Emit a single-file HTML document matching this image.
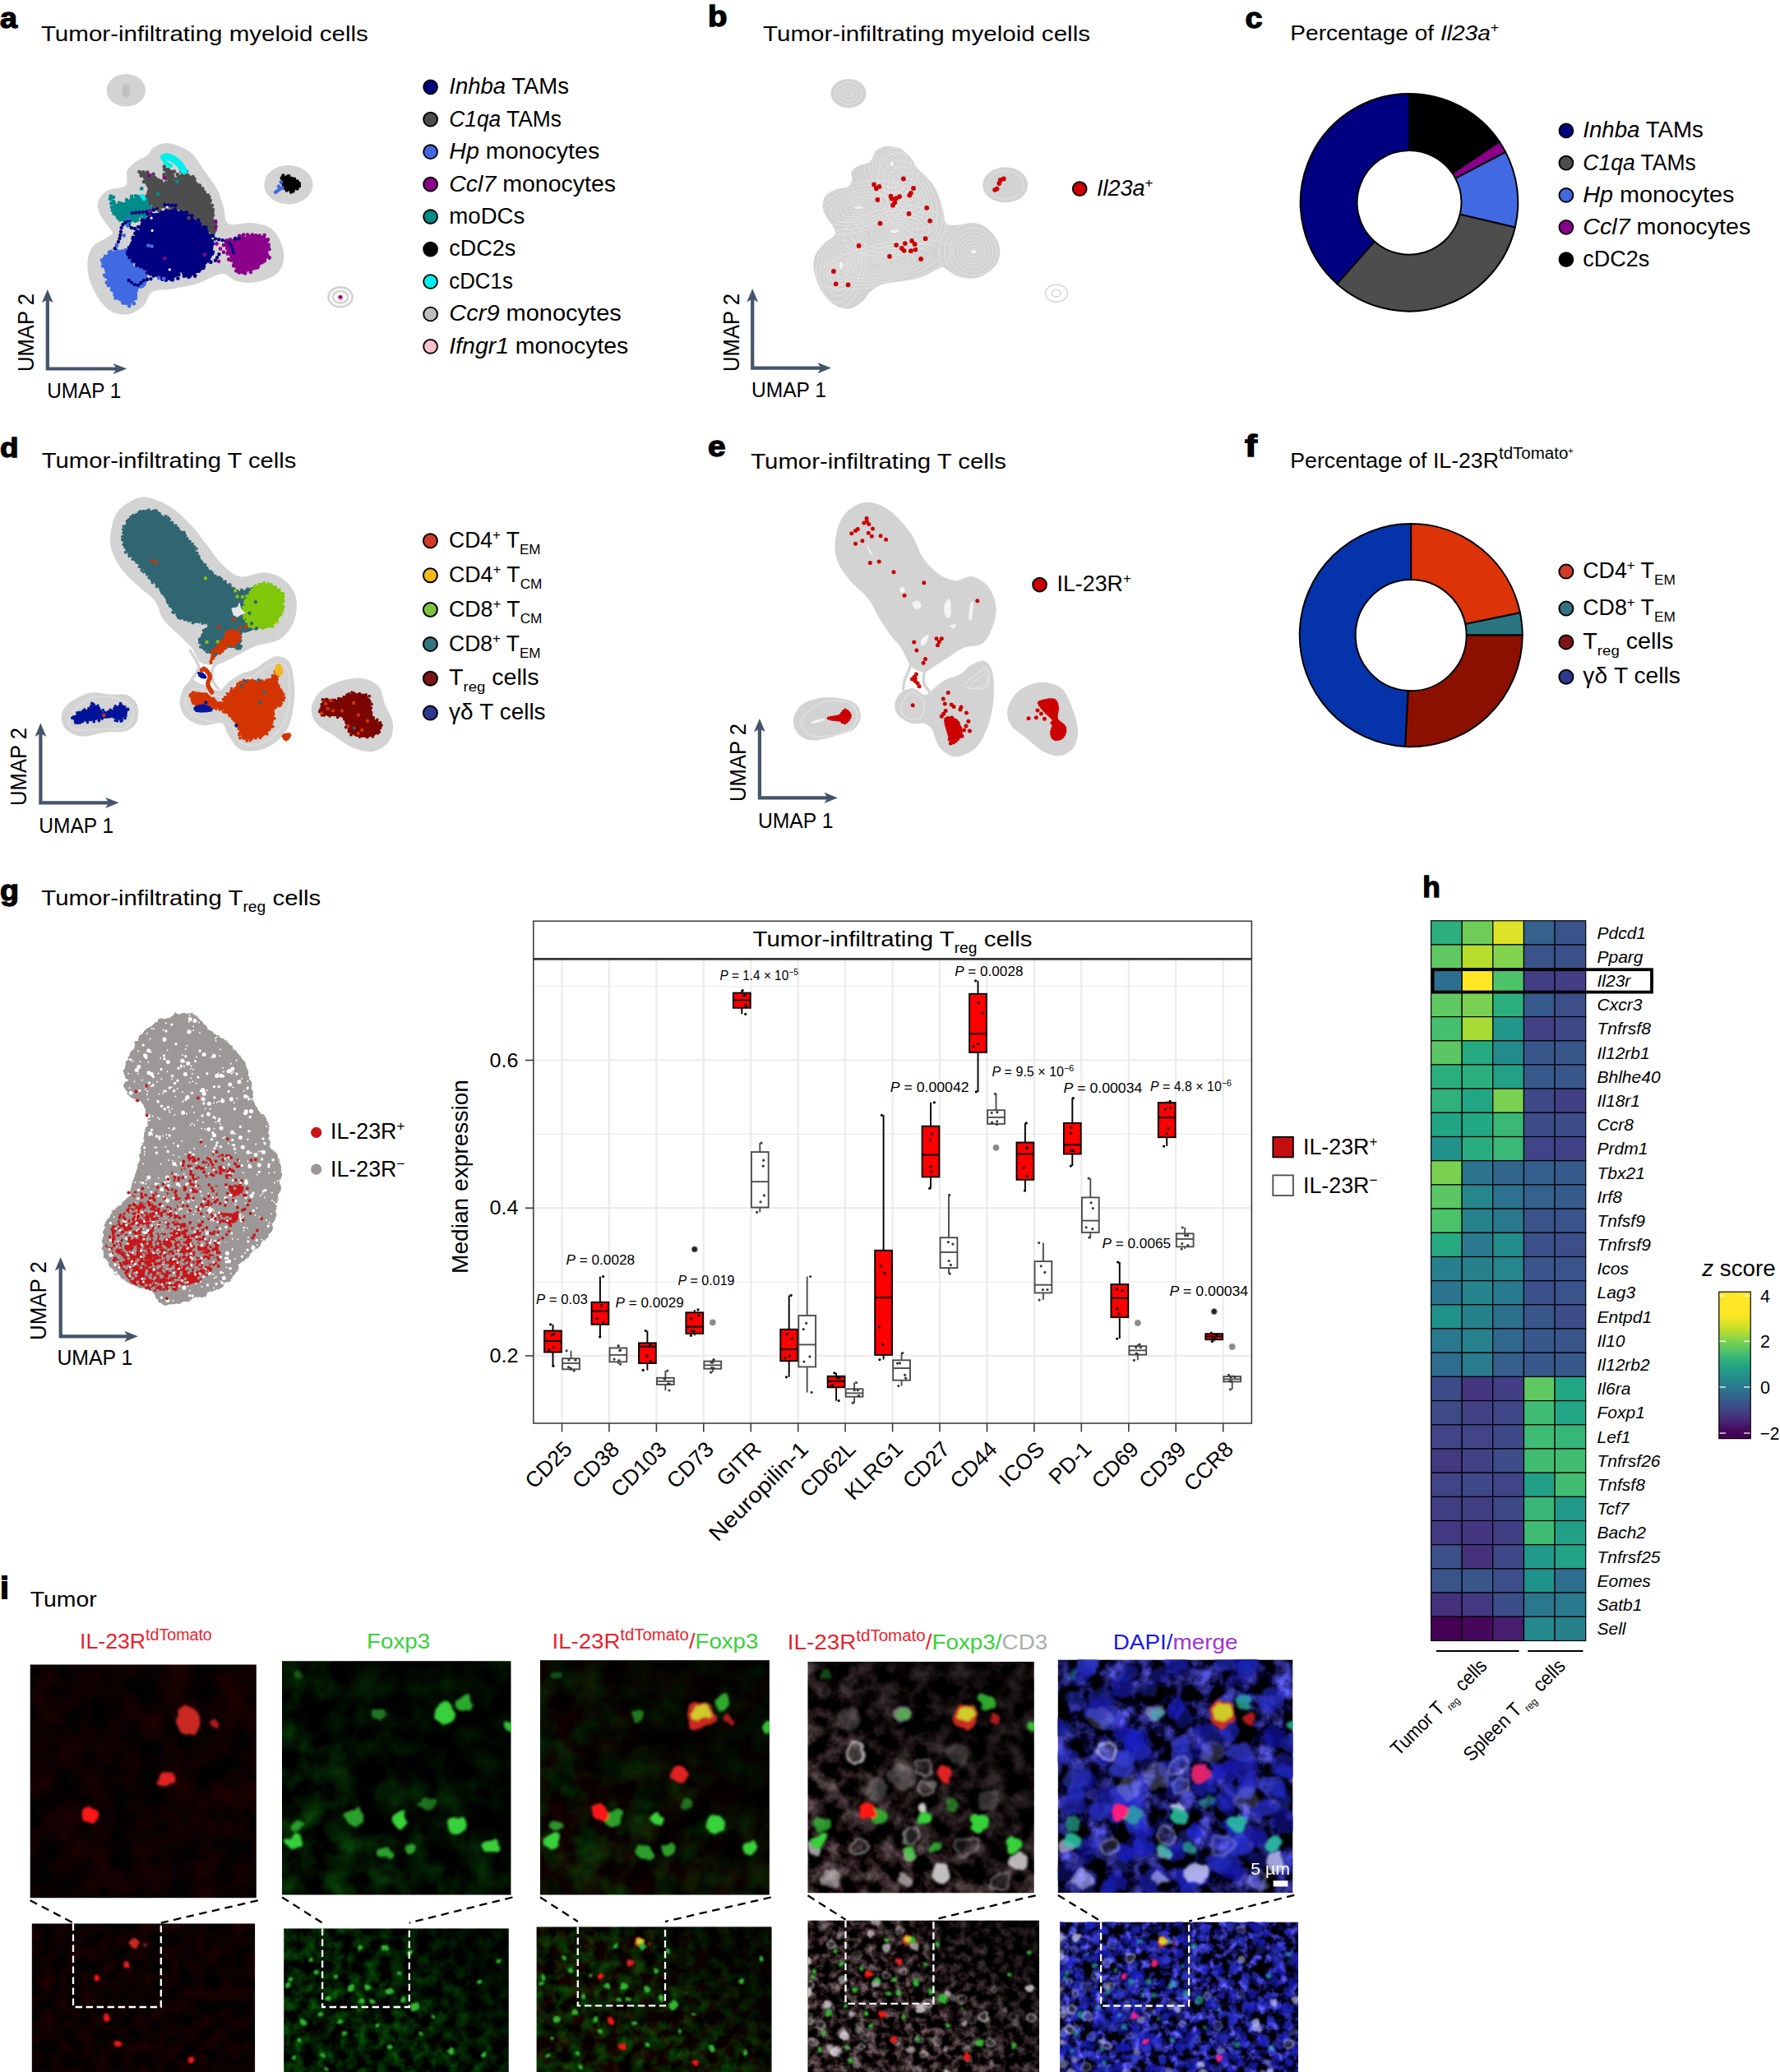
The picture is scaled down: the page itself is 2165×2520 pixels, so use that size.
<!DOCTYPE html>
<html><head><meta charset="utf-8"><title>Figure</title>
<style>
html,body{margin:0;padding:0;background:#fff}
svg{display:block;font-family:'Liberation Sans', sans-serif}
</style></head><body>
<svg width="2165" height="2520" viewBox="0 0 2165 2520">
<defs><filter id="b1" x="-30%" y="-30%" width="160%" height="160%"><feGaussianBlur stdDeviation="0.9"/></filter><filter id="b2" x="-30%" y="-30%" width="160%" height="160%"><feGaussianBlur stdDeviation="1.8"/></filter><filter id="b3" x="-30%" y="-30%" width="160%" height="160%"><feGaussianBlur stdDeviation="3.2"/></filter><filter id="b5" x="-30%" y="-30%" width="160%" height="160%"><feGaussianBlur stdDeviation="5.5"/></filter><filter id="cf" x="-20%" y="-20%" width="140%" height="140%"><feTurbulence type="fractalNoise" baseFrequency="0.06" numOctaves="2" seed="8" result="n"/><feDisplacementMap in="SourceGraphic" in2="n" scale="14" xChannelSelector="R" yChannelSelector="G"/><feGaussianBlur stdDeviation="1.5"/></filter><filter id="cfs" x="-20%" y="-20%" width="140%" height="140%"><feTurbulence type="fractalNoise" baseFrequency="0.12" numOctaves="2" seed="8" result="n"/><feDisplacementMap in="SourceGraphic" in2="n" scale="6" xChannelSelector="R" yChannelSelector="G"/><feGaussianBlur stdDeviation="0.8"/></filter><filter id="tR" x="0" y="0" width="100%" height="100%" color-interpolation-filters="sRGB"><feTurbulence type="fractalNoise" baseFrequency="0.03" numOctaves="3" seed="4"/><feColorMatrix type="matrix" values="0.2 0 0 0 -0.052  0 0.02 0 0 -0.008  0 0 0.015 0 -0.006  0 0 0 0 1"/></filter><filter id="tRs" x="0" y="0" width="100%" height="100%" color-interpolation-filters="sRGB"><feTurbulence type="fractalNoise" baseFrequency="0.06" numOctaves="3" seed="5"/><feColorMatrix type="matrix" values="0.2 0 0 0 -0.052  0 0.02 0 0 -0.008  0 0 0.015 0 -0.006  0 0 0 0 1"/></filter><filter id="tG" x="0" y="0" width="100%" height="100%" color-interpolation-filters="sRGB"><feTurbulence type="fractalNoise" baseFrequency="0.03" numOctaves="3" seed="9"/><feColorMatrix type="matrix" values="0 0.06 0 0 -0.022  0 0.55 0 0 -0.2  0 0.06 0 0 -0.022  0 0 0 0 1"/></filter><filter id="tGs" x="0" y="0" width="100%" height="100%" color-interpolation-filters="sRGB"><feTurbulence type="fractalNoise" baseFrequency="0.065" numOctaves="3" seed="11"/><feColorMatrix type="matrix" values="0 0.06 0 0 -0.022  0 0.66 0 0 -0.23  0 0.06 0 0 -0.022  0 0 0 0 1"/></filter><filter id="tRG" x="0" y="0" width="100%" height="100%" color-interpolation-filters="sRGB"><feTurbulence type="fractalNoise" baseFrequency="0.03" numOctaves="3" seed="9"/><feColorMatrix type="matrix" values="0.2 0 0 0 -0.052  0 0.5 0 0 -0.19  0 0.05 0 0 -0.02  0 0 0 0 1"/></filter><filter id="tRGs" x="0" y="0" width="100%" height="100%" color-interpolation-filters="sRGB"><feTurbulence type="fractalNoise" baseFrequency="0.065" numOctaves="3" seed="11"/><feColorMatrix type="matrix" values="0.2 0 0 0 -0.052  0 0.6 0 0 -0.215  0 0.05 0 0 -0.02  0 0 0 0 1"/></filter><filter id="tW" x="0" y="0" width="100%" height="100%" color-interpolation-filters="sRGB"><feTurbulence type="fractalNoise" baseFrequency="0.045" numOctaves="4" seed="21"/><feColorMatrix type="matrix" values="1.05 0 0 0 -0.4  0.93 0.05 0 0 -0.41  0.97 0 0 0 -0.4  0 0 0 0 1"/></filter><filter id="tWs" x="0" y="0" width="100%" height="100%" color-interpolation-filters="sRGB"><feTurbulence type="fractalNoise" baseFrequency="0.09" numOctaves="4" seed="23"/><feColorMatrix type="matrix" values="1.05 0 0 0 -0.4  0.93 0.05 0 0 -0.41  0.97 0 0 0 -0.4  0 0 0 0 1"/></filter><filter id="tB" x="0" y="0" width="100%" height="100%" color-interpolation-filters="sRGB"><feTurbulence type="fractalNoise" baseFrequency="0.04" numOctaves="4" seed="21"/><feColorMatrix type="matrix" values="0 0 1.0 0 -0.44  0 0 1.0 0 -0.44  0 0 2.3 0 -0.88  0 0 0 0 1"/></filter><filter id="tBs" x="0" y="0" width="100%" height="100%" color-interpolation-filters="sRGB"><feTurbulence type="fractalNoise" baseFrequency="0.085" numOctaves="4" seed="23"/><feColorMatrix type="matrix" values="0 0 1.0 0 -0.44  0 0 1.0 0 -0.44  0 0 2.5 0 -0.95  0 0 0 0 1"/></filter><linearGradient id="dk2" x1="0" y1="1" x2="0.9" y2="0"><stop offset="0.15" stop-color="#000" stop-opacity="0"/><stop offset="0.75" stop-color="#000" stop-opacity="0.62"/></linearGradient><linearGradient id="dk" x1="0" y1="0.6" x2="1" y2="0"><stop offset="0.35" stop-color="#000" stop-opacity="0"/><stop offset="0.8" stop-color="#000" stop-opacity="0.6"/></linearGradient><filter id="rag" x="-5%" y="-5%" width="110%" height="110%"><feTurbulence type="fractalNoise" baseFrequency="0.12" numOctaves="2" seed="2" result="n"/><feDisplacementMap in="SourceGraphic" in2="n" scale="7" xChannelSelector="R" yChannelSelector="G"/></filter></defs>
<rect width="2165" height="2520" fill="#fff"/>
<text x="0" y="33.6" font-size="35" textLength="21" lengthAdjust="spacingAndGlyphs" font-weight="bold" stroke="#000" stroke-width="1.3">a</text>
<text x="49.9" y="50.4" font-size="26.7" textLength="398" lengthAdjust="spacingAndGlyphs">Tumor-infiltrating myeloid cells</text>
<path d="M205.3,174.2C212.7,175.2 224.2,179.4 231.6,185.3C239,191.2 244.4,202.1 249.8,209.6C255.2,217 260.2,222.7 263.9,229.8C267.7,236.9 269.7,245 272,252C274.4,259.1 272,269.1 278.1,272.3C284.2,275.5 299.3,269.9 308.4,271.3C317.5,272.6 326.7,274.5 332.7,280.4C338.8,286.3 343.8,298.2 344.9,306.7C345.9,315.1 344.2,324.9 338.8,330.9C333.4,337 320.9,341.2 312.5,343.1C304.1,344.9 295.3,343.7 288.2,342C281.1,340.4 278.1,332.4 270,332.9C261.9,333.5 249.5,342 239.7,345.1C229.9,348.1 220.5,349.5 211.4,351.1C202.3,352.8 191.1,351.8 185.1,355.2C179,358.6 180,366.8 175,371.4C169.9,375.9 162.1,381.8 154.7,382.5C147.3,383.2 137.5,381 130.5,375.4C123.4,369.9 116.3,357.9 112.2,349.1C108.2,340.4 106.2,330.9 106.2,322.8C106.2,314.7 108.2,306.3 112.2,300.6C116.3,294.9 126.4,291.5 130.5,288.4C134.5,285.4 137.9,286.8 136.5,282.4C135.2,278 125.2,268.2 122.4,262.2C119.5,256.1 118,251 119.3,246C120.7,240.9 124.9,235.2 130.5,231.8C136,228.4 148.7,229.8 152.7,225.7C156.7,221.7 152.4,212.6 154.7,207.5C157.1,202.5 162.8,198.4 166.9,195.4C170.9,192.4 175.6,192 179,189.3C182.4,186.6 182.7,181.8 187.1,179.2C191.5,176.7 197.9,173.2 205.3,174.2Z" fill="#d3d3d3" />
<ellipse cx="153.3" cy="109.8" rx="23.7" ry="19.8" fill="#d3d3d3"/>
<ellipse cx="153.3" cy="110.3" rx="4.9" ry="8.5" fill="#c1c1c1"/>
<ellipse cx="350.9" cy="224.7" rx="29.7" ry="23.7" fill="#d3d3d3"/>
<ellipse cx="414" cy="361.3" rx="14.6" ry="11.9" fill="none" stroke="#d3d3d3" stroke-width="2.6"/>
<ellipse cx="414" cy="361.3" rx="9.1" ry="7.3" fill="none" stroke="#d3d3d3" stroke-width="2.6"/>
<circle cx="414" cy="362.3" r="3.6" fill="#ffc0cb"/><circle cx="414" cy="361.3" r="2.4" fill="#8b008b"/>
<path d="M134.9,238.3L136,240.2L138,244.7L140.6,248L143.5,248.5L146.8,247.7L150.7,246.4L153.2,245.3L156,243.9L158.8,242.4L161.8,241.1L164.8,240.3L168.2,240L171.8,239.9L175.4,240.2L178.6,240.9L181,241.9L183.6,244.9L184.7,249L184.1,253.1L182.5,255.4L180,257.9L177,260.3L173.9,262.6L170.9,264.6L168.1,266.3L165.2,267.9L162.3,269.2L159.4,270.2L156.7,270.6L153.5,270.6L150.5,269.9L147.6,268.6L145,266.6L143.2,264.4L141.6,261.7L140.1,258.6L138.8,255.4L137.7,252.4L136.5,248.3L135.5,243.9L134.9,240.1Z" fill="#008b8b"/><path d="M134.7,238.6h0M137.9,240h0M138.1,245.1h0M139.1,248h0M144.1,249.8h0M145,246.8h0M148.8,247.8h0M154.1,243.2h0M158.2,246h0M159.5,242.9h0M160.2,238.9h0M165,238.3h0M166.7,238.8h0M169.6,239.8h0M175.1,241.8h0M178.7,241.5h0M181,242.7h0M183.4,243.9h0M187,251.2h0M185.6,254h0M181.6,254.2h0M179,255.9h0M178.2,259.9h0M175.5,262.1h0M173,266.2h0M165.8,265h0M167.1,267.7h0M164.5,268.7h0M157.5,270.8h0M158,269.6h0M151.6,269.8h0M152.6,271.1h0M145.8,267.4h0M143.2,264.6h0M144.6,262.9h0M141.8,261.4h0M138.7,259.7h0M137.1,256.1h0M136,252.1h0M135.2,247.3h0M137.7,245.3h0M134,241.9h0" stroke="#008b8b" stroke-width="4.8" stroke-linecap="round" fill="none"/>
<path d="M170.9,209.6L172.8,208.9L176.3,209.4L180.7,210.8L185.1,212.6L187.6,214L190.6,216.1L193.7,218.4L196.7,220.7L199.5,222.5L201.7,223.7L203.3,223.7L203.8,222L203.3,218.7L202.2,214.5L201,210.2L200.2,206.7L200.2,204.5L202.3,203.9L205.6,205.2L209,207.4L211.4,209.6L211.7,213.3L210.9,217.6L211.4,219.7L213,218.7L215.3,216.2L218.1,213.3L220.9,210.7L223.5,209.6L226.4,210.1L229.3,211.8L232.3,214.5L235.6,217.7L237.5,219.4L239.6,221.4L241.8,223.6L244.1,225.9L246.3,228.3L248.4,230.8L250.2,233.3L251.8,235.9L253.2,238.8L254.3,241.9L255.2,245L256,248.2L256.6,251.5L257.2,254.8L257.9,258.1L258.6,261.2L259.4,264.6L260.2,268.2L260.9,271.8L261.5,275.1L262,278.1L262.1,280.6L261.9,282.4L260,284.3L256.5,283.2L251.8,280.4L250,279L248,277.2L245.8,275.1L243.5,272.9L241.1,270.5L238.7,268.1L236.3,265.9L233.9,263.9L231.6,262.2L228.7,260.3L225.8,258.6L222.9,257.1L220,255.8L217.1,254.7L214.2,253.8L211.4,253.1L207.9,252.6L204.2,252.8L200.6,253.1L197.1,253.5L193.9,253.5L191.1,253.1L187.7,251.4L184.9,249.1L182.7,246.3L181,242.9L180.3,240.3L180,237.4L179.9,234.2L179.8,230.9L179.6,227.7L179,224.7L177.4,221.2L175.1,217.6L172.8,214.2L171.2,211.4Z" fill="#4d4d4d"/><path d="M169.6,209.1h0M174.4,209.5h0M174.5,211.7h0M179.4,209.7h0M186.3,211.8h0M186.7,212.1h0M188.7,216.5h0M192.5,218.9h0M196.2,220.4h0M201.6,222.4h0M202.1,225.3h0M201.8,222.1h0M205.7,223.5h0M202.2,217.2h0M203.3,216.5h0M199.6,212.3h0M201.9,207.1h0M199.9,202.7h0M200.2,206.1h0M204.4,206.1h0M207.9,208.9h0M211.8,208.6h0M210.2,214.3h0M208.9,216.4h0M211.6,221.3h0M213.5,217.6h0M217.3,214.9h0M215.8,212.2h0M220.6,208.7h0M222,209h0M226.8,208.4h0M228.7,213.6h0M234.5,215.2h0M236.5,218h0M235.9,217.3h0M237.4,223.3h0M242.8,225.7h0M241.9,226.5h0M246.2,229.4h0M247.6,233.1h0M248.3,233.5h0M252.9,237.7h0M254.3,239.7h0M255.7,243.8h0M254.5,245.9h0M257.8,249.9h0M256.2,252.8h0M258.9,255.1h0M258.5,257.6h0M259,261.7h0M257.4,265.3h0M262.4,270h0M262,271.2h0M262.6,275.5h0M261.7,279.7h0M260.2,281.7h0M259.8,282.8h0M259.9,283h0M257.4,283.2h0M252.3,282.3h0M248.9,276.7h0M247.1,278h0M244.5,273.6h0M245.4,273.6h0M240.9,272.3h0M237.9,268.9h0M234.9,265.6h0M235.3,265.8h0M233.3,261.6h0M229.1,259.5h0M224.1,258.6h0M224.5,258.7h0M221,257.9h0M216.1,253.2h0M214,252.8h0M210,252.7h0M208.4,252.6h0M203.4,254.3h0M202.8,252.9h0M195.2,251.3h0M195.6,251.4h0M192.1,253.4h0M186.8,252.8h0M182.7,247.5h0M182.5,244.1h0M182.5,241.7h0M178.6,238.3h0M180.6,237.1h0M180.5,234.9h0M181.2,233h0M180.4,226.3h0M178.9,223.3h0M175.2,221.1h0M176.1,216.1h0M171.8,213.5h0M172.1,211.5h0" stroke="#4d4d4d" stroke-width="4.8" stroke-linecap="round" fill="none"/>
<path d="M199.2,191.4C200.1,191.2 202.1,189.9 204.5,190.6C206.9,191.2 211.1,193.4 213.8,195.4C216.4,197.4 218.8,200.4 220.5,202.5C222.1,204.6 223.3,207 223.9,207.9" fill="none" stroke="#00eeee" stroke-width="8.5" stroke-linecap="round"/>
<path d="M200.2,193.4C200.5,194.3 200.5,197.3 201.7,198.6C202.8,200 206.4,201 207.3,201.5" fill="none" stroke="#00eeee" stroke-width="5.5" stroke-linecap="round"/>
<path d="M126.8,312.7L128.5,310.7L131,308.9L134,307.4L137.1,306.2L140.2,305.3L143,304.6L146.9,304.2L150.8,304.3L154.4,305.3L157.2,307.1L158.4,309.5L159,312.9L159.3,316.7L159.9,320.2L161.2,322.8L164.3,324.6L168.3,325.4L172.3,326L175.4,327.3L177.9,330L179.3,333.4L179,337.4L177.9,339.7L176,342.3L173.7,345L171.3,347.8L169.1,350.6L167.3,353.2L165.7,356.3L164.4,359.5L163.4,362.5L162.3,365.2L161.2,367.3L158.5,370.5L155.1,371L152.5,370L149.3,368.4L146,366.1L143,363.3L141.1,361.1L139.3,358.5L137.5,355.7L135.8,352.8L134.2,349.9L132.9,347.1L131.5,343.9L130.3,340.7L129.3,337.5L128.5,334.3L127.8,330.9L127.2,327.9L126.6,324.6L126,321.3L125.7,318.1L125.9,315.2Z" fill="#4169e1"/><path d="M127.3,313.9h0M128,312h0M132.9,307h0M135.9,308.4h0M135.4,306h0M140.8,307.1h0M142.4,304.9h0M148.7,305.5h0M152.9,304.2h0M155.1,303.9h0M158.2,308.5h0M159.1,310.5h0M157.7,314.8h0M161.5,318.9h0M160.1,321.5h0M160.4,324.7h0M165.9,323.9h0M166.4,325.1h0M172.6,327.3h0M175.3,325.1h0M179.3,328h0M180.7,331.9h0M178.2,338.7h0M176.2,338.1h0M176.1,343.3h0M175.3,345.9h0M173.4,347.8h0M171.1,348.7h0M166,353.3h0M164.7,357.3h0M165.1,359.6h0M164.9,362.8h0M161.5,364.7h0M162.8,369.2h0M157.2,372.1h0M157.3,371.1h0M152.8,368.7h0M149.5,368.4h0M146.5,363.9h0M145.2,363.4h0M140.7,362.5h0M139.6,358.5h0M138.4,353.7h0M136,352.4h0M136.4,351.8h0M131.8,347h0M129.8,343.6h0M131.8,342.6h0M129.2,336.7h0M127.1,334.8h0M129.8,329.2h0M128.5,325.7h0M125.1,323.4h0M126.9,320.5h0M125.1,318.7h0M124.1,316.3h0" stroke="#4169e1" stroke-width="4.8" stroke-linecap="round" fill="none"/>
<path d="M200,258.5L203,258.1L206.1,257.5L209.3,257L212.6,256.7L215.8,256.9L219,257.6L222.3,258.6L225.5,259.9L228.6,261.5L231.6,263.2L234.3,265.1L236.9,267.3L239.4,269.6L241.8,272L244.1,274.3L246.6,276.4L249,278.5L251.4,280.6L253.5,282.8L255.3,285.2L256.9,288.5L258,292.1L258.7,295.8L259.1,299.4L259.1,303L258.7,306.6L257.9,310.2L256.7,313.5L254.9,316.6L252.6,319.4L250,322.1L247.4,324.7L244.7,327.2L241.9,329.8L239,332.1L236.2,334L232.3,336L228.5,337.3L225.3,337.2L223.4,334.3L222.1,329.9L220.7,327.7L218.9,329.7L217,333.9L214.2,337.2L211.2,338.3L207.5,338.8L203.6,338.9L200,338.8L196.7,338.5L193.5,337.8L190.4,336.8L187.5,335.6L185,333.9L182.9,331.8L180.7,329.7L178.2,327.7L175.1,326.1L171.7,324.7L168.4,323.3L165.4,321.4L162.9,319.1L160.7,316.3L158.9,313.4L157.6,310.5L156.9,307.4L156.7,304.2L156.9,301L157.6,298L158.7,295.1L160.3,292.3L162.2,289.6L164,286.8L166,284.1L168.1,281.3L170.1,278.5L171.7,275.9L172.8,272.5L173.3,269.3L175,266.4L177.4,264.5L180.6,262.8L184.1,261.3L187.5,260.1L190.6,259.4L193.6,259L196.7,258.8Z" fill="#000080"/><path d="M198.3,258.6h0M201.8,256.7h0M206.2,257.2h0M208.8,256.6h0M212.7,255.1h0M214.4,257.5h0M219.7,257.7h0M223.9,259.1h0M227.1,258.7h0M229.7,262.9h0M233.4,262.3h0M233.5,267h0M235.6,269.6h0M241.2,267.9h0M240.6,273h0M243,272.4h0M248.1,276.1h0M250.4,276.8h0M250.9,281.5h0M251.3,281.4h0M256.1,287.1h0M259,286.8h0M258,293.3h0M258.8,296.6h0M257.7,297.4h0M257.3,300.9h0M258.9,306.7h0M258.2,308.6h0M255.2,312.2h0M256.4,318.8h0M254.5,317.5h0M248,324.1h0M247.2,325.9h0M243.9,327.1h0M242,329.5h0M239.5,329.9h0M237.2,335.5h0M230.9,335.7h0M229.6,336.8h0M223.9,335.7h0M223.4,332h0M223.9,331.3h0M221.6,329.3h0M219.5,329.3h0M217.4,333.9h0M216.4,338.6h0M210,340.2h0M208.6,340.1h0M205.1,338.5h0M201.9,340.6h0M197.6,339.7h0M194.7,337.4h0M191.4,334.8h0M186.8,335.4h0M182.8,333.2h0M183.5,332.4h0M179.4,331.7h0M179,326.9h0M175.9,326.4h0M171.9,324.2h0M170.7,323.9h0M166.4,322.6h0M165.2,316.9h0M161.2,317.4h0M157.7,313h0M155.5,309.1h0M156.3,305.6h0M155.5,306.1h0M157.1,301.1h0M159.7,298.3h0M161,295.7h0M161.7,290.3h0M162.6,290.8h0M161.9,288.8h0M164.4,283.9h0M166.6,281.2h0M170.6,276.5h0M173.8,275.5h0M172.9,273h0M172.7,268.3h0M175.7,266.7h0M176.4,265.5h0M179.7,260.5h0M183,259.2h0M185.9,261.3h0M190,261.2h0M194.7,257h0M198.9,260.9h0" stroke="#000080" stroke-width="4.8" stroke-linecap="round" fill="none"/>
<path d="M274.1,296.3L275.4,294.1L277.9,292.5L281.1,291.2L285,290.1L287.6,289.4L290.7,288.8L294,288.2L297.4,287.7L300.9,287.3L304.1,287L307,286.8L310.8,286.7L314.4,286.6L317.7,286.8L320.6,287.3L322.8,288.4L324.6,290.8L325.5,293.9L325.9,297.5L326,301L326.3,304.5L326.3,308.2L325.8,311.8L324.4,315.1L322.8,317.2L320.8,319.3L318.4,321.2L315.8,323L313.1,324.7L310.3,326.3L307.2,327.8L303.8,329.3L300.3,330.7L296.8,331.8L293.7,332.5L291.3,332.5L288.2,330.7L286.6,327L285,323L283.4,320.2L281.7,317.1L280.2,313.8L278.7,310.5L277.1,306.9L275.3,303L274.1,299.4Z" fill="#8b008b"/><path d="M272.1,298.2h0M275.1,294h0M280,291.3h0M281.2,293.2h0M286,289.9h0M289.8,290.9h0M291.1,287h0M294.6,288h0M296.1,285.7h0M301,285.6h0M303.9,287.8h0M306.8,285.7h0M311.2,286.3h0M315.7,286.7h0M320,288.9h0M321.6,286.1h0M321,290.3h0M325.9,291.4h0M324.9,292.9h0M326.7,297.8h0M326.5,301.6h0M327.4,303.1h0M325.2,310.4h0M327.7,313.5h0M322.3,313.1h0M321.8,316.9h0M321.4,317.4h0M318.6,319.2h0M313.9,323.8h0M313.3,325.3h0M309.7,326.2h0M305.9,327.1h0M304.9,330.9h0M298.3,328.9h0M298.2,332.4h0M295,331.1h0M290.9,331.4h0M289.6,330h0M287.3,329.3h0M284.2,323.3h0M284.5,322.1h0M281.4,316.5h0M278.3,315.5h0M276.8,308.6h0M277.4,306.8h0M276.2,302.1h0M275.4,297.4h0" stroke="#8b008b" stroke-width="4.8" stroke-linecap="round" fill="none"/>
<path d="M343.2,216L345.3,213.9L349.3,214L351.8,215L355,216.5L358.3,218.4L361.2,220.3L363.1,222.1L363.2,226.3L361,229.8L357,232.6L353.1,232.8L349.3,231.8L346.9,229.3L345.3,225.7L344.1,222.5L343.2,218.8Z" fill="#000"/><path d="M342.7,216.4h0M344.4,213.5h0M349.8,214.4h0M351.4,214.3h0M354.7,217h0M358.1,217.6h0M361.6,220.5h0M363.9,223h0M364,226.2h0M361.6,229.4h0M356.6,232.4h0M354,233.6h0M348.8,231.5h0M346.7,229.1h0M345.1,225.5h0M343.5,222.6h0M343.8,218.9h0" stroke="#000" stroke-width="4.4" stroke-linecap="round" fill="none"/>
<path d="M172.9,238.3h0M175,241.5h0" stroke="#00eeee" stroke-width="5.2" stroke-linecap="round" fill="none"/>
<path d="M156.7,268.2C155.4,269.2 150.3,271.6 148.7,274.3C147,277 147.3,281.4 146.6,284.4C146,287.4 145.8,289.5 144.6,292.5C143.4,295.5 140.4,300.9 139.6,302.6" fill="none" stroke="#000080" stroke-width="4.4" stroke-linecap="round" stroke-dasharray="0 4.4"/>
<path d="M160.8,259.1C162.5,258.9 167.5,258.4 170.9,258.1C174.3,257.8 177.6,257.8 181,257.1C184.4,256.4 189.4,254.6 191.1,254.1" fill="none" stroke="#000080" stroke-width="4.4" stroke-linecap="round" stroke-dasharray="0 4.4"/>
<path d="M156.7,274.3C157.8,275 160.5,278.3 162.8,278.3C165.2,278.3 169.6,275 170.9,274.3" fill="none" stroke="#000080" stroke-width="4.4" stroke-linecap="round" stroke-dasharray="0 4.4"/>
<path d="M200.2,249C202.4,249.2 211.2,249.8 213.4,250" fill="none" stroke="#000080" stroke-width="4.4" stroke-linecap="round" stroke-dasharray="0 4.4"/>
<path d="M261.9,290.5C263.6,290.8 269,291.5 272,292.5C275.1,293.5 278.1,293.8 280.1,296.5C282.2,299.2 283.5,306.7 284.2,308.7" fill="none" stroke="#000080" stroke-width="4.4" stroke-linecap="round" stroke-dasharray="0 4.4"/>
<path d="M286.2,290.5C287.5,290.3 292.9,289.6 294.3,289.5" fill="none" stroke="#000080" stroke-width="4.4" stroke-linecap="round" stroke-dasharray="0 4.4"/>
<path d="M261.9,316.8C262.9,315.1 267,308.3 268,306.7" fill="none" stroke="#000080" stroke-width="4.4" stroke-linecap="round" stroke-dasharray="0 4.4"/>
<path d="M156.7,341C158.4,342 163.8,347.1 166.9,347.1C169.9,347.1 171.9,342.4 175,341C178,339.7 183.4,339.4 185.1,339" fill="none" stroke="#000080" stroke-width="4.4" stroke-linecap="round" stroke-dasharray="0 4.4"/>
<path d="M229.6,335C230.2,334.3 232.9,331.6 233.6,330.9" fill="none" stroke="#000080" stroke-width="4.4" stroke-linecap="round" stroke-dasharray="0 4.4"/>
<path d="M200.2,314.3h0M181.4,213.2h0M199.8,216h0M182,257.1h0M261.9,269.2h0M261.9,276.7h0M263.5,296.5h0M268,302.6h0M272,306.7h0M266,317.8h0M248.8,309.7h0M276.1,292.5h0" stroke="#8b008b" stroke-width="4.8" stroke-linecap="round" fill="none"/>
<path d="M172.3,229.4h0M215.4,220.7h0M192.1,235.9h0M176,264.2h0" stroke="#008b8b" stroke-width="4.8" stroke-linecap="round" fill="none"/>
<path d="M180.4,298.6h0M184.7,299.6h0M156.3,265.8h0M155.1,274.3h0M150.7,286.4h0M142.2,298.6h0M193.2,338h0M199.2,339h0" stroke="#4169e1" stroke-width="4.8" stroke-linecap="round" fill="none"/>
<path d="M193.2,256.1h0M229.6,265.2h0M258.9,282.4h0" stroke="#4d4d4d" stroke-width="4.8" stroke-linecap="round" fill="none"/>
<path d="M184.1,265.2h0M203.3,252h0M185.1,280.4h0M206.3,327.9h0" stroke="#ffffff" stroke-width="3.2" stroke-linecap="round" fill="none"/>
<path d="M335.1,233.8C336.1,233.2 339,230.8 340.8,229.8C342.6,228.8 345,228.1 345.9,227.8" fill="none" stroke="#4169e1" stroke-width="4.6" stroke-linecap="round" stroke-dasharray="0 2.5"/>
<path d="M341.8,221.3h0M339.2,226.8h0" stroke="#4169e1" stroke-width="4.8" stroke-linecap="round" fill="none"/>
<path d="M57.8,363.9V448.5H142.2" fill="none" stroke="#44546a" stroke-width="4.2" stroke-linejoin="miter"/><path d="M57.8,351.9L50.9,368.3L57.8,364.3L64.7,368.3Z" fill="#44546a"/><path d="M154.2,448.5L137.6,441.9L141.8,448.5L137.6,455.1Z" fill="#44546a"/>
<text x="40.6" y="452" font-size="28.2" textLength="95" lengthAdjust="spacingAndGlyphs" transform="rotate(-90 40.6 452)">UMAP 2</text>
<text x="57.3" y="483.9" font-size="26.2" textLength="90" lengthAdjust="spacingAndGlyphs">UMAP 1</text>
<circle cx="523.6" cy="105.8" r="8.4" fill="#000080" stroke="#000" stroke-width="1.9"/>
<text x="546.3" y="114.2" font-size="27" textLength="145.7" lengthAdjust="spacingAndGlyphs"><tspan font-style="italic">Inhba</tspan> TAMs</text>
<circle cx="523.6" cy="145.2" r="8.4" fill="#4d4d4d" stroke="#000" stroke-width="1.9"/>
<text x="546.3" y="153.7" font-size="27" textLength="136.6" lengthAdjust="spacingAndGlyphs"><tspan font-style="italic">C1qa</tspan> TAMs</text>
<circle cx="523.6" cy="184.7" r="8.4" fill="#4169e1" stroke="#000" stroke-width="1.9"/>
<text x="546.3" y="193.1" font-size="27" textLength="182.9" lengthAdjust="spacingAndGlyphs"><tspan font-style="italic">Hp</tspan> monocytes</text>
<circle cx="523.6" cy="224.2" r="8.4" fill="#8b008b" stroke="#000" stroke-width="1.9"/>
<text x="546.3" y="232.6" font-size="27" textLength="202.7" lengthAdjust="spacingAndGlyphs"><tspan font-style="italic">Ccl7</tspan> monocytes</text>
<circle cx="523.6" cy="263.6" r="8.4" fill="#008b8b" stroke="#000" stroke-width="1.9"/>
<text x="546.3" y="272" font-size="27" textLength="92" lengthAdjust="spacingAndGlyphs">moDCs</text>
<circle cx="523.6" cy="303.1" r="8.4" fill="#000000" stroke="#000" stroke-width="1.9"/>
<text x="546.3" y="311.4" font-size="27" textLength="81" lengthAdjust="spacingAndGlyphs">cDC2s</text>
<circle cx="523.6" cy="342.5" r="8.4" fill="#00eeee" stroke="#000" stroke-width="1.9"/>
<text x="546.3" y="350.9" font-size="27" textLength="77.5" lengthAdjust="spacingAndGlyphs">cDC1s</text>
<circle cx="523.6" cy="382" r="8.4" fill="#bebebe" stroke="#000" stroke-width="1.9"/>
<text x="546.3" y="390.4" font-size="27" textLength="209.5" lengthAdjust="spacingAndGlyphs"><tspan font-style="italic">Ccr9</tspan> monocytes</text>
<circle cx="523.6" cy="421.4" r="8.4" fill="#ffc0cb" stroke="#000" stroke-width="1.9"/>
<text x="546.3" y="429.8" font-size="27" textLength="218" lengthAdjust="spacingAndGlyphs"><tspan font-style="italic">Ifngr1</tspan> monocytes</text>
<text x="861" y="31.5" font-size="35" textLength="23.5" lengthAdjust="spacingAndGlyphs" font-weight="bold" stroke="#000" stroke-width="1.3">b</text>
<text x="928" y="50.3" font-size="26.7" textLength="398" lengthAdjust="spacingAndGlyphs">Tumor-infiltrating myeloid cells</text>
<clipPath id="cb"><path d="M1082.6,177.9C1086.3,178.2 1091.9,179 1096.1,181.2C1100.2,183.5 1103.9,187.4 1107.3,191.3C1110.7,195.3 1112.9,200.7 1116.3,204.8C1119.7,209 1124.2,212.3 1127.5,216.1C1130.9,219.8 1133.9,222.8 1136.5,227.3C1139.1,231.8 1141.4,237.8 1143.3,243C1145.1,248.3 1146.4,253.9 1147.8,258.8C1149.1,263.6 1148.1,269.8 1151.1,272.2C1154.1,274.7 1160.3,273.6 1165.7,273.4C1171.2,273.2 1178.1,270.6 1183.7,271.1C1189.3,271.7 1194.8,273.6 1199.4,276.7C1204.1,279.9 1209,285.4 1211.8,290.2C1214.6,295.1 1216.3,300.7 1216.3,306C1216.3,311.2 1214.6,317.2 1211.8,321.7C1209,326.2 1204.1,330.1 1199.4,332.9C1194.8,335.7 1189.3,338 1183.7,338.5C1178.1,339.1 1171,338 1165.7,336.3C1160.5,334.6 1155.6,330.3 1152.2,328.4C1148.9,326.6 1149.3,324.3 1145.5,325.1C1141.8,325.8 1135.4,330.5 1129.8,332.9C1124.2,335.4 1118.5,338 1111.8,339.7C1105.1,341.3 1096.1,341.9 1089.3,343C1082.6,344.2 1076.6,344.3 1071.3,346.4C1066.1,348.5 1061.6,352 1057.9,355.4C1054.1,358.8 1053,363.3 1048.9,366.6C1044.8,370 1038.8,374.9 1033.1,375.6C1027.5,376.4 1020.4,374.1 1015.2,371.1C1009.9,368.1 1005.4,362.9 1001.7,357.6C997.9,352.4 994.8,345.7 992.7,339.7C990.6,333.7 989.3,326.9 989.3,321.7C989.3,316.4 990.3,312.7 992.7,308.2C995.1,303.7 1000.2,298.5 1003.9,294.7C1007.7,291 1013.5,288.7 1015.2,285.7C1016.9,282.7 1015.5,280.1 1014,276.7C1012.5,273.4 1008.4,269.6 1006.2,265.5C1003.9,261.4 1000.9,256.5 1000.6,252C1000.2,247.5 1001.5,242.1 1003.9,238.5C1006.4,235 1010.7,232.5 1015.2,230.7C1019.7,228.8 1027.3,229.4 1030.9,227.3C1034.5,225.2 1035.8,221.3 1036.5,218.3C1037.3,215.3 1034.1,212.1 1035.4,209.3C1036.7,206.5 1040.6,203.5 1044.4,201.5C1048.1,199.4 1054.5,199.8 1057.9,197C1061.2,194.2 1062,187.6 1064.6,184.6C1067.2,181.6 1070.6,180.1 1073.6,179C1076.6,177.9 1078.8,177.5 1082.6,177.9Z"/></clipPath>
<path d="M1082.6,177.9C1086.3,178.2 1091.9,179 1096.1,181.2C1100.2,183.5 1103.9,187.4 1107.3,191.3C1110.7,195.3 1112.9,200.7 1116.3,204.8C1119.7,209 1124.2,212.3 1127.5,216.1C1130.9,219.8 1133.9,222.8 1136.5,227.3C1139.1,231.8 1141.4,237.8 1143.3,243C1145.1,248.3 1146.4,253.9 1147.8,258.8C1149.1,263.6 1148.1,269.8 1151.1,272.2C1154.1,274.7 1160.3,273.6 1165.7,273.4C1171.2,273.2 1178.1,270.6 1183.7,271.1C1189.3,271.7 1194.8,273.6 1199.4,276.7C1204.1,279.9 1209,285.4 1211.8,290.2C1214.6,295.1 1216.3,300.7 1216.3,306C1216.3,311.2 1214.6,317.2 1211.8,321.7C1209,326.2 1204.1,330.1 1199.4,332.9C1194.8,335.7 1189.3,338 1183.7,338.5C1178.1,339.1 1171,338 1165.7,336.3C1160.5,334.6 1155.6,330.3 1152.2,328.4C1148.9,326.6 1149.3,324.3 1145.5,325.1C1141.8,325.8 1135.4,330.5 1129.8,332.9C1124.2,335.4 1118.5,338 1111.8,339.7C1105.1,341.3 1096.1,341.9 1089.3,343C1082.6,344.2 1076.6,344.3 1071.3,346.4C1066.1,348.5 1061.6,352 1057.9,355.4C1054.1,358.8 1053,363.3 1048.9,366.6C1044.8,370 1038.8,374.9 1033.1,375.6C1027.5,376.4 1020.4,374.1 1015.2,371.1C1009.9,368.1 1005.4,362.9 1001.7,357.6C997.9,352.4 994.8,345.7 992.7,339.7C990.6,333.7 989.3,326.9 989.3,321.7C989.3,316.4 990.3,312.7 992.7,308.2C995.1,303.7 1000.2,298.5 1003.9,294.7C1007.7,291 1013.5,288.7 1015.2,285.7C1016.9,282.7 1015.5,280.1 1014,276.7C1012.5,273.4 1008.4,269.6 1006.2,265.5C1003.9,261.4 1000.9,256.5 1000.6,252C1000.2,247.5 1001.5,242.1 1003.9,238.5C1006.4,235 1010.7,232.5 1015.2,230.7C1019.7,228.8 1027.3,229.4 1030.9,227.3C1034.5,225.2 1035.8,221.3 1036.5,218.3C1037.3,215.3 1034.1,212.1 1035.4,209.3C1036.7,206.5 1040.6,203.5 1044.4,201.5C1048.1,199.4 1054.5,199.8 1057.9,197C1061.2,194.2 1062,187.6 1064.6,184.6C1067.2,181.6 1070.6,180.1 1073.6,179C1076.6,177.9 1078.8,177.5 1082.6,177.9Z" fill="#d3d3d3" />
<g clip-path="url(#cb)" fill="none" stroke="#e6e6e6" stroke-width="0.8"><ellipse cx="1084.8" cy="199.2" rx="2.4" ry="3" transform="rotate(0 1084.8 199.2)"/><ellipse cx="1084.8" cy="199.2" rx="5.6" ry="7" transform="rotate(0 1084.8 199.2)"/><ellipse cx="1084.8" cy="199.2" rx="8.8" ry="11" transform="rotate(0 1084.8 199.2)"/><ellipse cx="1084.8" cy="199.2" rx="12" ry="15" transform="rotate(0 1084.8 199.2)"/><ellipse cx="1084.8" cy="199.2" rx="15.2" ry="19" transform="rotate(0 1084.8 199.2)"/><ellipse cx="1084.8" cy="199.2" rx="19.2" ry="24" transform="rotate(0 1084.8 199.2)"/><ellipse cx="1084.8" cy="199.2" rx="23.2" ry="29" transform="rotate(0 1084.8 199.2)"/><ellipse cx="1084.8" cy="199.2" rx="28" ry="35" transform="rotate(0 1084.8 199.2)"/><ellipse cx="1084.8" cy="199.2" rx="33.6" ry="42" transform="rotate(0 1084.8 199.2)"/><ellipse cx="1044.4" cy="252" rx="4.5" ry="2.1" transform="rotate(-15 1044.4 252)"/><ellipse cx="1044.4" cy="252" rx="10.5" ry="4.9" transform="rotate(-15 1044.4 252)"/><ellipse cx="1044.4" cy="252" rx="16.5" ry="7.7" transform="rotate(-15 1044.4 252)"/><ellipse cx="1044.4" cy="252" rx="22.5" ry="10.5" transform="rotate(-15 1044.4 252)"/><ellipse cx="1044.4" cy="252" rx="28.5" ry="13.3" transform="rotate(-15 1044.4 252)"/><ellipse cx="1044.4" cy="252" rx="36" ry="16.8" transform="rotate(-15 1044.4 252)"/><ellipse cx="1044.4" cy="252" rx="43.5" ry="20.3" transform="rotate(-15 1044.4 252)"/><ellipse cx="1044.4" cy="252" rx="52.5" ry="24.5" transform="rotate(-15 1044.4 252)"/><ellipse cx="1044.4" cy="252" rx="63" ry="29.4" transform="rotate(-15 1044.4 252)"/><ellipse cx="1088.2" cy="281.2" rx="4.5" ry="2.1" transform="rotate(-8 1088.2 281.2)"/><ellipse cx="1088.2" cy="281.2" rx="10.5" ry="4.9" transform="rotate(-8 1088.2 281.2)"/><ellipse cx="1088.2" cy="281.2" rx="16.5" ry="7.7" transform="rotate(-8 1088.2 281.2)"/><ellipse cx="1088.2" cy="281.2" rx="22.5" ry="10.5" transform="rotate(-8 1088.2 281.2)"/><ellipse cx="1088.2" cy="281.2" rx="28.5" ry="13.3" transform="rotate(-8 1088.2 281.2)"/><ellipse cx="1088.2" cy="281.2" rx="36" ry="16.8" transform="rotate(-8 1088.2 281.2)"/><ellipse cx="1088.2" cy="281.2" rx="43.5" ry="20.3" transform="rotate(-8 1088.2 281.2)"/><ellipse cx="1088.2" cy="281.2" rx="52.5" ry="24.5" transform="rotate(-8 1088.2 281.2)"/><ellipse cx="1088.2" cy="281.2" rx="63" ry="29.4" transform="rotate(-8 1088.2 281.2)"/><ellipse cx="1023" cy="322.8" rx="2.1" ry="3.9" transform="rotate(10 1023 322.8)"/><ellipse cx="1023" cy="322.8" rx="4.9" ry="9.1" transform="rotate(10 1023 322.8)"/><ellipse cx="1023" cy="322.8" rx="7.7" ry="14.3" transform="rotate(10 1023 322.8)"/><ellipse cx="1023" cy="322.8" rx="10.5" ry="19.5" transform="rotate(10 1023 322.8)"/><ellipse cx="1023" cy="322.8" rx="13.3" ry="24.7" transform="rotate(10 1023 322.8)"/><ellipse cx="1023" cy="322.8" rx="16.8" ry="31.2" transform="rotate(10 1023 322.8)"/><ellipse cx="1023" cy="322.8" rx="20.3" ry="37.7" transform="rotate(10 1023 322.8)"/><ellipse cx="1023" cy="322.8" rx="24.5" ry="45.5" transform="rotate(10 1023 322.8)"/><ellipse cx="1023" cy="322.8" rx="29.4" ry="54.6" transform="rotate(10 1023 322.8)"/><ellipse cx="1183.7" cy="306" rx="3" ry="3" transform="rotate(0 1183.7 306)"/><ellipse cx="1183.7" cy="306" rx="7" ry="7" transform="rotate(0 1183.7 306)"/><ellipse cx="1183.7" cy="306" rx="11" ry="11" transform="rotate(0 1183.7 306)"/><ellipse cx="1183.7" cy="306" rx="15" ry="15" transform="rotate(0 1183.7 306)"/><ellipse cx="1183.7" cy="306" rx="19" ry="19" transform="rotate(0 1183.7 306)"/><ellipse cx="1183.7" cy="306" rx="24" ry="24" transform="rotate(0 1183.7 306)"/><ellipse cx="1183.7" cy="306" rx="29" ry="29" transform="rotate(0 1183.7 306)"/><ellipse cx="1183.7" cy="306" rx="35" ry="35" transform="rotate(0 1183.7 306)"/><ellipse cx="1183.7" cy="306" rx="42" ry="42" transform="rotate(0 1183.7 306)"/><ellipse cx="1075.8" cy="321.7" rx="6" ry="1.8" transform="rotate(-12 1075.8 321.7)"/><ellipse cx="1075.8" cy="321.7" rx="14" ry="4.2" transform="rotate(-12 1075.8 321.7)"/><ellipse cx="1075.8" cy="321.7" rx="22" ry="6.6" transform="rotate(-12 1075.8 321.7)"/><ellipse cx="1075.8" cy="321.7" rx="30" ry="9" transform="rotate(-12 1075.8 321.7)"/><ellipse cx="1075.8" cy="321.7" rx="38" ry="11.4" transform="rotate(-12 1075.8 321.7)"/><ellipse cx="1075.8" cy="321.7" rx="48" ry="14.4" transform="rotate(-12 1075.8 321.7)"/><ellipse cx="1075.8" cy="321.7" rx="58" ry="17.4" transform="rotate(-12 1075.8 321.7)"/><ellipse cx="1075.8" cy="321.7" rx="70" ry="21" transform="rotate(-12 1075.8 321.7)"/><ellipse cx="1075.8" cy="321.7" rx="84" ry="25.2" transform="rotate(-12 1075.8 321.7)"/><ellipse cx="1107.3" cy="240.8" rx="2.4" ry="4.2" transform="rotate(-25 1107.3 240.8)"/><ellipse cx="1107.3" cy="240.8" rx="5.6" ry="9.8" transform="rotate(-25 1107.3 240.8)"/><ellipse cx="1107.3" cy="240.8" rx="8.8" ry="15.4" transform="rotate(-25 1107.3 240.8)"/><ellipse cx="1107.3" cy="240.8" rx="12" ry="21" transform="rotate(-25 1107.3 240.8)"/><ellipse cx="1107.3" cy="240.8" rx="15.2" ry="26.6" transform="rotate(-25 1107.3 240.8)"/><ellipse cx="1107.3" cy="240.8" rx="19.2" ry="33.6" transform="rotate(-25 1107.3 240.8)"/><ellipse cx="1107.3" cy="240.8" rx="23.2" ry="40.6" transform="rotate(-25 1107.3 240.8)"/><ellipse cx="1107.3" cy="240.8" rx="28" ry="49" transform="rotate(-25 1107.3 240.8)"/><ellipse cx="1107.3" cy="240.8" rx="33.6" ry="58.8" transform="rotate(-25 1107.3 240.8)"/></g>
<ellipse cx="1084.8" cy="199.2" rx="1.6" ry="3.2" fill="#f4f4f4"/>
<ellipse cx="1044.4" cy="252.5" rx="5.5" ry="1.6" fill="#f4f4f4"/>
<ellipse cx="1088.2" cy="281.2" rx="6" ry="1.8" fill="#f4f4f4"/>
<ellipse cx="1023" cy="322.8" rx="1.8" ry="4.5" fill="#f4f4f4"/>
<ellipse cx="1032" cy="113.6" rx="21.6" ry="17.7" fill="#d3d3d3"/>
<ellipse cx="1032" cy="113.6" rx="16.2" ry="13.3" fill="none" stroke="#e6e6e6" stroke-width="0.8"/>
<ellipse cx="1032" cy="113.6" rx="10.8" ry="8.8" fill="none" stroke="#e6e6e6" stroke-width="0.8"/>
<ellipse cx="1032" cy="113.6" rx="5.4" ry="4.4" fill="none" stroke="#e6e6e6" stroke-width="0.8"/>
<ellipse cx="1222.7" cy="224.9" rx="27.5" ry="21.6" fill="#d3d3d3"/>
<ellipse cx="1222.7" cy="224.9" rx="22" ry="17.3" fill="none" stroke="#e6e6e6" stroke-width="0.8"/>
<ellipse cx="1184.6" cy="305.9" rx="3" ry="1.5" fill="#fff"/>
<ellipse cx="1284.9" cy="356.7" rx="13.4" ry="10.6" fill="none" stroke="#d3d3d3" stroke-width="1.4"/>
<ellipse cx="1284.9" cy="356.7" rx="5.5" ry="4.3" fill="none" stroke="#d3d3d3" stroke-width="1.4"/>
<path d="M1098.9,217.5h0M1063.1,224.5h0M1069.4,226.9h0M1065.8,229.3h0M1111,228.9h0M1107.9,234.8h0M1106.3,237.5h0M1083.5,238.7h0M1094.1,239.1h0M1090.2,241.1h0M1084.7,241.4h0M1067.4,243h0M1088.2,246.2h0M1085.9,249.7h0M1127.2,252.9h0M1105.5,259.9h0M1131.1,268.6h0M1070.5,271.7h0M1125.6,290.2h0M1109.1,293h0M1100.8,296.1h0M1112.6,296.9h0M1090.2,298.1h0M1044.6,298.9h0M1096.9,302h0M1113.4,303.6h0M1099.6,304.8h0M1107.9,305.2h0M1082,311.8h0M1120.1,315h0M1013.9,329.9h0M1016.7,345.3h0M1031.6,346.4h0M1220.8,217.5h0M1216.8,219h0M1215.3,223h0M1212.5,229.7h0M1210.1,230.8h0" stroke="#cc0000" stroke-width="5.8" stroke-linecap="round" fill="none"/>
<path d="M915.2,363V447.6H999" fill="none" stroke="#44546a" stroke-width="4.2" stroke-linejoin="miter"/><path d="M915.2,351L908.3,367.4L915.2,363.4L922.1,367.4Z" fill="#44546a"/><path d="M1011,447.6L994.4,441L998.6,447.6L994.4,454.2Z" fill="#44546a"/>
<text x="898.5" y="452" font-size="28.2" textLength="95" lengthAdjust="spacingAndGlyphs" transform="rotate(-90 898.5 452)">UMAP 2</text>
<text x="914" y="483" font-size="26.2" textLength="91" lengthAdjust="spacingAndGlyphs">UMAP 1</text>
<circle cx="1313.2" cy="229.7" r="8.4" fill="#cc0000" stroke="#000" stroke-width="1.9"/>
<text x="1334" y="237.9" font-size="27"><tspan font-style="italic">Il23a</tspan><tspan font-size="17" dy="-10">+</tspan><tspan dy="10">​</tspan></text>
<text x="1514.6" y="33.9" font-size="35" textLength="21" lengthAdjust="spacingAndGlyphs" font-weight="bold" stroke="#000" stroke-width="1.3">c</text>
<text x="1569.3" y="49.3" font-size="26.7" textLength="254" lengthAdjust="spacingAndGlyphs">Percentage of <tspan font-style="italic">Il23a</tspan><tspan font-size="17" dy="-10">+</tspan><tspan dy="10">​</tspan></text>
<path d="M1714,114A132.3,132.3 0 0 1 1823.7,172.3L1766.6,210.8A63.4,63.4 0 0 0 1714,182.9Z" fill="#000000" stroke="#000" stroke-width="2" stroke-linejoin="round"/><path d="M1823.7,172.3A132.3,132.3 0 0 1 1831.2,185L1770.2,216.9A63.4,63.4 0 0 0 1766.6,210.8Z" fill="#8b008b" stroke="#000" stroke-width="2" stroke-linejoin="round"/><path d="M1831.2,185A132.3,132.3 0 0 1 1842.8,276.5L1775.7,260.8A63.4,63.4 0 0 0 1770.2,216.9Z" fill="#4169e1" stroke="#000" stroke-width="2" stroke-linejoin="round"/><path d="M1842.8,276.5A132.3,132.3 0 0 1 1626.2,345.2L1671.9,293.7A63.4,63.4 0 0 0 1775.7,260.8Z" fill="#4d4d4d" stroke="#000" stroke-width="2" stroke-linejoin="round"/><path d="M1626.2,345.2A132.3,132.3 0 0 1 1714,114L1714,182.9A63.4,63.4 0 0 0 1671.9,293.7Z" fill="#000080" stroke="#000" stroke-width="2" stroke-linejoin="round"/>
<circle cx="1904.9" cy="158.9" r="8.4" fill="#000080" stroke="#000" stroke-width="1.9"/>
<text x="1925.3" y="167.3" font-size="27" textLength="146.5" lengthAdjust="spacingAndGlyphs"><tspan font-style="italic">Inhba</tspan> TAMs</text>
<circle cx="1904.9" cy="198.2" r="8.4" fill="#4d4d4d" stroke="#000" stroke-width="1.9"/>
<text x="1925.3" y="206.6" font-size="27" textLength="137.5" lengthAdjust="spacingAndGlyphs"><tspan font-style="italic">C1qa</tspan> TAMs</text>
<circle cx="1904.9" cy="237.4" r="8.4" fill="#4169e1" stroke="#000" stroke-width="1.9"/>
<text x="1925.3" y="245.8" font-size="27" textLength="184" lengthAdjust="spacingAndGlyphs"><tspan font-style="italic">Hp</tspan> monocytes</text>
<circle cx="1904.9" cy="276.3" r="8.4" fill="#8b008b" stroke="#000" stroke-width="1.9"/>
<text x="1925.3" y="284.7" font-size="27" textLength="204" lengthAdjust="spacingAndGlyphs"><tspan font-style="italic">Ccl7</tspan> monocytes</text>
<circle cx="1904.9" cy="315.6" r="8.4" fill="#000000" stroke="#000" stroke-width="1.9"/>
<text x="1925.3" y="324" font-size="27" textLength="81" lengthAdjust="spacingAndGlyphs">cDC2s</text>
<text x="0" y="556" font-size="33" textLength="22.5" lengthAdjust="spacingAndGlyphs" font-weight="bold" stroke="#000" stroke-width="1.3">d</text>
<text x="50.8" y="569.4" font-size="26.7" textLength="309.6" lengthAdjust="spacingAndGlyphs">Tumor-infiltrating T cells</text>
<path d="M178.7,604.8C186.9,606.1 199.3,611.4 208.3,617.2C217.4,623 225.6,631.6 233.1,639.4C240.5,647.3 246.7,656.3 252.8,664.2C259,672 263.5,680.2 270.1,686.4C276.7,692.6 283.7,699.6 292.4,701.2C301,702.9 313,695.5 322.1,696.3C331.1,697.1 340.4,700.8 346.8,706.2C353.2,711.5 358.7,719.8 360.4,728.4C362,737.1 360.2,749.9 356.7,758.1C353.2,766.3 346.8,773.4 339.4,777.9C331.9,782.4 320,782.4 312.2,785.3C304.3,788.2 299,791.9 292.4,795.2C285.8,798.5 278.4,802.8 272.6,805.1C266.8,807.3 262.7,808.8 257.8,808.8C252.8,808.8 247.1,808.6 242.9,805.1C238.8,801.6 237.2,793.1 233.1,787.8C228.9,782.4 224,778.7 218.2,772.9C212.5,767.2 203.4,760.2 198.4,753.2C193.5,746.2 193.5,737.5 188.6,730.9C183.6,724.3 175.4,719.8 168.8,713.6C162.2,707.4 154.4,700.8 149,693.8C143.6,686.8 139.1,678.6 136.6,671.6C134.2,664.6 133.3,659.6 134.2,651.8C135,644 137.5,631.6 141.6,624.6C145.7,617.6 152.7,613.1 158.9,609.8C165.1,606.5 170.4,603.6 178.7,604.8Z" fill="#d3d3d3" />
<path d="M223.2,837.2C225.6,832.3 229.8,828.4 233.1,827.3C236.3,826.3 238.8,829.4 242.9,831C247.1,832.7 253.7,835.8 257.8,837.2C261.9,838.7 264.4,840.9 267.7,839.7C271,838.5 273.4,833.1 277.6,829.8C281.7,826.5 287,822.6 292.4,819.9C297.7,817.2 304.7,816.2 309.7,813.7C314.6,811.3 317.5,807.7 322.1,805.1C326.6,802.5 331.9,798.2 336.9,798.2C341.8,798.2 348.3,800.2 351.7,805.1C355.1,809.9 356.4,819.5 357.4,827.3C358.4,835.2 358.8,843 357.9,852.1C357,861.1 355.2,873.5 351.7,881.7C348.2,890 342.7,896.5 336.9,901.5C331.1,906.5 324.5,910.2 317.1,911.9C309.7,913.5 299,914.4 292.4,911.4C285.8,908.4 281.3,899.4 277.6,894.1C273.8,888.8 275.1,881.7 270.1,879.7C265.2,877.8 254.9,883.1 247.9,882.2C240.9,881.3 233,878.5 228.1,874.3C223.2,870.1 219.5,863.2 218.7,857C217.9,850.8 220.8,842.2 223.2,837.2Z" fill="#d3d3d3" />
<path d="M230.6,790.2C231.8,792.3 236.1,798.9 238,802.6C239.9,806.3 242.3,808.8 241.7,812.5C241.1,816.2 237,820.7 234.3,824.9C231.6,829 227.1,835.2 225.6,837.2" fill="none" stroke="#d3d3d3" stroke-width="3.4"/>
<path d="M275.1,802.6C273,803.4 265.6,805.1 262.7,807.6C259.8,810 258.3,813.7 257.8,817.4C257.3,821.1 258.3,826.3 259.8,829.8C261.2,833.3 265.3,837 266.4,838.5" fill="none" stroke="#d3d3d3" stroke-width="3.4"/>
<path d="M74.8,869.4C75.7,864 79,859 84.7,854.5C90.5,850.1 101.2,844.3 109.4,842.7C117.7,841 126.7,844.2 134.2,844.6C141.6,845 148.5,843.1 153.9,845.1C159.4,847.2 164.7,851.7 166.8,857C168.9,862.3 168.9,871.4 166.8,876.8C164.7,882.1 160.2,886.8 153.9,889.1C147.7,891.4 138.3,889.5 129.2,890.6C120.2,891.7 107.8,896.2 99.6,895.6C91.3,894.9 83.9,891 79.8,886.7C75.7,882.3 74,874.7 74.8,869.4Z" fill="#d3d3d3" />
<path d="M378.9,859.5C380.1,852.9 385.1,845 391.3,839.7C397.5,834.4 407.8,830.3 416,827.8C424.2,825.4 433.3,823.7 440.7,824.9C448.1,826 455.9,829.4 460.5,834.7C465.1,840.1 465.5,849.6 468.4,857C471.3,864.4 477,871.8 477.8,879.2C478.6,886.7 477.5,895.7 473.3,901.5C469.2,907.3 460.6,912.6 453.1,913.9C445.6,915.1 436.2,912.1 428.4,908.9C420.5,905.7 413.4,899.5 406.1,894.6C398.8,889.6 388.9,885.1 384.4,879.2C379.8,873.4 377.8,866.1 378.9,859.5Z" fill="#d3d3d3" />
<path d="M84.7,871.8C88,865.6 100,853.3 109.4,849.6C118.9,845.9 132.9,847.5 141.6,849.6C150.2,851.6 159.3,856.2 161.4,861.9C163.4,867.7 160.5,880.1 153.9,884.2C147.4,888.3 132.5,886.3 121.8,886.7C111.1,887.1 95.8,889.1 89.7,886.7C83.5,884.2 81.4,878 84.7,871.8Z" fill="none" stroke="#e2e2e2" stroke-width="1.2"/>
<path d="M225.6,849.6C226.9,844.6 232.6,838 238,837.2C243.4,836.4 252,843 257.8,844.6C263.5,846.3 268.5,848.8 272.6,847.1C276.7,845.5 276.7,838.9 282.5,834.7C288.3,830.6 299,826.9 307.2,822.4C315.5,817.9 324.9,809.2 331.9,807.6C338.9,805.9 345.9,805.5 349.2,812.5C352.5,819.5 352.5,838 351.7,849.6C350.9,861.1 349.7,872.7 344.3,881.7C338.9,890.8 327.8,900.3 319.6,904C311.3,907.7 301.5,907.7 294.9,904C288.3,900.3 287,886.3 280,881.7C273,877.2 261.1,879.2 252.8,876.8C244.6,874.3 235.1,871.4 230.6,866.9C226,862.4 224.4,854.5 225.6,849.6Z" fill="none" stroke="#e2e2e2" stroke-width="1.2"/>
<path d="M173.7,620.9L176.8,620.2L179.6,620L182.4,620.2L185.3,621L188.6,622.1L190.8,623.1L193.2,624.3L195.6,625.6L198.1,627.2L200.7,628.8L203.3,630.6L205.8,632.5L208.3,634.5L210.3,636.2L212.4,638L214.5,639.9L216.6,641.9L218.7,643.9L220.7,646L222.7,648.1L224.6,650.2L226.4,652.3L228.1,654.3L230,656.7L231.7,659.2L233.2,661.7L234.6,664.2L236,666.6L237.4,669.1L238.9,671.6L240.5,674.1L242,676.3L243.5,678.5L245,680.8L246.6,683.1L248.2,685.4L249.9,687.6L251.6,689.8L253.4,691.9L255.3,693.8L257.3,695.7L259.5,697.6L261.7,699.3L264,701L266.4,702.7L268.7,704.3L270.9,705.8L273.1,707.3L275.1,708.7L277.8,710.7L280.3,712.8L282.7,714.7L285,716.4L287.4,717.7L289.9,718.6L292.8,718.7L296,718.1L299.3,717.2L302.5,716.3L305.2,715.8L307.2,716.1L309.1,718L309.9,720.9L310,724.5L309.7,728.4L309.1,730.9L308.2,733.7L306.9,736.7L305.7,739.7L304.5,742.7L303.8,745.6L303.5,748.2L304.3,751.1L305.9,753.9L308,756.5L309.9,758.9L311,761.1L310.9,763.1L309.5,764.3L307,765.1L303.9,765.7L300.5,766.2L297.2,766.8L294.4,767.8L292.4,769.2L291.4,771.4L291.1,774.2L291.3,777.4L291.6,780.7L291.9,783.6L291.8,786.1L291.1,787.8L289.2,788.4L286.5,787.7L283.5,786.4L280.4,785.3L277.6,785.3L275.4,786.4L273.4,788.2L271.4,790.4L269.4,792.5L267.4,794.3L265.2,795.2L262.8,795.3L260.2,794.8L257.5,794L254.9,792.8L252.5,791.5L250.4,790.2L247.6,788.2L245.1,785.8L243.3,783.1L242.4,780.4L242.7,778L243.7,775.5L245.1,772.9L246.6,770.4L247.9,768L249.7,765.2L251.9,762.4L253.3,760L252.8,758.1L251.3,757.4L248.8,757.1L245.8,756.9L242.5,756.8L239.1,756.7L235.8,756.5L233.1,756.1L230.3,755.5L227.7,754.9L225.2,754.2L222.8,753.3L220.5,752.2L218.2,750.7L216.3,749.1L214.4,747.2L212.6,745.1L210.9,742.9L209.1,740.6L207.5,738.2L205.9,735.9L204.4,733.5L203,731.1L201.7,728.6L200.4,726.1L199.1,723.6L197.6,721L196,718.6L194.4,716.4L192.6,714.2L190.8,712.1L188.9,709.9L186.9,707.7L185,705.6L183,703.4L181.1,701.2L179.3,699.1L177.4,696.9L175.6,694.8L173.7,692.6L171.9,690.4L170,688.3L168.2,686.1L166.3,683.9L164.4,681.8L162.3,679.6L160.1,677.5L158,675.3L156,673.1L154.2,671L152.7,668.8L151.5,666.6L150.4,663.8L149.8,660.9L149.5,658L149.6,655.1L149.9,652.2L150.2,649.3L150.6,646.8L151.1,644.2L151.8,641.6L152.6,639L153.6,636.5L154.9,634.2L156.4,632L158.3,630L160.6,628L163.2,626.2L165.9,624.5L168.6,623L171.3,621.8Z" fill="#2f6672"/><path d="M174.1,621.7h0M177.7,621.6h0M180.4,621.3h0M180.9,620.1h0M186.7,621.5h0M189.8,620.9h0M190.7,622.3h0M193.3,624.5h0M194.1,624.7h0M197.4,628.5h0M201.5,627.7h0M204.2,629.5h0M206.2,631.3h0M206.7,635.7h0M209.4,635.3h0M213.9,639.2h0M213.8,641.4h0M216.7,642.4h0M217.7,645.3h0M221.3,647.5h0M224,647.5h0M224.2,649.1h0M225.3,650.9h0M227.5,654.6h0M228.4,657.3h0M231.1,658.6h0M234.2,661.6h0M234,664.1h0M236.6,665.2h0M238.9,667.6h0M239.7,672.7h0M238.9,675h0M241.6,676.5h0M241.9,677.1h0M244,682.3h0M245.7,683.9h0M249.6,686.8h0M249.4,687.1h0M251.7,690.7h0M252.2,692.6h0M256.3,695h0M255.8,697.2h0M258.2,697h0M262.1,700.7h0M263.5,702.4h0M266.5,702.1h0M268.1,703.2h0M269.6,704.7h0M273.7,708.9h0M274,707.2h0M279.4,710.8h0M280,711.9h0M283,715.7h0M284.8,716.1h0M285.9,719h0M288.4,718.5h0M293.9,717.5h0M296.8,719.5h0M299.8,718.1h0M301.2,716.1h0M304,716.9h0M306.6,715.9h0M310.7,719.1h0M311.4,720.7h0M310,725.2h0M309.6,727.8h0M308.8,729.8h0M307.8,735.3h0M308.4,737.1h0M305.7,739.2h0M303.2,742h0M304.7,746.8h0M303.1,749.1h0M305.1,751.7h0M306.5,754.7h0M307.6,757.1h0M309.2,758.9h0M311.9,761.7h0M310.3,764.5h0M310,764.5h0M305.5,765.2h0M303.1,766.2h0M300.4,767.2h0M297.7,767.8h0M293.9,768.2h0M293.1,770.3h0M290.9,772.5h0M292.3,774.8h0M292.8,778.9h0M291.7,780.7h0M290.8,784.7h0M293.2,786h0M291.8,788.5h0M289.9,787.4h0M287.4,788h0M284,786.2h0M280.8,786.2h0M278,786h0M273.9,785.3h0M273.2,788.7h0M270.6,791h0M269.9,791.1h0M267.3,793.4h0M263.8,794h0M262.2,794.3h0M259.2,793.3h0M257.4,793.6h0M255.2,793.1h0M251.6,792.8h0M248.8,789.9h0M246.9,787.9h0M243.9,786.8h0M242.9,781.6h0M242.8,779.1h0M242.8,777.5h0M243.9,776.9h0M246.1,772.6h0M247.6,770.8h0M247.5,766.9h0M250,765.4h0M253.4,763.9h0M253.7,759.5h0M254.1,756.5h0M250,757.7h0M249.2,755.9h0M246.2,758.1h0M242.1,756.6h0M238.2,756.1h0M237.3,756.1h0M234.5,757.5h0M230.6,754.8h0M229.2,754.9h0M224.9,753.6h0M224.3,753.3h0M219.8,752.1h0M217,751.1h0M216.1,748.4h0M215.3,748.3h0M211.1,745.2h0M210.1,744.3h0M210,739.7h0M206.7,737.1h0M207.4,735.2h0M204.7,733.4h0M203.5,731.4h0M202.5,727.4h0M201.3,725.5h0M199.2,723h0M197,721.1h0M195.9,718.1h0M195.1,716.7h0M191.1,713.4h0M190.6,713.4h0M190.1,710h0M185.4,708.6h0M184.7,705.8h0M183.7,703.8h0M181.1,702.6h0M178.9,698.7h0M178.6,696h0M174.9,695.8h0M172.3,693.7h0M172.5,690.2h0M169.3,689.2h0M169.5,685h0M166.2,684.1h0M164.3,681.2h0M161.2,679.9h0M161.1,676.1h0M157.2,676.3h0M157,673.7h0M152.7,671.7h0M154.2,670.4h0M152.1,665.2h0M151.5,662.9h0M150.2,662.3h0M150.2,656.8h0M148.9,656.4h0M148.7,652.6h0M150,648.2h0M151,645.3h0M149.9,643.8h0M150.4,640.2h0M152.8,639.8h0M154.8,635.4h0M154.7,633.6h0M156.7,632h0M159.7,629.6h0M159.2,628.7h0M162.1,626.6h0M165.9,625.8h0M168.8,623.4h0M170.5,622h0" stroke="#2f6672" stroke-width="3.8" stroke-linecap="round" fill="none"/>
<path d="M307.2,716.6L309.4,714.6L311.8,713L314.3,711.6L316.9,710.7L319.6,710.1L322.5,710.1L325.6,710.4L328.7,711.1L331.7,712.2L334.4,713.6L336.5,715L338.6,716.7L340.5,718.6L342.2,720.8L343.5,723.2L344.3,726L344.5,728.3L344.5,731.1L344.2,734L343.7,737.1L343.1,740.2L342.4,743.1L341.6,745.8L340.8,748.2L339.5,751.5L338,754.3L336.2,756.7L334.2,758.8L331.9,760.6L329.3,762L326.3,763.1L323.1,763.9L320,764.4L317.1,764.5L313.8,764.3L310.7,763.6L307.9,762.3L305.2,760.6L303.3,758.7L301.3,756.5L299.6,753.9L298.2,751.1L297.3,748.2L297,745.6L296.9,742.7L297.1,739.7L297.5,736.6L298.1,733.7L298.8,730.9L299.8,728.3L301,725.6L302.3,723.1L303.9,720.7L305.5,718.5Z" fill="#7fc80a"/><path d="M306.4,717.4h0M309.5,713.5h0M310.9,712.5h0M315,710.6h0M317.6,711.2h0M318.3,710.7h0M321.2,708.9h0M325.9,709.6h0M329.9,711h0M331.2,713.1h0M332.9,714.3h0M335.1,713.9h0M340,717.3h0M339.6,717.4h0M343.7,721.3h0M344.5,722.1h0M344.7,725.5h0M343.7,727.8h0M344.9,730.6h0M343.9,732.9h0M344.8,737.6h0M344.1,740h0M343.5,743.2h0M341.9,746.1h0M341.6,747.9h0M338.2,750h0M337,752.8h0M337.4,756.7h0M335,757.2h0M331.8,761.8h0M329.7,761.8h0M326.2,761.9h0M322,762.8h0M319.6,764h0M318.3,763.4h0M313.1,763.6h0M309.7,762.9h0M307,762.3h0M303.7,761.9h0M302.8,760.1h0M301.9,757h0M299.5,755.3h0M297,751.7h0M296.7,748.8h0M297.7,744.5h0M295.9,741.2h0M296.2,738.3h0M297.1,738.2h0M297.6,733.1h0M298.7,730.2h0M300.5,729h0M299.9,724.8h0M302.9,724.5h0M304.3,720.4h0M307,716.9h0" stroke="#7fc80a" stroke-width="3.8" stroke-linecap="round" fill="none"/>
<path d="M281.3,739.6L288.7,738.3L291.1,732.2L293.6,740.8L298.6,745.7L292.4,748.2L288.7,750.7L283.7,748.2Z" fill="#e8e8e8"/>
<path d="M275.1,847.1L276.7,845L278.7,842.9L280.8,840.8L283,838.8L285.3,836.9L287.4,835.2L289.8,833.3L292.1,831.6L294.5,830L297,828.7L299.8,827.8L302.5,827.6L305.4,827.7L308.5,828.1L311.5,828.5L314.5,828.8L317.1,828.8L320.7,828.3L324,827.4L326.9,826.2L329.5,824.9L332.1,822.1L334.1,818.9L335.6,817.4L336.9,818.8L337.7,821.7L338.1,824.9L337.8,827.6L337.2,830.4L337.4,833.5L338.4,835.6L340,837.8L341.8,840.2L343.4,842.4L344.3,844.6L344.5,848.1L343.8,851.5L342.3,854.5L340.6,856.3L338.4,857.8L336.1,859.4L334.4,861.9L333.7,864.3L333.4,867.2L333.1,870.3L332.9,873.5L332.6,876.5L331.9,879.2L330.9,882.1L329.7,884.8L328.3,887.3L326.6,889.6L324.5,891.6L322.5,893.1L320.1,894.3L317.6,895.5L314.9,896.4L312.2,897.2L309.7,897.8L306.6,898.5L303.3,899.1L300.2,899.4L297.3,899.1L294.9,898L293.4,896.2L292.2,893.6L291.4,890.5L290.6,887.3L289.8,884.3L288.7,881.7L287.1,879.4L285.5,877.4L283.7,875.6L281.9,873.8L280,871.8L277.9,869.6L275.4,867.3L273.1,864.9L271.2,862.4L270.1,860L270.1,857.4L270.7,854.8L271.9,852.2L273.4,849.6Z" fill="#d43500"/><path d="M273.7,848h0M276.4,843.6h0M278.8,844.5h0M280.9,840.4h0M281.7,837.5h0M286.6,836.9h0M288.8,833.8h0M289,831.9h0M291.8,830.1h0M293.7,829.7h0M296.4,827.3h0M298.3,829.3h0M301.4,827.6h0M305.1,827.8h0M307.1,827.5h0M310.3,828.7h0M315.8,829.2h0M318.2,827.9h0M319.1,828.4h0M323.9,827.6h0M326.5,826.6h0M330.2,826.2h0M331.5,821.9h0M335.1,818.1h0M334.4,816.8h0M335.5,819.6h0M338.7,821.1h0M336.9,823.5h0M337,826.2h0M336.9,830.6h0M336.6,832.1h0M339.1,834.2h0M339.1,837.2h0M341.4,838.9h0M343.1,841.9h0M345.1,844.8h0M345.8,848.6h0M344.6,851.7h0M342.1,855.5h0M341.1,857.8h0M339.1,858.4h0M335.4,860.4h0M334,860.8h0M332.4,863.3h0M332.6,867.7h0M332.5,868.9h0M333.8,873.7h0M331.1,875.1h0M330.8,878.8h0M332,883.6h0M330,884h0M328,886.9h0M326,888h0M324.8,892.7h0M323.2,891.8h0M320.2,893.3h0M318.2,895.3h0M316.3,897.3h0M311,896.6h0M311,897.7h0M306.4,898.3h0M304.2,900.5h0M300.3,900.9h0M297.6,897.9h0M295.9,897.8h0M291.9,897.7h0M290.8,893.8h0M291.3,891.7h0M290.3,886.4h0M289,883.3h0M288.9,881.3h0M287.9,878.5h0M285,876.6h0M285.2,876.7h0M283,874.2h0M279.7,870.7h0M279,869.6h0M274,866.2h0M271.8,865.6h0M272.5,861.5h0M271.1,859.4h0M270.6,858.6h0M271.1,855.8h0M271.5,850.7h0M273.4,849.9h0" stroke="#d43500" stroke-width="3.8" stroke-linecap="round" fill="none"/>
<path d="M233.1,844.6L235.1,843.7L238.2,843L241.6,842.5L245,842.4L247.9,842.7L250.6,843.8L253,845.5L255.2,847.6L257.8,849.6L260.3,851.1L263.1,852.6L265.9,854.2L268.4,855.7L270.1,857L270.6,861.9L268.6,862L265.6,861.6L262.2,860.9L258.6,860.3L255.3,860L252.2,860L249,860.2L245.8,860.4L243,860.4L240.5,860L237.9,858.6L235.8,856.7L234.2,854.6L233.1,852.5L232,849.7L231.7,846.9Z" fill="#d43500"/><path d="M232,844.3h0M234.6,842.2h0M237.6,842.6h0M241.5,843.2h0M244.7,843.9h0M248.9,844h0M251.3,844.3h0M253.1,846.5h0M254.8,847.9h0M258.3,849.7h0M259.6,849.7h0M261.8,852.2h0M266.2,855h0M269.1,855h0M271.5,856.3h0M271.3,860.6h0M269.4,862.5h0M267.1,862.8h0M262.8,862h0M259.4,860.7h0M254.4,860h0M253.5,859.1h0M250.5,860.3h0M245.5,858.8h0M242.6,859.4h0M241,861.2h0M239.2,859h0M235.5,855.5h0M234.8,854.8h0M233.7,852.1h0M233.2,848.8h0M231.1,846.1h0" stroke="#d43500" stroke-width="3.8" stroke-linecap="round" fill="none"/>
<path d="M245.4,815C246,814.8 247.5,812.5 249.1,813.7C250.8,815 254.7,819.3 255.3,822.4C255.9,825.5 252.4,829 252.8,832.3C253.2,835.6 257,840.5 257.8,842.2" fill="none" stroke="#d43500" stroke-width="5.6" stroke-linecap="round" stroke-dasharray="0 3"/>
<path d="M275.1,768.5L277.7,767.5L281.2,766.8L284.7,766.5L287.4,767L289.7,769L291.1,772.1L291.4,775.4L290.7,778.1L289.2,781L287.3,783.6L285.5,785.3L283,785.2L280.2,783.7L277.6,783.3L275.7,784.5L273.9,786.3L272.1,788.5L270.1,790.7L268.3,792.6L266.3,794.6L264.3,796.6L262.4,798.5L260.7,800.1L257.6,803.8L255.8,805.1L255.7,803.1L256.3,799.6L257.8,795.7L259,793.7L260.7,791.6L262.5,789.4L264.4,787.2L266.2,785.1L267.7,783.3L269.8,780.5L271.3,778.2L272.6,775.9L273.2,773.2L273.6,770.5Z" fill="#d43500"/><path d="M275.5,769.8h0M276.6,767.9h0M282,765.9h0M283.3,766.8h0M288.5,768.2h0M290.5,768.8h0M290.9,772.2h0M292.7,774.8h0M290,778.4h0M290.7,780h0M285.8,782.4h0M285.7,785.6h0M281.9,784.2h0M280.5,784.2h0M278.2,784.1h0M274.3,784.4h0M275,787.8h0M271.5,789.6h0M270.6,792.1h0M267.4,793.2h0M267.4,794.5h0M263,795.6h0M261.3,797.2h0M259.6,800.5h0M256.3,804.6h0M256.6,806.1h0M256.6,803.8h0M257.6,801h0M258.2,797.2h0M257.8,792.5h0M259.3,790.7h0M262.1,789.2h0M265,788h0M264.9,784.8h0M267.8,782.9h0M268.5,780.8h0M270.9,778.8h0M272.6,777.4h0M274.7,771.8h0M274.4,771.2h0" stroke="#d43500" stroke-width="3.8" stroke-linecap="round" fill="none"/>
<path d="M344.3,894.6C345.1,893.4 352.3,892.2 353,893.1C353.6,894 349.7,899.8 348.3,900C346.8,900.3 343.5,895.7 344.3,894.6Z" fill="#d43500" stroke="#d43500" stroke-width="3.4" stroke-linecap="round" stroke-linejoin="round" stroke-dasharray="0 2.6" />
<path d="M335.6,812.5C336.2,810.7 338.1,807.6 339.4,808C340.6,808.5 342.8,812.8 343.1,815C343.3,817.2 342,820.5 340.8,821.1C339.6,821.8 336.8,820.4 335.9,818.9C335,817.5 335.1,814.3 335.6,812.5Z" fill="#f2b71f" stroke="#f2b71f" stroke-width="3" stroke-linecap="round" stroke-linejoin="round" stroke-dasharray="0 2.4" />
<path d="M88.4,874.3L89.7,872.4L91.8,870L94.4,867.6L97.1,865.6L100.1,864.4L103.6,863.6L106.9,862.9L109.4,861.9L111.5,858.4L113.2,856L115.1,856.7L117.4,858.3L119.8,860.2L121.8,861.9L124.2,865.3L126.7,867.4L128.9,867.1L131.4,866.1L134,864.8L136.6,863.4L139.1,861.7L141.7,859.5L144.1,857.7L146.5,857L149.2,857.8L152,859.6L154.3,862L155.2,864.4L154.6,866.7L153.1,869.4L151.1,872.1L148.8,874.4L146.5,875.8L143.7,875.8L140.6,874.6L137.3,873.1L134.2,872.3L131.2,872.5L128.3,873.2L125.2,874L121.8,874.8L119.2,875.2L116.3,875.7L113.2,876.1L110.2,876.6L107.2,876.9L104.5,877.3L101.4,877.6L98.3,878L95.4,878.3L92.9,878.4L90.9,878.3Z" fill="#00149b"/><path d="M87.8,873.1h0M89.7,871.9h0M92.6,871.3h0M94,866.9h0M97.1,866.3h0M101,864.7h0M102.9,863.1h0M108,863h0M108,861.7h0M110.7,858.9h0M111.8,855.3h0M113.8,856.6h0M119,858.4h0M119.4,861.6h0M120.5,861.5h0M125.2,863.7h0M127.6,866.9h0M127.3,866.3h0M131.3,865.8h0M134.1,863.4h0M135.7,864.9h0M139,861.6h0M140.3,858.8h0M145.6,858.3h0M146.6,855.6h0M148.8,858.7h0M151.8,859.9h0M155.5,862.4h0M155.6,862.9h0M153.1,867.5h0M152.9,870.6h0M152.1,873.4h0M148.4,876h0M147.3,877h0M142.6,876.7h0M140.3,876.1h0M138.9,872.2h0M133.9,871.6h0M131.1,871.8h0M128.8,872h0M124.2,873.9h0M120.4,874.4h0M120.4,876.5h0M115.3,874.1h0M114.3,877.6h0M110.5,875.4h0M106.4,878.3h0M105.9,875.8h0M100.4,877.4h0M97.5,878.8h0M95,879.2h0M91.7,878.5h0M92.4,878.9h0" stroke="#00149b" stroke-width="3.8" stroke-linecap="round" fill="none"/>
<path d="M241.7,818.7C242.1,818.2 245.3,819.1 246.7,819.9C248,820.7 250.3,823.1 249.9,823.6C249.5,824.1 245.5,823.7 244.2,822.9C242.8,822.1 241.3,819.2 241.7,818.7Z" fill="#00149b" stroke="#00149b" stroke-width="3.6" stroke-linecap="round" stroke-linejoin="round" stroke-dasharray="0 2.6" />
<path d="M237.5,860.7C238.9,859.7 244.5,857.8 247.9,858.2C251.3,858.6 257.8,862.1 257.8,863.2C257.8,864.3 251,864.7 247.9,864.9C244.8,865.1 241,865.1 239.2,864.4C237.5,863.7 236.1,861.7 237.5,860.7Z" fill="#00149b" stroke="#00149b" stroke-width="3.6" stroke-linecap="round" stroke-linejoin="round" stroke-dasharray="0 2.6" />
<path d="M393.7,852.1L395.8,851L398.4,850.7L401.5,850.9L404.7,851.1L408,851.2L411.1,850.8L413.5,850L416,848.9L418.5,847.7L420.9,846.4L423.4,845.2L425.9,844.2L428.4,843.6L431.4,843.4L434.6,843.4L437.8,843.6L440.8,844.1L443.5,844.9L445.7,845.9L447.8,847.9L449.1,850.6L449.8,853.7L450.6,857L451.1,859.8L451.4,862.9L451.7,866.1L452.1,869.1L453.1,871.8L454.8,874.1L457.2,876.1L459.7,877.9L461.8,879.7L463,881.7L462.9,884.6L461.9,887.7L460.1,890.6L458,892.8L455.6,894.5L452.6,895.6L449.3,896.3L445.7,896.6L442.9,896.5L439.9,896.2L436.7,895.8L433.6,895.1L430.7,894.2L428.4,893.1L426.2,891.3L424.6,889L423.3,886.5L422.1,884L420.9,881.7L420,879L419.5,876.3L418.6,873.8L416,871.8L414,871.2L411.3,870.9L408.2,870.7L404.9,870.6L401.5,870.4L398.2,870.2L395.3,869.9L392.9,869.3L391.3,868.4L389.9,866.2L389.5,863.3L389.9,860.1L390.8,856.8L392.2,854Z" fill="#7b0500"/><path d="M392.4,850.8h0M396.2,850.6h0M398,850.7h0M401.7,852.4h0M403.9,851.3h0M407.2,851.3h0M411.8,849.6h0M413.5,850.7h0M414.4,849.8h0M418.2,847.7h0M421.3,847.3h0M422,845.2h0M424.4,843.9h0M427.9,842.1h0M430.7,843.2h0M435.1,844.7h0M437.4,843.7h0M441.5,845.5h0M444.9,846.4h0M445,844.8h0M449.2,846.6h0M448.9,851.4h0M449.9,853.4h0M452,856.4h0M451.3,860.9h0M450.3,862.4h0M451.7,866.3h0M451.2,869h0M451.7,870.5h0M454.3,873h0M458.7,875.3h0M459,878.8h0M462.6,879h0M464,882.1h0M462.6,885h0M461.1,886.9h0M461.3,890.4h0M459.3,891.8h0M454.4,893h0M453.4,895.8h0M447.7,894.8h0M446.7,896.5h0M444.1,895h0M440.2,895h0M437.4,896.1h0M433.9,894.2h0M432.2,893h0M427,893.7h0M424.9,889.9h0M424.4,889.5h0M424.5,887.2h0M420.7,884.5h0M422,880.5h0M420.8,878.2h0M418.9,874.7h0M419.4,873.9h0M417.3,871.7h0M412.9,870.3h0M410.6,872.3h0M407.3,869.4h0M404.4,869.2h0M401.2,870.8h0M398.7,869.2h0M394.2,869.8h0M393.5,869.1h0M391.5,869.7h0M388.8,865.5h0M389.5,863.4h0M391.2,860.2h0M391.3,856.6h0M393.1,855.1h0" stroke="#7b0500" stroke-width="3.8" stroke-linecap="round" fill="none"/>
<path d="M288.7,725.5h0M294.9,726h0M286.2,718.6h0M251.6,780.9h0M264.7,780.4h0M249.9,703.2h0" stroke="#7fc80a" stroke-width="4.4" stroke-linecap="round" fill="none"/>
<path d="M303.5,745.7h0M310.9,732.2h0M312.2,764.3h0M306,758.1h0" stroke="#2f6672" stroke-width="4.4" stroke-linecap="round" fill="none"/>
<path d="M266.4,762.6h0M292.4,763.1h0M299.3,761.8h0M184.8,682h0M189.8,683.9h0M284.5,753.2h0" stroke="#d43500" stroke-width="4.4" stroke-linecap="round" fill="none"/>
<path d="M336.1,757.6h0" stroke="#f2b71f" stroke-width="3.6" stroke-linecap="round" fill="none"/>
<path d="M293.6,834.7h0M298.6,828.6h0M314.6,827.3h0M321.6,841.7h0M316.6,854h0M262.7,795.2h0M289.4,788.5h0" stroke="#2f6672" stroke-width="4.4" stroke-linecap="round" fill="none"/>
<path d="M126.3,869.9h0" stroke="#d43500" stroke-width="4.4" stroke-linecap="round" fill="none"/>
<path d="M287.4,882.2h0M250.4,854.5h0" stroke="#00149b" stroke-width="4.4" stroke-linecap="round" fill="none"/>
<path d="M391.3,867.4h0M396.2,855.8h0M398.7,861.9h0M404.9,864.4h0M416,864.4h0M430.1,855h0M435.8,869.4h0M423.4,883h0M435.8,892.1h0M440.2,887.9h0M446.9,876.8h0M402.4,852.1h0" stroke="#d43500" stroke-width="4.4" stroke-linecap="round" fill="none"/>
<path d="M430.8,885.4h0" stroke="#2f6672" stroke-width="4" stroke-linecap="round" fill="none"/>
<path d="M49.4,891.6V976.3H132.7" fill="none" stroke="#44546a" stroke-width="4.2" stroke-linejoin="miter"/><path d="M49.4,879.6L42.5,896L49.4,892L56.3,896Z" fill="#44546a"/><path d="M144.7,976.3L128.1,969.7L132.3,976.3L128.1,982.9Z" fill="#44546a"/>
<text x="32" y="980" font-size="28.2" textLength="95" lengthAdjust="spacingAndGlyphs" transform="rotate(-90 32 980)">UMAP 2</text>
<text x="47.2" y="1013" font-size="26.2" textLength="91" lengthAdjust="spacingAndGlyphs">UMAP 1</text>
<circle cx="523.4" cy="657.8" r="8.5" fill="#d23a28" stroke="#000" stroke-width="2"/>
<text x="546" y="665.9" font-size="26.8" textLength="111.5" lengthAdjust="spacingAndGlyphs">CD4<tspan font-size="17" dy="-10">+</tspan><tspan dy="10">​</tspan> T<tspan font-size="17.3" dy="8">EM</tspan><tspan dy="-8">​</tspan></text>
<circle cx="523.4" cy="699.7" r="8.5" fill="#f5b91a" stroke="#000" stroke-width="2"/>
<text x="546" y="707.8" font-size="26.8" textLength="113.5" lengthAdjust="spacingAndGlyphs">CD4<tspan font-size="17" dy="-10">+</tspan><tspan dy="10">​</tspan> T<tspan font-size="17.3" dy="8">CM</tspan><tspan dy="-8">​</tspan></text>
<circle cx="523.4" cy="741.5" r="8.5" fill="#7dc342" stroke="#000" stroke-width="2"/>
<text x="546" y="749.6" font-size="26.8" textLength="113.5" lengthAdjust="spacingAndGlyphs">CD8<tspan font-size="17" dy="-10">+</tspan><tspan dy="10">​</tspan> T<tspan font-size="17.3" dy="8">CM</tspan><tspan dy="-8">​</tspan></text>
<circle cx="523.4" cy="783.4" r="8.5" fill="#317480" stroke="#000" stroke-width="2"/>
<text x="546" y="791.5" font-size="26.8" textLength="111.5" lengthAdjust="spacingAndGlyphs">CD8<tspan font-size="17" dy="-10">+</tspan><tspan dy="10">​</tspan> T<tspan font-size="17.3" dy="8">EM</tspan><tspan dy="-8">​</tspan></text>
<circle cx="523.4" cy="825.3" r="8.5" fill="#7e1416" stroke="#000" stroke-width="2"/>
<text x="546" y="833.4" font-size="26.8" textLength="109.6" lengthAdjust="spacingAndGlyphs">T<tspan font-size="17.3" dy="8">reg</tspan><tspan dy="-8">​</tspan> cells</text>
<circle cx="523.4" cy="867.1" r="8.5" fill="#2b3990" stroke="#000" stroke-width="2"/>
<text x="546" y="875.2" font-size="26.8" textLength="117.6" lengthAdjust="spacingAndGlyphs">γδ T cells</text>
<text x="861" y="555.4" font-size="35" textLength="21.6" lengthAdjust="spacingAndGlyphs" font-weight="bold" stroke="#000" stroke-width="1.3">e</text>
<text x="913.3" y="570.3" font-size="26.7" textLength="310.6" lengthAdjust="spacingAndGlyphs">Tumor-infiltrating T cells</text>
<path d="M1058.8,611C1066.6,611.8 1075.3,615.8 1083.5,622.1C1091.7,628.5 1101.6,639.9 1108.2,649.3C1114.8,658.8 1117.3,670.8 1123.1,679C1128.8,687.2 1136.2,694.2 1142.8,698.8C1149.4,703.3 1156,705.8 1162.6,706.2C1169.2,706.6 1175.8,700 1182.4,701.2C1189,702.5 1197.3,707.4 1202.2,713.6C1207,719.8 1210.7,730.1 1211.6,738.3C1212.4,746.6 1209.9,755.6 1207.1,763.1C1204.3,770.5 1200.5,778.7 1194.7,782.8C1189,787 1179.5,784.9 1172.5,787.8C1165.5,790.7 1159.3,796 1152.7,800.1C1146.1,804.3 1137.9,809.6 1132.9,812.5C1128,815.4 1127.2,817.9 1123.1,817.4C1118.9,817 1112.8,815 1108.2,810C1103.7,805.1 1100,794 1095.9,787.8C1091.7,781.6 1088,779.1 1083.5,772.9C1079,766.8 1073.2,758.1 1068.7,750.7C1064.1,743.3 1062.1,735.9 1056.3,728.4C1050.5,721 1040.2,713.6 1034.1,706.2C1027.9,698.8 1022.3,691.4 1019.2,683.9C1016.1,676.5 1015.1,669.9 1015.5,661.7C1015.9,653.5 1018.2,641.9 1021.7,634.5C1025.2,627.1 1030.3,621.1 1036.5,617.2C1042.7,613.3 1050.9,610.2 1058.8,611Z" fill="#d3d3d3" />
<path d="M1130.5,842.2C1134.6,839.4 1141.6,831.5 1147.8,827.8C1154,824.1 1161.8,823.2 1167.6,819.9C1173.3,816.6 1177.4,810.7 1182.4,808C1187.3,805.4 1193.1,802.3 1197.2,803.8C1201.3,805.4 1205.2,809.8 1207.1,817.4C1209,825.1 1209.4,838.9 1208.6,849.6C1207.8,860.3 1205.7,871.8 1202.2,881.7C1198.6,891.6 1193.9,902.5 1187.3,908.9C1180.7,915.3 1170,920.3 1162.6,920.3C1155.2,920.3 1147.7,914.5 1142.8,908.9C1138,903.3 1136.7,891.5 1133.4,886.7C1130.1,881.8 1127.3,880.9 1123.1,879.7C1118.9,878.6 1113.4,881.5 1108.2,879.7C1103.1,878 1095.4,873.4 1092.2,869.4C1088.9,865.4 1087.8,860.3 1088.4,855.8C1089.1,851.2 1092.2,845.3 1095.9,842.2C1099.6,839.1 1106.2,836.8 1110.7,837.2C1115.2,837.6 1119.8,843.8 1123.1,844.6C1126.3,845.5 1126.3,845 1130.5,842.2Z" fill="#d3d3d3" />
<path d="M1108.2,807.6C1107.6,809.2 1105.8,814.1 1104.5,817.4C1103.2,820.7 1101.3,823.6 1100.3,827.3C1099.3,831 1098.7,837.6 1098.3,839.7" fill="none" stroke="#d3d3d3" stroke-width="3.4"/>
<path d="M1131.7,810C1130.5,811.3 1125.5,813.7 1124.3,817.4C1123.1,821.1 1123.1,828.2 1124.3,832.3C1125.5,836.4 1130.5,840.5 1131.7,842.2" fill="none" stroke="#d3d3d3" stroke-width="3.4"/>
<path d="M964.8,876.8C965.2,870.7 969,862.2 974.7,857.5C980.5,852.8 991.2,849.9 999.4,848.6C1007.7,847.3 1017.2,848.2 1024.2,849.6C1031.2,851 1037.7,853.3 1041.5,857C1045.3,860.7 1047.3,866.9 1046.9,871.8C1046.5,876.8 1043.6,883 1039,886.7C1034.4,890.4 1027.5,891.8 1019.2,894.1C1011,896.4 997.4,900.5 989.6,900.5C981.7,900.5 976.4,898 972.2,894.1C968.1,890.1 964.4,882.9 964.8,876.8Z" fill="#d3d3d3" />
<path d="M1225.6,861.9C1227.3,855 1232.4,845.5 1239.2,840.2C1246,834.8 1257.8,830.3 1266.4,829.8C1275.1,829.3 1285,832.3 1291.2,837.2C1297.3,842.2 1300.2,851.2 1303.5,859.5C1306.8,867.7 1310.5,878.4 1310.9,886.7C1311.4,894.9 1309.7,903.5 1306,908.9C1302.3,914.4 1294.9,918.5 1288.7,919.3C1282.5,920.1 1275.9,917.6 1268.9,913.9C1261.9,910.1 1253.3,901.9 1246.7,896.6C1240.1,891.2 1232.9,887.5 1229.4,881.7C1225.9,875.9 1224,868.9 1225.6,861.9Z" fill="#d3d3d3" />
<path d="M1109.5,733.4C1109.9,731.7 1115,730.3 1116.9,730.9C1118.7,731.5 1121,735.4 1120.6,737.1C1120.2,738.8 1116.3,741.9 1114.4,741.3C1112.5,740.7 1109,735.1 1109.5,733.4Z" fill="#f4f4f4"/>
<path d="M1147.8,738.3C1148.4,734.6 1153.7,726.8 1155.2,728.4C1156.6,730.1 1157,744.5 1156.4,748.2C1155.8,751.9 1152.9,752.3 1151.5,750.7C1150,749 1147.2,742 1147.8,738.3Z" fill="#f4f4f4"/>
<path d="M1120.6,777.9C1122,775.6 1128.2,771.1 1129.2,771.7C1130.3,772.3 1128.2,779.3 1126.8,781.6C1125.3,783.9 1121.6,785.9 1120.6,785.3C1119.6,784.7 1119.1,780.2 1120.6,777.9Z" fill="#f4f4f4"/>
<path d="M1179.9,735.9C1180.7,732.4 1183.2,729.7 1183.6,732.2C1184,734.6 1183.2,747.2 1182.4,750.7C1181.6,754.2 1179.1,755.6 1178.7,753.2C1178.3,750.7 1179.1,739.4 1179.9,735.9Z" fill="#f4f4f4"/>
<path d="M1155.2,760.6C1155.6,759.8 1161.8,758.7 1162.6,759.3C1163.4,760 1161.4,764.1 1160.1,764.3C1158.9,764.5 1154.8,761.4 1155.2,760.6Z" fill="#f4f4f4"/>
<path d="M1053.8,661.7C1054.4,662.1 1058.8,669.1 1060,671.6C1061.2,674.1 1061.9,676.9 1061.2,676.5C1060.6,676.1 1057.5,671.6 1056.3,669.1C1055.1,666.6 1053.2,661.3 1053.8,661.7Z" fill="#f4f4f4"/>
<path d="M987.1,878C988.7,877.1 996.8,874.7 999.4,874.3C1002.1,873.9 1004.8,874.6 1003.2,875.5C1001.5,876.4 992.2,879.3 989.6,879.7C986.9,880.2 985.4,878.9 987.1,878Z" fill="#f4f4f4"/>
<path d="M1094.6,716.1C1095,714.8 1097.3,713.2 1098.3,713.6C1099.4,714 1101.2,717.3 1100.8,718.6C1100.4,719.8 1096.9,721.4 1095.9,721C1094.8,720.6 1094.2,717.3 1094.6,716.1Z" fill="#f4f4f4"/>
<path d="M1172.5,834.7C1170.8,831.9 1182.8,823.6 1187.3,819.9C1191.9,816.2 1197,811.3 1199.7,812.5C1202.4,813.7 1203.8,823.2 1203.4,827.3C1203,831.5 1202.4,836 1197.2,837.2C1192.1,838.5 1174.1,837.6 1172.5,834.7Z" fill="none" stroke="#e4e4e4" stroke-width="1.2"/>
<path d="M1177.4,837.2C1175.8,836 1186.3,827.7 1189.8,824.9C1193.3,822 1196.8,818.7 1198.5,819.9C1200.1,821.1 1203.2,829.4 1199.7,832.3C1196.2,835.2 1179.1,838.5 1177.4,837.2Z" fill="none" stroke="#e4e4e4" stroke-width="1.2"/>
<path d="M1095.9,859.5C1096.7,854.1 1103.7,843.4 1108.2,842.2C1112.8,840.9 1121,847.1 1123.1,852.1C1125.1,857 1123.9,868.1 1120.6,871.8C1117.3,875.5 1107.4,876.4 1103.3,874.3C1099.2,872.2 1095,864.8 1095.9,859.5Z" fill="none" stroke="#e4e4e4" stroke-width="1.2"/>
<path d="M974.7,876.8C976.4,870 990,858.2 999.4,854.5C1008.9,850.8 1024.4,852.1 1031.6,854.5C1038.8,857 1042.7,863.6 1042.7,869.4C1042.7,875.1 1040.4,884.8 1031.6,889.1C1022.7,893.5 999,897.4 989.6,895.3C980.1,893.3 973.1,883.6 974.7,876.8Z" fill="none" stroke="#e4e4e4" stroke-width="1.2"/>
<path d="M1054.1,630.3h0M1050.9,636h0M1056.8,637.5h0M1054.3,634h0M1061.5,642.9h0M1043.2,643.6h0M1040.5,645.4h0M1035.8,648.8h0M1056.3,648.3h0M1060.3,652.3h0M1071.1,651.8h0M1077.6,656.3h0M1048.9,657.7h0M1040.5,661.2h0M1058.3,684.4h0M1069.2,683h0M1087,695.8h0M1123.8,708.7h0M1100.1,724.2h0M1188.8,730.7h0M1111.7,780.9h0M1114.9,791h0M1139.1,776.7h0M1145.3,776.7h0M1142.3,780.4h0M1140.4,784.8h0M1125.5,801.6h0M1123.1,806.3h0M1114.4,819.9h0M1111.9,823.6h0M1109.5,826.1h0M1113.2,824.9h0M1113.2,828.6h0M1116.1,831h0M1118.1,834.7h0M1110.2,857.7h0M1153.2,842.4h0M1147.3,850.1h0M1149.3,856h0M1157.2,857h0M1160.1,859.5h0M1169,860h0M1175.5,866.9h0M1168,862.9h0M1150.2,864.4h0M1147.8,868.1h0M1145.3,871.3h0M1152.7,874.3h0M1157.7,873.1h0M1162.6,876.8h0M1177.9,877.3h0M1165.1,879.2h0M1155.2,880.5h0M1175,883h0M1152.7,884.2h0M1160.1,885.4h0M1167.6,885.4h0M1172.5,887.9h0M1179.4,889.1h0M1155.2,889.1h0M1162.6,890.4h0M1157.7,894.1h0M1165.1,895.3h0M1170,895.3h0M1155.2,899h0M1161.4,899h0M1156.4,904h0M1157.7,901h0M1251.1,873.8h0M1260.3,872.8h0M1262,863.9h0M1266.4,867.9h0M1270.4,874.3h0M1280,879.2h0" stroke="#cc0000" stroke-width="5" stroke-linecap="round" fill="none"/>
<path d="M1150.2,874.3C1151.7,871.7 1159.5,873.3 1162.6,876.3C1165.7,879.2 1169.4,887.6 1168.8,892.1C1168.2,896.6 1161.4,903.6 1158.9,903.5C1156.4,903.4 1155.2,896.5 1153.7,891.6C1152.3,886.7 1148.8,876.9 1150.2,874.3Z" fill="#cc0000" stroke="#cc0000" stroke-width="4" stroke-linecap="round" stroke-linejoin="round" stroke-dasharray="0 3" />
<path d="M1007.8,873.6C1007.8,873.1 1012,872.6 1014.3,872.1C1016.6,871.5 1019.4,871.8 1021.7,870.3C1024,868.9 1025.8,863.4 1027.9,863.4C1029.9,863.5 1034.1,868 1034.1,870.6C1034.1,873.2 1029.9,878.3 1027.9,879.2C1025.8,880.2 1024,876.7 1021.7,876C1019.4,875.3 1016.6,875.5 1014.3,875C1012,874.6 1007.8,874.1 1007.8,873.6Z" fill="#cc0000" stroke="#cc0000" stroke-width="4" stroke-linecap="round" stroke-linejoin="round" stroke-dasharray="0 3" />
<path d="M1264.5,854C1266.9,852.6 1277.2,850.2 1280.8,851.1C1284.4,852 1285.5,855.6 1286.2,859.5C1287,863.3 1283.7,870.1 1285.2,874.3C1286.7,878.5 1293.9,881.1 1295.1,884.7C1296.4,888.3 1294.7,893.7 1292.6,896.1C1290.6,898.4 1285.3,899.8 1283,899C1280.7,898.3 1279,895.3 1278.8,891.6C1278.6,887.9 1282.8,881 1281.8,876.8C1280.7,872.6 1274.9,869.3 1272.4,866.4C1269.8,863.5 1267.8,861.5 1266.4,859.5C1265.1,857.4 1262.1,855.4 1264.5,854Z" fill="#cc0000" stroke="#cc0000" stroke-width="4" stroke-linecap="round" stroke-linejoin="round" stroke-dasharray="0 3" />
<path d="M923.9,885.9V970.4H1007" fill="none" stroke="#44546a" stroke-width="4.2" stroke-linejoin="miter"/><path d="M923.9,873.9L917,890.3L923.9,886.3L930.8,890.3Z" fill="#44546a"/><path d="M1019,970.4L1002.4,963.8L1006.6,970.4L1002.4,977Z" fill="#44546a"/>
<text x="906.5" y="975" font-size="28.2" textLength="95" lengthAdjust="spacingAndGlyphs" transform="rotate(-90 906.5 975)">UMAP 2</text>
<text x="921.9" y="1006.8" font-size="26.2" textLength="91.5" lengthAdjust="spacingAndGlyphs">UMAP 1</text>
<circle cx="1264.5" cy="711.1" r="8.4" fill="#cc0000" stroke="#000" stroke-width="1.9"/>
<text x="1285.5" y="719.3" font-size="26.8">IL-23R<tspan font-size="17" dy="-10">+</tspan><tspan dy="10">​</tspan></text>
<text x="1513.9" y="554.6" font-size="37" textLength="15" lengthAdjust="spacingAndGlyphs" font-weight="bold" stroke="#000" stroke-width="1.3">f</text>
<text x="1569.3" y="569.3" font-size="26.7">Percentage of IL-23R<tspan font-size="20.5" dy="-11">tdTomato</tspan><tspan dy="11">​</tspan><tspan font-size="11" dy="-17">+</tspan></text>
<path d="M1716.1,637A135.6,135.6 0 0 1 1848.9,745.3L1782.3,759A67.6,67.6 0 0 0 1716.1,705Z" fill="#dc3408" stroke="#000" stroke-width="2" stroke-linejoin="round"/><path d="M1848.9,745.3A135.6,135.6 0 0 1 1851.7,772.6L1783.7,772.6A67.6,67.6 0 0 0 1782.3,759Z" fill="#2a7580" stroke="#000" stroke-width="2" stroke-linejoin="round"/><path d="M1851.7,772.6A135.6,135.6 0 0 1 1709,908L1712.6,840.1A67.6,67.6 0 0 0 1783.7,772.6Z" fill="#8b1000" stroke="#000" stroke-width="2" stroke-linejoin="round"/><path d="M1709,908A135.6,135.6 0 0 1 1716.1,637L1716.1,705A67.6,67.6 0 0 0 1712.6,840.1Z" fill="#0533aa" stroke="#000" stroke-width="2" stroke-linejoin="round"/>
<circle cx="1904.9" cy="695.1" r="8.5" fill="#d23a28" stroke="#000" stroke-width="2"/>
<text x="1925.3" y="703.2" font-size="26.8" textLength="112.5" lengthAdjust="spacingAndGlyphs">CD4<tspan font-size="17" dy="-10">+</tspan><tspan dy="10">​</tspan> T<tspan font-size="17.3" dy="8">EM</tspan><tspan dy="-8">​</tspan></text>
<circle cx="1904.9" cy="740.1" r="8.5" fill="#317480" stroke="#000" stroke-width="2"/>
<text x="1925.3" y="748.2" font-size="26.8" textLength="112.5" lengthAdjust="spacingAndGlyphs">CD8<tspan font-size="17" dy="-10">+</tspan><tspan dy="10">​</tspan> T<tspan font-size="17.3" dy="8">EM</tspan><tspan dy="-8">​</tspan></text>
<circle cx="1904.9" cy="780.9" r="8.5" fill="#7e1416" stroke="#000" stroke-width="2"/>
<text x="1925.3" y="789" font-size="26.8" textLength="110" lengthAdjust="spacingAndGlyphs">T<tspan font-size="17.3" dy="8">reg</tspan><tspan dy="-8">​</tspan> cells</text>
<circle cx="1904.9" cy="823.3" r="8.5" fill="#2b3990" stroke="#000" stroke-width="2"/>
<text x="1925.3" y="831.4" font-size="26.8" textLength="118.5" lengthAdjust="spacingAndGlyphs">γδ T cells</text>
<text x="0" y="1094.5" font-size="35" textLength="23" lengthAdjust="spacingAndGlyphs" font-weight="bold" stroke="#000" stroke-width="1.3">g</text>
<text x="50.3" y="1101.1" font-size="26.7" textLength="340" lengthAdjust="spacingAndGlyphs">Tumor-infiltrating T<tspan font-size="17.5" dy="8">reg</tspan><tspan dy="-8">​</tspan> cells</text>
<g filter="url(#rag)"><path d="M233.7,1234.2C241.5,1236.6 244.5,1246.1 251.7,1252.1C258.9,1258.1 269.1,1262.3 276.9,1270.1C284.6,1277.9 293,1286.3 298.4,1298.9C303.8,1311.5 305,1334.8 309.2,1345.6C313.4,1356.4 320.6,1355.8 323.6,1363.6C326.6,1371.4 324.5,1383.4 327.2,1392.4C329.9,1401.3 338.3,1405.5 339.8,1417.5C341.3,1429.5 338.9,1449.9 336.2,1464.3C333.5,1478.7 330.5,1492.4 323.6,1503.8C316.7,1515.2 302.6,1523.6 294.8,1532.6C287,1541.6 285.2,1550.6 276.9,1557.8C268.5,1564.9 257.1,1571.2 244.5,1575.7C231.9,1580.2 211.5,1585.9 201.3,1584.7C191.2,1583.5 191.2,1573 183.4,1568.5C175.6,1564 163,1563.1 154.6,1557.8C146.2,1552.4 137.8,1544 133,1536.2C128.2,1528.4 125.8,1520 125.8,1511C125.8,1502 127.6,1491.8 133,1482.2C138.4,1472.7 152.2,1464.3 158.2,1453.5C164.2,1442.7 166,1428.9 169,1417.5C172,1406.1 174.4,1396.6 176.2,1385.2C178,1373.8 182.8,1358.2 179.8,1349.2C176.8,1340.2 162.7,1337.8 158.2,1331.2C153.7,1324.6 152.2,1318.7 152.8,1309.7C153.4,1300.7 157.3,1286.9 161.8,1277.3C166.3,1267.7 172.6,1258.7 179.8,1252.1C187,1245.5 196,1240.7 204.9,1237.8C213.9,1234.8 225.9,1231.8 233.7,1234.2Z" fill="#9c9897" stroke="#9c9897" stroke-width="4" stroke-linecap="round" stroke-linejoin="round" stroke-dasharray="0 3" /></g>
<path d="M195.1,1287h0M240.5,1362.4h0M216.7,1524h0M260.1,1566.4h0M249.3,1373.2h0M191.8,1520.3h0M164.5,1438h0M262.5,1364.7h0M243,1256.2h0M271.4,1384.1h0M193,1439.4h0M222.8,1339.2h0M295.8,1479.2h0M178.1,1435.5h0M238.2,1540.9h0M281.9,1335.1h0M215.3,1499.6h0M289.4,1435h0M274.6,1442.5h0M249.9,1394.1h0M227.3,1467h0M138.8,1480.1h0M301.7,1333.9h0M208.4,1468.6h0M138.5,1503.5h0M209.5,1539.6h0M243.4,1543.8h0M185.4,1379.7h0M202.6,1544.1h0M163.5,1315.5h0M175.8,1404.2h0M251.9,1326.3h0M204.8,1432.7h0M329.7,1476.2h0M236.1,1450.7h0M318.3,1507.6h0M312.9,1513.9h0M209.8,1374h0M170.5,1291.1h0M198.6,1252.6h0M257.2,1286.2h0M179.8,1355.9h0M203.7,1277.2h0M225.5,1403.8h0M199.1,1327h0M238.9,1285.6h0M242,1243.6h0M310.5,1478.2h0M181.7,1362.7h0M161.6,1504.8h0M239.8,1507.3h0M196.4,1312.3h0M308.2,1516.7h0M300.9,1493.5h0M174.3,1415.6h0M201.9,1244.3h0M181.3,1476.9h0M173,1313.7h0M167.9,1305.8h0M259.4,1549.8h0M305.6,1402.2h0M265.5,1514.5h0M286.3,1401.7h0M164,1510.8h0M197,1514.9h0M211.7,1566.1h0M280.9,1293.8h0M157.1,1523.9h0M335.6,1464.6h0M200.8,1426.5h0M333.5,1461.9h0M238.5,1561.5h0M218.6,1539.8h0M179.7,1336.9h0M177.3,1439.7h0M181.3,1381h0M153.9,1553.2h0M201.5,1394.8h0M250.6,1551.2h0M215.8,1555.9h0M233.2,1420.6h0M237.8,1240.7h0M220,1298.3h0M281,1429.2h0M195.6,1415.9h0M244.7,1509.1h0M179,1331.2h0M291.1,1412.1h0M246,1500.6h0M321.1,1389.5h0M256.9,1411.4h0M235.4,1477h0M222.6,1421.1h0M228.1,1564.2h0M275.4,1541.4h0M245.5,1564.8h0M158.9,1485.2h0M267.1,1284.3h0M211,1405h0M236.1,1353h0M244.4,1388.6h0M259.3,1413.7h0M134.3,1507.2h0M183.7,1279.6h0M216.2,1553.7h0M301,1324.8h0M157.8,1556.4h0M247.9,1479.7h0M273.1,1383.3h0M261.6,1515.2h0M143.8,1534.3h0M140.1,1536.6h0M222.9,1353.1h0M244.2,1559h0M183.1,1279.5h0M238.6,1317.7h0M192.6,1341.1h0M288.3,1335.8h0M232.8,1296.5h0M282.7,1427.3h0M301,1385.7h0M231.7,1526.7h0M209.9,1411.8h0M199.2,1525.9h0M277,1457.1h0M212.4,1356h0M141,1493.9h0M180.5,1291.4h0M143.9,1529.1h0M312.1,1469.2h0M186.2,1319.1h0M188.5,1395.2h0M333.9,1425.9h0M192.1,1359.2h0M227.4,1410.4h0M190.9,1315.8h0M251.1,1419.7h0M286.4,1464.7h0M279,1542.3h0M209.2,1348.5h0M280.8,1459.6h0M135.2,1527h0M316.7,1454.1h0M282.8,1518.9h0M233.7,1526.9h0M298,1523.9h0M250.8,1547.1h0M271.9,1477.2h0M148.3,1527.2h0M245.3,1454.2h0M259.8,1472.8h0M230.5,1235.3h0M296.5,1496.5h0M233.4,1421.8h0M283.5,1322.6h0M281.9,1306.1h0M231.5,1368.3h0M228.3,1473.8h0M289.9,1450.4h0M263.4,1261.3h0M157.4,1323.2h0M284.8,1340.9h0M269.6,1476.8h0M270.4,1336.1h0M236.3,1397.1h0M225.6,1275.7h0M222,1328.3h0M170.9,1438h0M301.3,1412.5h0M315.6,1480.7h0M175.3,1548.9h0M229.8,1242.9h0M222.3,1340h0M193.5,1528.7h0M324,1484.1h0M205.5,1371.9h0M203,1384.2h0M184.7,1251.1h0M147.6,1526.8h0M186.9,1562.1h0M179.2,1327.3h0M235.2,1300.7h0M205.7,1569.4h0M260.8,1554.4h0M327.1,1426.7h0M282.5,1392.2h0M286.9,1460.1h0M187.1,1251.3h0M226.9,1354.6h0M189.5,1493.2h0M266.2,1339.6h0M245.1,1372.4h0M161.6,1290.8h0M170.3,1551.8h0M232.2,1311.3h0M222.1,1283.1h0M199,1266.1h0M177,1324.7h0M247.7,1545.2h0M286.2,1378.9h0M214.4,1417.9h0M206.5,1352.7h0M233.5,1454.9h0M183.8,1321.3h0M211.4,1390.5h0M317.5,1400.1h0M209.6,1559.1h0M237.6,1473.3h0M327.3,1487.2h0M264.3,1502.3h0M223.7,1427.5h0M134.3,1508.4h0M175.6,1556.6h0M263.9,1340.7h0M262,1479.1h0M238,1438.5h0M208.9,1312.5h0M190.3,1395.7h0M331,1460.1h0M314.9,1400.8h0M176.1,1320.8h0M232.4,1470.6h0M215.7,1324.3h0M268.6,1558.5h0M198.2,1381.6h0M271.9,1303.6h0M296.4,1493.3h0M233.9,1306.1h0M301.3,1315.1h0M173.2,1500.7h0M188.9,1567.9h0M231.9,1299.8h0M268,1366.9h0M205.8,1350.4h0M185.7,1357.4h0M202.1,1522.2h0M301.7,1385.8h0M205.6,1556.5h0M213.7,1518.8h0M198.4,1329.6h0M330.7,1450.4h0M181.9,1485.4h0M193.5,1330.8h0M321.9,1456.4h0M175.9,1400.7h0M208.5,1322.2h0M217.8,1407.2h0M297.5,1493h0M301.9,1505.1h0M255.8,1349.1h0M194.2,1361h0M168.1,1498.1h0M178.7,1256.9h0M195.5,1577.8h0M182.5,1263.6h0M277.7,1390.8h0M258.5,1470.5h0M285.9,1531.1h0M268,1276.6h0M305.7,1337.1h0M247.1,1364.9h0M283.7,1304h0M178.8,1320.2h0M158.6,1544.1h0M249.6,1348.6h0M210.6,1582.1h0M234.4,1315.3h0M298.8,1463.2h0M227.4,1521.3h0M334,1438.6h0M311.1,1391.6h0M181.5,1506.8h0M253.4,1451.5h0M156.1,1305.7h0M180.4,1444.3h0M265.3,1305.5h0M271,1299.1h0M192.6,1305.5h0M296,1426.3h0M210.4,1427h0M262.6,1266.1h0M160.9,1477.9h0M213.5,1333.5h0M191.6,1568.3h0M192.7,1432.8h0M202.3,1380.1h0M203.7,1303.3h0M281.6,1305.6h0M216.5,1521.7h0M212.7,1543.6h0M224.4,1291.1h0M262.9,1553.1h0M205.2,1411h0M237.3,1558.6h0M168.1,1278.6h0M229.1,1252.9h0M324,1370.1h0M319.3,1451.6h0M294,1312h0M212.4,1530.9h0M236.6,1368.6h0M280.9,1548.7h0M254.1,1427h0M260,1341.5h0M215.7,1438.4h0M216.9,1465.1h0M221.4,1387.8h0M230.6,1316.6h0M289.2,1507.6h0M223.9,1297.1h0M227.1,1271.7h0M235,1248.4h0M262,1263h0M282.8,1506.8h0M235.3,1253.2h0M233.6,1366.6h0M282.5,1519.9h0M231.1,1569.5h0M287.6,1289.8h0M233.3,1556.6h0M170.4,1326.3h0M234.1,1346h0M271.2,1548.1h0M161.9,1509.3h0M262,1360.3h0M312.6,1428.8h0M249.9,1543.5h0M260.6,1372.4h0M296.5,1327h0M337.7,1436.6h0" stroke="#fff" stroke-width="2" stroke-linecap="round" fill="none"/>
<path d="M202.9,1502.2h0M220.5,1296.1h0M301.2,1323.1h0M251.2,1466.8h0M257.6,1385.7h0M235.5,1548.1h0M154.1,1313.8h0M173.8,1438.7h0M251.9,1305.7h0M259.3,1400.6h0M178,1286.5h0M312.2,1508.4h0M211.8,1326.8h0M246.1,1357h0M264,1389.7h0M326.3,1491.3h0M179,1550.9h0M212.7,1317.5h0M138.3,1507.2h0M168.5,1447.3h0M234.3,1459.1h0M192,1339.4h0M293.3,1484.9h0M285.3,1397.3h0M284.5,1392.8h0M174.2,1271.1h0M197.6,1497h0M274.5,1530.5h0M278.1,1327.4h0M244.3,1387h0M294.5,1417.6h0M182.6,1459.2h0M181.5,1316.9h0M285.5,1348.7h0M177,1552.3h0M260.8,1477h0M226.3,1528.5h0M275.1,1534.8h0M219.4,1488.2h0M247.9,1342h0M171.2,1452.4h0M199.6,1283.9h0M274,1456.4h0M275,1492.4h0M203.6,1520.8h0M140,1538.4h0M307.2,1518.8h0M261.5,1523.4h0M260.9,1334.9h0M287.9,1306h0M194.1,1382.7h0M186.3,1485.1h0M204.6,1346.6h0M332.1,1410.7h0M308,1450.9h0M219.2,1505.2h0M200,1481.2h0M240.9,1310.1h0M231,1513.5h0M200.1,1525.8h0M181.6,1565h0M186.5,1309.4h0M275.5,1408.8h0M143.1,1510.4h0M275,1510h0M260.2,1358.8h0M211.7,1372.5h0M169.9,1326.4h0M318.6,1409.9h0M207,1544h0M175.8,1395.7h0M239.6,1498.6h0M286.9,1460.7h0M200.4,1348.7h0M159.1,1529.7h0M267.5,1494.3h0M291.3,1437.2h0M276.3,1529.9h0M158.9,1288.8h0M237.6,1290.6h0M196,1300.5h0M282.7,1386.6h0M167.8,1457.8h0M208.9,1246.1h0M211.2,1511.5h0M274.2,1409.6h0M261.1,1396.6h0M212.4,1493.9h0M320.1,1384.9h0M248.6,1496.8h0M215.9,1314.3h0M280.3,1542.7h0M291.4,1479.6h0M308.2,1472.4h0M263.1,1393.3h0M192.8,1454.4h0M293.2,1484.2h0M260.5,1321.8h0M216.5,1393.7h0M258.8,1377.7h0M270.3,1560.2h0M165,1463.6h0M292.3,1370.4h0M230.6,1575.8h0M160.3,1508.2h0M327.1,1416.2h0M241.6,1485.6h0M235.4,1458.3h0M303.2,1417h0M213.6,1566.5h0M170.8,1474.1h0M209.8,1501.5h0M201.9,1254h0M184.5,1374.3h0M215.8,1478.9h0M201.2,1327.1h0M173.9,1494.1h0M326.9,1418.9h0M172.7,1515.1h0M209.7,1308.5h0M153.5,1506.4h0M299,1456.5h0M226.2,1431.2h0M201.4,1458.1h0M301,1520.3h0M226,1337.3h0M243.1,1278h0M304.2,1358.5h0M206.3,1323h0M217,1299.3h0M186,1320h0M190.4,1402.3h0M217.5,1457.6h0M266.9,1361.2h0M138.1,1524.4h0M155.9,1525.6h0M266.2,1321.8h0M175.8,1506.3h0M200,1287.7h0M161.8,1546.6h0M256,1508h0M268.8,1547.5h0M294.4,1528.2h0M168.1,1477h0M239.4,1494.2h0M219.7,1543.6h0M244.6,1326.9h0M175.9,1283h0M231.3,1254.6h0M225.8,1284.8h0M231,1408.8h0M241.3,1536.6h0M226,1431.4h0M268.2,1528.8h0M206.1,1381h0M262.1,1457.2h0M196.5,1578.3h0M235.1,1404.1h0M279.5,1453.4h0M198.3,1536.2h0M204.2,1400.5h0M238.3,1504.3h0M216.2,1428.4h0M302.7,1336.8h0M302.9,1375.7h0M233.6,1329.4h0M234.2,1576h0M265.9,1511.8h0M196.6,1345.3h0M189.9,1439.7h0M261.7,1509.1h0M134.4,1487.5h0M315.3,1425.4h0M323,1447.5h0M266.6,1510.8h0M320.5,1448.6h0M257.8,1453.9h0M274.8,1443.2h0M271.5,1308.7h0M268.5,1394.7h0M266.1,1363.5h0M301.8,1509.9h0M246.1,1324.6h0M190.5,1382h0M194,1385.1h0M263.1,1561.5h0M299.2,1435.8h0M322.4,1390.7h0M252.5,1562.9h0M214.1,1269.9h0" stroke="#fff" stroke-width="3.4" stroke-linecap="round" fill="none"/>
<path d="M263.7,1308.6h0M144.7,1539h0M279.7,1319.1h0M282.8,1299.9h0M136.6,1505.5h0M278.5,1534.1h0M260.3,1482.8h0M224.4,1561h0M192.4,1489.9h0M161.4,1536h0M229.9,1255.1h0M204.5,1435.7h0M219.7,1471.4h0M156.8,1513.7h0M203.6,1460.2h0M260.6,1380.7h0M208.4,1509.8h0M247.1,1336.7h0M276.3,1524.2h0M196.9,1446.5h0M254.4,1342.3h0M217.5,1545.5h0M206.4,1474.2h0M254.6,1548.3h0M298.6,1333.5h0M216.2,1439.8h0M134.9,1526.3h0M248.2,1330.2h0M307.9,1517.1h0M272.3,1554.5h0M200,1264h0M244.3,1513.7h0M168.7,1497.1h0M255.7,1471.7h0M225.4,1306.6h0M180.3,1497.5h0M295.2,1395.3h0M144.6,1516.9h0M291,1315.8h0M249.8,1548.6h0M315.2,1417.1h0M227.8,1440.8h0M166.3,1301.6h0M164.5,1479.9h0M203.5,1432h0M211.9,1415.5h0M253.6,1355.1h0M237,1241.4h0M311.1,1404.6h0M247.2,1325.9h0M292.5,1383.5h0M168.8,1297.5h0M245.1,1539.4h0M223.9,1566.2h0M253.8,1373.5h0M180.9,1432h0M269.1,1372h0M221.8,1290.2h0M180.6,1357.6h0M294.1,1482.9h0M270.7,1338.9h0M252.4,1499.8h0M180.8,1277.7h0M228.8,1293.3h0M176.9,1284.3h0M279.3,1302.6h0M173,1561.6h0M306,1454.4h0M222.6,1353.3h0M301.9,1401.6h0M260.2,1284.2h0M278.5,1428.1h0M156.8,1539.4h0M182.8,1378.5h0M159.1,1329.2h0M305.5,1351.4h0M193.9,1550.8h0M268.8,1308.2h0M228,1334.5h0M181,1304.8h0M203.8,1581.6h0M281.3,1337.1h0M298.5,1353.7h0M303.9,1418.8h0M248.1,1282.6h0M164.4,1504.2h0M278.1,1303.1h0M256,1407.9h0M184.4,1306.4h0M256.9,1482.3h0M299.5,1438.5h0M282.6,1377.2h0M299.3,1351.7h0M231.3,1239.6h0M320.6,1401.2h0M165.6,1525.7h0M204.4,1291.5h0M205.2,1442.7h0M221.2,1414.9h0M151.7,1484.7h0" stroke="#fff" stroke-width="5" stroke-linecap="round" fill="none"/>
<path d="M174.4,1539.9h0M182.9,1544.4h0M263.2,1515.8h0M201.4,1519.8h0M155,1472.1h0M164.6,1551.8h0M210.3,1519h0M251.4,1540.6h0M198.7,1516.5h0M168.6,1474.3h0M186.3,1475.9h0M212.4,1556.7h0M150.1,1524.5h0M183.9,1507.5h0M247.2,1519.3h0M184.9,1565.6h0M238.4,1498.4h0M163.1,1498h0M243.7,1555.2h0M136.9,1518.3h0M164.4,1507.7h0M218.2,1501.3h0M190.2,1516.9h0M260.8,1531.3h0M219.4,1490.3h0M224.6,1491.2h0M205.5,1563.7h0M216.6,1488.6h0M202.4,1509h0M172.3,1532.8h0M146.3,1526.9h0M263.5,1517.9h0M167.1,1512.7h0M204.3,1477.2h0M170.6,1506h0M169.9,1487.8h0M141.8,1521.6h0M247.2,1528.7h0M209.4,1533.2h0M157.7,1539.9h0M194.1,1521.8h0M215.4,1512.9h0M173,1487.7h0M160.5,1517.8h0M183.2,1526h0M207.5,1515.4h0M170.9,1546.7h0M251.6,1509.7h0M138.1,1503.9h0M191.1,1542.6h0M144.8,1485.8h0M151.1,1498.2h0M178.9,1535.9h0M215.9,1555.4h0M244.6,1518.4h0M233,1543.5h0M236,1513.6h0M239.5,1539.6h0M236.8,1526h0M199.3,1568h0M209.6,1507.3h0M239.3,1558h0M214.6,1503h0M192.9,1511.7h0M230.8,1493.3h0M184.2,1522.6h0M183.4,1496.6h0M239.8,1555.4h0M199.5,1510.2h0M155.3,1494.6h0M149.8,1524.8h0M189.2,1562.2h0M208.7,1516.1h0M202,1518.3h0M225.5,1504.1h0M179.6,1527h0M178.7,1566.3h0M224.3,1519.2h0M143.3,1502.4h0M185.7,1523.2h0M209.9,1558.7h0M264.7,1514.9h0M191.2,1530.3h0M203.8,1551.6h0M153.4,1496.1h0M201.3,1473h0M254.9,1537.6h0M254,1507.6h0M151.4,1493h0M201.2,1516.9h0M155.8,1481h0M217.8,1527.9h0M187.1,1548.5h0M172.5,1537.7h0M247.5,1526h0M199.3,1522.3h0M166.7,1532.8h0M210,1506.5h0M146.5,1478.1h0M202.7,1552.4h0M215.4,1550.6h0M237.5,1496.7h0M229.8,1500.1h0M153.2,1490.4h0M211.1,1499.6h0M192.5,1503.7h0M211.1,1567.6h0M191.1,1529.8h0M164.4,1465.6h0M173.6,1560.9h0M213.9,1567.7h0M198.9,1566.5h0M163.5,1504.1h0M172.8,1558.2h0M197.4,1549h0M163.6,1480h0M179.7,1481.5h0M204.3,1503.7h0M186,1468h0M178.7,1488h0M156.2,1492.3h0M162.7,1464.6h0M222.6,1498.7h0M151.3,1539.4h0M142.4,1490.7h0M191.6,1553.9h0M178.9,1541.2h0M182.3,1567.5h0M200.2,1486h0M192.9,1475.3h0M255.6,1526.2h0M181,1488.1h0M214.7,1484.4h0M201.4,1521.2h0M167.4,1546.7h0M183.4,1534h0M209,1495.3h0M184.1,1470.3h0M174.5,1534.5h0M144.7,1523.3h0M180.1,1516.4h0M171.1,1468h0M173.1,1485.9h0M147.1,1540.6h0M169,1505.6h0M148,1491.5h0M222.5,1499.8h0M187.3,1534.1h0M232.4,1540.1h0M152.2,1482.8h0M171.9,1503.1h0M247.2,1524.2h0M190.4,1536.9h0M246.4,1547.2h0M169.6,1465.5h0M249.2,1528.4h0M226.8,1504.5h0M234.3,1553h0M168.9,1470.7h0M259.9,1537.8h0M233,1553.2h0M217.5,1511.1h0M189.5,1517.7h0M228,1550.5h0M166.1,1521.6h0M265.4,1531.7h0M205.7,1488.5h0M137.8,1500.6h0M187.2,1483.1h0M173,1475.9h0M228.6,1535.4h0M162.8,1487.6h0M201.7,1510.3h0M171.4,1559.3h0M149.3,1523.5h0M176.2,1551.6h0M206.3,1545.4h0M153.2,1535h0M213.4,1512.1h0M236.9,1553.3h0M145.5,1492.9h0M180,1483.7h0M137.9,1492h0M157.1,1538.9h0M192.3,1473.3h0M174.9,1512.9h0M180.3,1479.4h0M266.9,1523.5h0M144.7,1515.2h0M190.3,1481.8h0M258.4,1532.5h0M217.5,1564.9h0M220.9,1488.7h0M163.9,1476.1h0M155.5,1531.8h0M153.1,1548.1h0M245.9,1543.4h0M175.2,1481.2h0M181.1,1522.1h0M181.2,1553.3h0M163,1465.3h0M208.9,1530.7h0M244.4,1539.3h0M198.8,1516.4h0M151.5,1494.1h0M191.6,1568.8h0M191.1,1481.9h0M239.8,1508.1h0M169.2,1534.4h0M201.6,1507.6h0M176.9,1509.6h0M222.8,1552.7h0M170.9,1510.1h0M208.4,1499.5h0M156.8,1470.2h0M174.8,1512h0M264.3,1529.8h0M224.3,1528.6h0M171.1,1524.3h0M263,1514.3h0M220.2,1494h0M177.6,1559.3h0M224.6,1510.5h0M141.4,1534.3h0M181.6,1525.4h0M187.8,1519.7h0M208.6,1504.9h0M145.5,1480.8h0M254.2,1521.8h0M165,1471.3h0M203.9,1488.7h0M198,1522.4h0M161.2,1524.5h0M145.3,1517.9h0M186.7,1468.9h0M191.1,1556.9h0M206.6,1540.3h0M184.4,1479.8h0M264.1,1523.4h0M162.7,1502.2h0M159.3,1494.1h0M228.6,1508.2h0M254,1529.9h0M251.7,1523.4h0M153,1543.8h0M177.3,1545.8h0M224.9,1552.7h0M146.6,1502.3h0M206.4,1550.2h0M224.1,1489.1h0M156.5,1510.5h0M247,1525.5h0M155.4,1522.5h0M170.1,1537.3h0M182.8,1476.8h0M252.2,1520.7h0M226.1,1550.8h0M177.4,1477.5h0M199.8,1558h0M155,1551.9h0M224.7,1504.4h0M196.2,1478.3h0M247.9,1504.5h0M251.9,1528.8h0M140.1,1497.4h0M153.2,1500.9h0M195,1525h0M183.8,1500.1h0M176.2,1463h0M223.5,1491.1h0M167.8,1516.4h0M166.2,1524.1h0M203.5,1567.3h0M208.1,1546.6h0M251.8,1547h0M218.2,1531.4h0M180.3,1492.1h0M241,1558h0M261.1,1536.6h0M172.1,1545.8h0M233.1,1517.4h0M218.5,1499.7h0M206.7,1505.9h0M137.9,1498.3h0M197,1501.6h0M163.6,1486.8h0M178.4,1475.8h0M193,1510.3h0M209.2,1494.4h0M171.7,1495.1h0M231.3,1522.1h0M258.6,1525.7h0M179.5,1547h0M189.5,1557.5h0M138.9,1514.7h0M152.5,1490.6h0M185.5,1483h0M214,1557h0M177.3,1475.9h0M155.8,1520.5h0M252.2,1532h0M175.3,1544.2h0M220.4,1505.9h0M224.6,1498.3h0M137.5,1506.8h0M176.3,1515.8h0M213.3,1489.3h0M259.2,1523.6h0M215.5,1541.4h0M175.6,1471.1h0M151.3,1476.6h0M243.6,1507.8h0M205,1526.3h0M207.3,1533.9h0M213.8,1497.5h0M229.2,1545.8h0M193,1491.7h0M202.8,1565.6h0M196.2,1533.7h0M238,1501.1h0M137.9,1516.6h0M207.3,1480.9h0M150.4,1480.5h0M218.6,1499h0M241.7,1512h0M174.8,1561.4h0M144.6,1542.4h0M138.6,1532.6h0M185.8,1557h0M137.8,1523.6h0M186.9,1563.1h0M261.9,1530.6h0M160.9,1488.8h0M166.2,1509h0M161.9,1483.3h0M235.9,1532.3h0M159.8,1524.2h0M234.8,1552.4h0M169.1,1497.6h0M197.5,1560h0M152.1,1536.8h0M213.2,1511.2h0M210.7,1559.1h0M180,1547.6h0M171.2,1463.4h0M150.6,1542.7h0M177.1,1563.1h0M229.9,1559h0M162.3,1549h0M200.2,1486.5h0M189.8,1472.4h0M173.8,1558.6h0M146.3,1515h0M148.5,1508.4h0M154.5,1537.1h0M150.2,1543h0M199.7,1473.2h0M179,1516h0M253.3,1542.2h0M167.7,1480.4h0M166.5,1468.4h0M135.5,1517.4h0M186.7,1522.7h0M180.3,1461.9h0M225.9,1533.5h0M205.7,1521.8h0M252,1540.7h0M185.4,1496.1h0M188.2,1569.1h0M183.7,1503.6h0M186.9,1476.6h0M214.7,1563.9h0M165.1,1528.8h0M182.3,1487.5h0M157.3,1473.6h0M247.7,1548.1h0M226.8,1496.8h0M220.1,1521.9h0M249.1,1517.5h0M162.3,1530.8h0M233.7,1502.9h0M229.3,1504.5h0M203.2,1529h0M224.4,1496.6h0M217.6,1521.2h0M160.7,1528.9h0M166.6,1562h0M195.8,1541.1h0M202.6,1513.8h0M160.5,1476.5h0M259.5,1519.6h0M202.9,1519.5h0M194,1532.1h0M182.9,1553.4h0M151,1488.7h0M143.9,1500.4h0M242.1,1518.8h0M192.9,1470.5h0M226.9,1510.8h0M196.5,1549.7h0M224.8,1501.6h0M202.5,1487.2h0M181.4,1498.6h0M182.9,1462.7h0M157.6,1524.3h0M230.1,1491.3h0M174.9,1487.6h0M218.6,1556.4h0M157.7,1507.8h0M240.5,1529.5h0M181.5,1465.6h0M191.5,1501.6h0M229.4,1493.6h0M186.6,1532.9h0M243.1,1499.9h0M183.5,1525.2h0M265.6,1540h0M181.7,1534.9h0M175.6,1468.6h0M235.5,1503h0M203.2,1516h0M255.8,1545.1h0M194.3,1512.2h0M247.2,1506.9h0M195.8,1559.9h0M191.1,1515.4h0M201.2,1552.6h0M223.4,1543.2h0M185.8,1465.2h0M224.8,1522.4h0M237.3,1546.5h0M146,1485.3h0M235.1,1523.6h0M229.1,1514.5h0M188,1525.8h0M176.3,1518.4h0M168,1489.9h0M173.3,1489.1h0M249.9,1522.6h0M201.1,1507.5h0M136.6,1494.6h0M251,1550.1h0M157.8,1466.5h0M204.7,1502.3h0M194.5,1515.2h0M211.3,1501.4h0M258.4,1522.7h0M136.6,1495.7h0M204.2,1506.3h0M208.7,1496.7h0M167.8,1549.4h0M170.3,1539.9h0M242,1526.7h0M193.2,1564.9h0M191.8,1558.5h0M137.5,1509h0M213.1,1480.8h0M258.8,1523.2h0M241.7,1516.2h0M223.9,1535.9h0M170.8,1484.2h0M187.6,1534.1h0M165.6,1561.6h0M170.6,1486.6h0M211.1,1496.2h0M208,1477.8h0M184.3,1464.3h0M182.7,1532.1h0M160.8,1521.5h0M142.6,1512.4h0M231.6,1508.6h0M261.2,1519.3h0M170.2,1499.5h0M234.7,1516h0M197.4,1557h0M213.3,1520.9h0M167.5,1560.2h0M213.4,1568.5h0M177.7,1565.9h0M176.2,1510.8h0M164.1,1543.4h0M154.5,1548.5h0M171.3,1468.4h0M206.8,1548.5h0M213,1512.1h0M134.2,1517.9h0M143.1,1532.8h0M147.9,1525.1h0M178.9,1502.4h0M175.9,1554.6h0M251.9,1514.2h0M199,1520.4h0M145.9,1512.8h0M152.4,1520.4h0M200.5,1501.6h0M157.2,1505.7h0M158,1474.8h0M163.1,1557.8h0M199.8,1559.9h0M197.9,1548.8h0M209.4,1537.5h0M161.6,1544.3h0M151,1490.1h0M133.8,1504.5h0M202.1,1493.2h0M210.6,1486.7h0M212.9,1548.1h0M163.9,1527.5h0M216.1,1537.8h0M243.1,1512.1h0M186.5,1470.5h0M163.8,1542.5h0M177.7,1476.3h0M157.2,1485.2h0M196.7,1516.1h0M234.8,1531.6h0M157.3,1530.4h0M248,1548.4h0M178.4,1478.8h0M264.9,1535.7h0M256.3,1543.7h0M246.2,1550.1h0M212.2,1509.2h0M245.1,1548.1h0M264.2,1519.9h0M164.8,1554.1h0M162,1482.7h0M193.6,1487.1h0M198.5,1561.9h0M225.5,1539.9h0M184.4,1548h0M240.7,1536.8h0M186.4,1470.4h0M220.9,1553.9h0M177.1,1527h0M246.7,1549.1h0M130.1,1515.2h0M243.4,1507.3h0M214.2,1511.7h0M176.5,1484.5h0M179,1554.8h0M216.3,1493.2h0M141.8,1490.9h0M227.8,1509.9h0M222.1,1550.6h0M146.4,1536.8h0M155.3,1490.9h0M215,1560.3h0M184.7,1516.4h0M263.5,1517.2h0M193.2,1550.9h0M164.6,1499.9h0M143.6,1522.3h0M250.3,1518h0M182.3,1564.2h0M254.8,1534.9h0M140.1,1530.2h0M191.7,1567.4h0M180.2,1534.4h0M218,1502.6h0M202.7,1536.1h0M256.6,1516.2h0M225.3,1522.8h0M192.2,1544.4h0M254.4,1541.9h0M175,1475.9h0M149.7,1526.2h0M184.4,1544h0M219.4,1492h0M205.8,1507.6h0M266.6,1533h0M242.3,1536.1h0M229,1537.7h0M168.3,1478.7h0M210.1,1552.7h0M240.7,1499.4h0M149.1,1518.2h0M173.2,1466.6h0M171.2,1503.4h0M155.7,1495.2h0M174.4,1509.5h0M144.6,1489.7h0M184.7,1503.6h0M192.6,1554h0M218.8,1547.5h0M173.6,1477.6h0M235.6,1513.1h0M207.8,1535.4h0M180.3,1562.9h0M203.7,1492.8h0M217.8,1489.6h0M245.4,1523.8h0M179,1565.4h0M166.7,1487.8h0M139.2,1521.8h0M235.1,1536.3h0M187.3,1550.7h0M145,1494.9h0M218.3,1537.8h0M238.1,1504.6h0M177.4,1504.4h0M242.4,1499.7h0M204,1518.8h0M223.3,1561.2h0M148.2,1498.4h0M138.7,1506.7h0M199.8,1555.6h0M223.1,1525.1h0M186,1524.6h0M167.8,1554.8h0M240,1554.1h0M150.6,1535.5h0M235.2,1516.5h0M233.6,1552.2h0M220.4,1558.6h0M147.8,1539.2h0M228.1,1528.9h0M168,1468.2h0M214,1552.5h0M167.7,1484.4h0M160.8,1471.1h0M241.9,1500.8h0M148.9,1491.3h0M137.7,1510.4h0M207.3,1550.7h0M144.9,1485.7h0M217.7,1498.6h0M175.9,1524h0M160,1549.1h0M158.7,1554.2h0M242.8,1520.5h0M133.4,1516.9h0M188.9,1467.7h0M217.8,1541.4h0M211.5,1505.3h0M201.2,1526.3h0M161.2,1557.4h0M196.4,1475.6h0M193.1,1536.8h0M228.8,1511.4h0M177.4,1481.8h0M185.9,1492.2h0M156.7,1542.7h0M201.8,1509.6h0M157.2,1539.1h0M157,1490.3h0M208,1538.8h0M230.8,1540.9h0M230.7,1530.9h0M166.4,1500.3h0M161.5,1544.7h0M182.1,1562h0M230.6,1533.3h0M160.4,1554.1h0M194.7,1567.9h0M195.2,1557h0M157.7,1510.9h0M204.6,1536.7h0M166.4,1520.1h0M222.8,1528.7h0M231.4,1558.3h0M166.9,1541.7h0M233.4,1554.7h0M193.8,1506.6h0M239.7,1538.4h0M151.5,1524.7h0M211.2,1561.1h0M196.1,1545.2h0M166,1519.6h0M241.5,1528.6h0M155,1542.1h0M157.4,1516.8h0M193.1,1541.7h0M212.5,1549.6h0M191.2,1508.2h0M194.6,1529.7h0M216.4,1550h0M169.7,1545.9h0M218.5,1534.3h0M168.5,1529.2h0M228.8,1557.1h0M212.2,1551.8h0M167.5,1547.3h0M244.2,1545.2h0M164,1556.1h0M161.4,1537h0M203.8,1557h0M198,1543.9h0M208,1555.6h0M202.7,1522.7h0M233.3,1556.3h0M193.2,1511.7h0M213.9,1517.2h0M190.1,1511h0M181.8,1509.9h0M222.6,1558.8h0M183.5,1523.4h0M218.5,1542.6h0M199.9,1533.3h0M187.8,1543.4h0M213.8,1563.1h0M222.9,1555.4h0M217.3,1558.8h0M190.3,1560.7h0M191.5,1549.5h0M171.1,1523.3h0M181.4,1524.8h0M154,1532.5h0M225,1521.6h0M170.8,1530.5h0M146.1,1518.8h0M179.3,1553.7h0M227.4,1561.4h0M229.5,1538.3h0M177.7,1544.4h0M183.4,1538.6h0M201.1,1545.9h0M201.9,1564.5h0M187.8,1563h0M153.5,1517.6h0M174.8,1562.5h0M145.3,1520.7h0M162.8,1532.2h0M217.9,1548.5h0M224.3,1552.6h0M170.6,1520.5h0M166.4,1520.6h0M247.8,1545.5h0M207.6,1546.3h0M208.3,1548.8h0M176.6,1508h0M182.8,1513h0M156,1535.8h0M173.3,1553.6h0M163,1510.3h0M176.5,1530.3h0M218.2,1532.6h0M236,1555.8h0M216.2,1521.8h0M214.9,1541.8h0M215.1,1515.5h0M159.3,1510.1h0M214.2,1540.7h0M167.9,1508h0M183,1550.6h0M171,1527.5h0M200.2,1511h0M170.6,1555.3h0M174.6,1528.5h0M226.3,1518.3h0M164.7,1518h0M185.3,1527.5h0M213,1534.4h0M215.4,1558h0M169.1,1505.7h0M191.1,1511.3h0M193.4,1549.9h0M195.5,1515.1h0M168.7,1532.3h0M182.8,1534.2h0M244.8,1539.7h0M151.5,1518.2h0M224.1,1540.2h0M245.6,1537.8h0M169.7,1514.9h0M152.8,1521h0M243.5,1533.7h0M192.7,1524.4h0M166,1546.7h0M182.8,1511.6h0M214.3,1537.1h0M223.7,1538.6h0M169.1,1536.1h0M209.1,1546h0M236.3,1527.6h0M168.3,1542.5h0M167.2,1506.1h0M191.2,1512.9h0M164.5,1552.3h0M206.7,1564.6h0M187.2,1547.8h0M169,1534.7h0M199,1565.2h0M210.8,1517.8h0M178.5,1530.2h0M180.8,1547.1h0M161.3,1557.4h0M171.6,1533.2h0M204.4,1549.9h0M158.7,1519.4h0M159.9,1512.7h0M200.1,1541.4h0M169.1,1514.7h0M207,1533.1h0M187.9,1561.3h0M215.2,1559.5h0M175.1,1522.5h0M189.1,1538.1h0M235.4,1556.1h0M214.3,1537h0M156.4,1519.6h0M214.8,1541.8h0M205.3,1515.6h0M218.5,1520.4h0M169.3,1527.5h0M200.3,1547.7h0M211.2,1534.3h0M216.3,1555.6h0M216.9,1549.7h0M213.7,1515.5h0M168.9,1531.7h0M187.9,1566.1h0M223.1,1527.1h0M215.4,1553.5h0M157.6,1518.2h0M167,1521h0M187.6,1531.1h0M245.5,1541.2h0M182.2,1549.4h0M191,1515.2h0M216.7,1514.2h0M183.7,1566.1h0M226.5,1557.9h0M213.1,1544.9h0M165,1553.4h0M176.3,1520.4h0M232.4,1542.7h0M207.3,1516.7h0M222.1,1521.5h0M162.5,1548.9h0M144.2,1518.7h0M172.4,1549.8h0M180,1537.6h0M178.4,1530.8h0M195.5,1520.6h0M161.3,1509.7h0M211.1,1548.9h0M172.2,1555.1h0M222.4,1525.9h0M196.9,1516h0M244,1540.1h0M218.5,1528.8h0M221.2,1518.7h0M229.8,1555.7h0M154,1541.8h0M164.5,1549.6h0M230.5,1555h0M168.8,1509.9h0M215.4,1540.4h0M158.7,1516.3h0M206.7,1510.8h0M212.2,1519.4h0M171.7,1531.2h0M201.3,1550.7h0M167.7,1522.6h0M212.8,1548.6h0M210.1,1562.2h0M165.9,1524h0M215.3,1520.7h0M160.8,1518.5h0M227,1557.3h0M229.5,1523.9h0M177.8,1550.5h0M199.2,1513.6h0M193.6,1516.6h0M156.7,1536.6h0M200,1527.3h0M221.1,1538.1h0M151.4,1528.9h0M196,1520.2h0M215.9,1518.2h0M178.1,1534.7h0M220.7,1553.7h0M183.9,1532.7h0M193,1545h0M173.9,1506.2h0M157.7,1534h0M210.6,1523.2h0M227,1532.1h0M153.1,1529.3h0M149.3,1522.5h0M161.5,1538.2h0M162.6,1553.3h0M189.7,1525.7h0M157.1,1519.5h0M171.8,1551.8h0M194.8,1565.7h0M209,1522.5h0M194,1550.2h0M180.4,1519.9h0M171.3,1534.2h0M236,1524.6h0M162.5,1552h0M180.7,1516h0M189,1557h0M236.9,1541h0M209.2,1562h0M235.3,1556.8h0M172.5,1527.5h0M184.2,1526.7h0M184.6,1511h0M168.3,1562.7h0M188.1,1545h0M239.5,1552.7h0M222.4,1552.7h0M231.5,1520.2h0M214.6,1528.5h0M202,1525.6h0M232.3,1526.2h0M216.8,1546h0M202.9,1533.3h0M180.4,1554.5h0M228.2,1560.1h0M166.9,1525.9h0M170.7,1510.3h0M179.1,1505.5h0M223.8,1516.7h0M193.7,1529.8h0M177.2,1544.7h0M240.3,1534.3h0M240.9,1551.3h0M177.4,1560.4h0M205.7,1510.7h0M207.2,1557.5h0M199.8,1535.1h0M188.7,1560.8h0M215.6,1517.3h0M182.9,1527.3h0M190.5,1550.3h0M190.1,1509.8h0M200.3,1556.9h0M228.9,1526.9h0M167.8,1552h0M190.6,1528.5h0M165.6,1523.4h0M179.3,1551.2h0M164,1539.2h0M197.8,1547.1h0M242,1539.5h0M225.7,1560h0M182.8,1563.6h0M198,1562h0M198.9,1564.2h0M204.2,1513.1h0M211.9,1555.8h0M189.5,1542.8h0M171.8,1521.7h0M189.2,1537h0M194.3,1509.8h0M221.1,1552.3h0M169.4,1520.4h0M199.6,1515.2h0M208.9,1562.3h0M165.6,1541.7h0M221.6,1552.3h0M220.6,1549.8h0M173.2,1558.1h0M229.8,1547.7h0M159.1,1533.6h0M180.1,1553.4h0M170.3,1516.7h0M161.2,1530.4h0M210.5,1523.4h0M161.3,1518h0M153,1516.3h0M177.9,1536.5h0M163.6,1534.9h0M191.3,1566.8h0M196.3,1565h0M194.7,1516.6h0M207.7,1513.2h0M162.1,1508.6h0M187.3,1526.7h0M189.7,1526.6h0M218.3,1529.2h0M235.5,1551h0M182.1,1544.6h0M190.5,1523.1h0M203.6,1546.7h0M159.5,1527.5h0M235.7,1555h0M207.5,1547.7h0M180.5,1565h0M203.1,1529.9h0M163.5,1511.3h0M146.7,1524.7h0M195.6,1535.9h0M183,1561.8h0M181.6,1538.2h0M244.1,1545.2h0M195.3,1525.3h0M185.6,1543.2h0M228.6,1520.7h0M183.8,1528.9h0M183,1562.9h0M202,1521.7h0M179.7,1557h0M161.1,1548.5h0M159.7,1518.6h0M150,1520.9h0M222.9,1550.4h0M203.2,1563.5h0M190.6,1516.3h0M224.5,1559.4h0M185.4,1509.9h0M238,1552.6h0M220.2,1544.6h0M155.9,1514.3h0M163.3,1543.3h0M190.7,1529.1h0M171.1,1518.9h0M220,1515.2h0M163.2,1513.7h0M181.7,1551.5h0M191.2,1555h0M205.9,1533h0M238.9,1542.7h0M180.2,1529.4h0M242.5,1540.1h0M159.2,1515.1h0M185.2,1548.5h0M228.6,1537.1h0M188.5,1547.1h0M205.3,1551h0M187.9,1565.9h0M210.2,1524.3h0M184.4,1521.2h0M228.8,1557h0M178.2,1552.8h0M172.1,1543.4h0M232,1428h0M246.8,1447.7h0M275.6,1405.7h0M289.8,1449.5h0M267.9,1425.6h0M268.5,1476.3h0M172.9,1456.3h0M267.2,1420.1h0M257,1428.3h0M222.6,1466.4h0M280.3,1490.5h0M229.6,1407.7h0M271.3,1411.1h0M270,1409.3h0M254.4,1441.1h0M163.2,1454.2h0M228.4,1453.1h0M266.7,1486.7h0M281.2,1407.9h0M186.3,1457.1h0M298.6,1453.7h0M276.9,1424.7h0M295.1,1471.7h0M253.5,1461.3h0M287.3,1449.8h0M279.9,1480.6h0M270.7,1422.4h0M241.9,1444.8h0M229.2,1456.2h0M198.6,1439.9h0M241.9,1491h0M247.2,1413.3h0M292,1440h0M240.9,1433h0M253.3,1465.2h0M253.9,1462.7h0M288.5,1479.1h0M212.6,1470.6h0M241.7,1419h0M234.8,1407.7h0M284.6,1479h0M261.5,1512.3h0M247.2,1499.1h0M236.1,1434.2h0M263.5,1401.1h0M213.2,1478h0M256.9,1413.2h0M267.8,1463.7h0M247.1,1496h0M182.4,1457.4h0M244.9,1464.9h0M220.5,1462.7h0M222,1423h0M272.5,1423.7h0M282.6,1423.6h0M172.2,1454.2h0M216.7,1435.8h0M273.7,1421.1h0M259.4,1500.4h0M226.6,1457.5h0M297.7,1470.5h0M222.2,1432.3h0M204.3,1434.3h0M295.6,1483.8h0M223,1413.8h0M286.2,1476.2h0M270.3,1485.1h0M235.3,1414.1h0M259.3,1448.4h0M258.1,1404.2h0M191.8,1443.9h0M208.8,1426.8h0M259.5,1421.2h0M218.7,1481.5h0M223.2,1412.5h0M232,1417.5h0M259.4,1456.5h0M280.3,1430.1h0M229.7,1410.6h0M231.2,1408.8h0M261.8,1482.6h0M279.1,1407h0M246.2,1485.9h0M288.8,1474.8h0M266.5,1407.3h0M215.7,1479.3h0M288.8,1468.5h0M304.6,1475.7h0M301.3,1465.6h0M187.9,1459.5h0M231.1,1436h0M214.6,1458.4h0M247,1421.2h0M200.1,1457.5h0M234.3,1446.6h0M258.5,1416.4h0M238.5,1428.1h0M274.5,1483.4h0M276.1,1459.3h0M235.3,1440.9h0M202.1,1444.4h0M265.2,1498.3h0M231.1,1487h0M190.4,1450.9h0M212.3,1432h0M268.9,1419.2h0M257.1,1479.9h0M254.1,1482.1h0M303.5,1460.3h0M279.7,1422h0M278.4,1487.8h0M231.8,1440.2h0M199,1455.4h0M265.7,1508.3h0M224.5,1446.9h0M287,1435.3h0M222.7,1417.3h0M274.9,1440.9h0M224.6,1443.8h0M248.1,1425.4h0M252.5,1416.7h0M250.5,1430.4h0M246.7,1466.7h0M207.3,1475.8h0M249.1,1458.4h0M205.2,1446.3h0M278.5,1497.3h0M275.7,1501.4h0M241,1442.5h0M279,1405.9h0M171.9,1452.1h0M213.9,1448.4h0M234.9,1429.8h0M264.2,1459.2h0M235.3,1456.3h0M212.2,1435.8h0M251,1465.3h0M238.5,1434.8h0M209.3,1446.4h0M258.2,1478.4h0M225.6,1444.9h0M260.2,1456.7h0M229.5,1417.9h0M263,1425.8h0M255.5,1410h0M250.8,1414.6h0M235.1,1433h0M241.4,1409.7h0M231.2,1472.2h0M260.7,1463.1h0M251.3,1493.3h0M244.5,1421.1h0M243.8,1489.8h0M213.2,1450.4h0M256.8,1406.1h0M268.2,1427h0M285.9,1415.3h0M283.2,1459.8h0M262.2,1461.3h0M288.4,1418.6h0M293.9,1436.2h0M252.5,1408h0M278.4,1428.7h0M268.8,1421.8h0M241.6,1471.6h0M288.4,1410.9h0M263.8,1452.4h0M276.9,1451.4h0M283.7,1424.4h0M263.2,1443.6h0M235.2,1457.2h0M270.7,1505.7h0M257.6,1444.9h0M237.4,1412.3h0M296.9,1453.4h0M234.7,1494.2h0M254.2,1454.8h0M215.1,1467.3h0M191.1,1449h0M241.6,1470.2h0M252.7,1408.6h0M275.6,1430.2h0M260.6,1497.9h0M224.1,1479.5h0M173.4,1445.7h0M235.2,1411.7h0M186.9,1453.8h0M239.4,1449.3h0M274.1,1466.1h0M239.4,1420.5h0M276.2,1432h0M268,1421.9h0M244.7,1476.3h0M214.3,1454.5h0M262.6,1412.2h0M241.4,1487.2h0M232.1,1424.8h0M203.5,1452.1h0M267.3,1407.1h0M263.5,1493.4h0M217.5,1432.8h0M235.5,1449.4h0M283.7,1454h0M185.1,1445h0M292.8,1445.1h0M258,1464.8h0M227.9,1466.8h0M195.2,1464.5h0M252.9,1474.2h0M285.5,1453.2h0M265.8,1486.6h0M257.4,1477.5h0M207.3,1469.7h0M259.4,1429.5h0M277.6,1431.9h0M240.6,1497h0M217.8,1457.3h0M237.1,1431.2h0M223.9,1421.9h0M255.8,1500.1h0M164.6,1450.5h0M290.2,1418.6h0M236.6,1447.4h0M194.2,1465h0M203.9,1468.2h0M177.3,1453.6h0M236.4,1410.1h0M282.2,1446.3h0M270.3,1405h0M300.8,1445.2h0M165.4,1327.6h0M167.2,1338.4h0M178,1320.4h0M178.7,1356.4h0M240.9,1335.6h0M230.1,1404.9h0M244.5,1388.8h0M305.6,1411.1h0M311,1410.3h0M318.2,1482.2h0M312.8,1496.6h0M307.4,1505.6h0M309.2,1502h0M203.1,1579.3h0M156.4,1450.6h0M276.9,1385.2h0" stroke="#c8161a" stroke-width="4" stroke-linecap="round" fill="none"/>
<path d="M154.6,1543.4C156.4,1540.4 167.2,1540.4 172.6,1541.6C178,1542.8 185.8,1547.3 187,1550.6C188.2,1553.9 184,1559.9 179.8,1561.3C175.6,1562.8 166,1562.5 161.8,1559.6C157.6,1556.6 152.8,1546.4 154.6,1543.4Z" fill="#c8161a" stroke="#c8161a" stroke-width="3.8" stroke-linecap="round" stroke-linejoin="round" stroke-dasharray="0 3" />
<path d="M215.7,1547C219.6,1545.2 232.8,1544 237.3,1545.2C241.8,1546.4 244.5,1551.5 242.7,1554.2C240.9,1556.9 231.3,1561 226.5,1561.3C221.7,1561.6 215.7,1558.4 213.9,1556C212.1,1553.6 211.8,1548.8 215.7,1547Z" fill="#c8161a" stroke="#c8161a" stroke-width="3.8" stroke-linecap="round" stroke-linejoin="round" stroke-dasharray="0 3" />
<path d="M280.4,1442.7C282.5,1441.8 293,1443 294.8,1444.5C296.6,1446 293.3,1450.8 291.2,1451.7C289.1,1452.6 284,1451.4 282.2,1449.9C280.4,1448.4 278.4,1443.6 280.4,1442.7Z" fill="#c8161a" stroke="#c8161a" stroke-width="3.8" stroke-linecap="round" stroke-linejoin="round" stroke-dasharray="0 3" />
<path d="M267.9,1476.9C270.9,1476 284.9,1477.2 287.6,1478.7C290.3,1480.1 287,1484.9 284,1485.8C281,1486.7 272.4,1485.5 269.7,1484C267,1482.5 264.9,1477.8 267.9,1476.9Z" fill="#c8161a" stroke="#c8161a" stroke-width="3.8" stroke-linecap="round" stroke-linejoin="round" stroke-dasharray="0 3" />
<path d="M213.2,1556.9h0M226.7,1526.2h0M230.5,1491.6h0M199.1,1481.5h0M190.7,1492.1h0M211.6,1494h0M168,1532.3h0M199,1486.2h0M145.6,1517.4h0M200.1,1540.9h0M181.9,1506.6h0M165.5,1551.4h0M215.2,1483.4h0M243,1522.9h0M154,1489.6h0M194.3,1540.2h0M142.9,1534.3h0M144.1,1513.7h0M220.5,1537.3h0M189,1502.4h0M227.1,1543.2h0M220.6,1505.5h0M209.3,1518.1h0M233.6,1540.4h0M239.9,1513.7h0M173.3,1501.7h0M241.5,1554.6h0M247.9,1535.3h0M153.3,1478h0M209.1,1484.3h0M176.6,1472.1h0M151.1,1540.6h0M160.8,1555.2h0M175.6,1555.3h0M171.9,1490.5h0M184.8,1462h0M190.5,1503h0M143.4,1539.8h0M211,1516.9h0M164,1492.6h0M243,1538.2h0M206.5,1551.3h0M151.1,1520.8h0M166.7,1505.2h0M156.3,1539.6h0M209.8,1547.5h0M217.5,1527.5h0M208.9,1497h0M143.8,1497.8h0M220,1534.5h0M191.9,1512.1h0M236,1496.1h0M144.8,1529.7h0M225.3,1560.2h0M198.6,1497.9h0M191.9,1549.1h0M140.1,1511.1h0M131.9,1514.3h0M187.2,1567h0M187.4,1555.4h0M238.8,1526h0M162.8,1494.7h0M198.4,1504.7h0M220,1517h0M174.7,1528.3h0M176.5,1462h0M188.7,1553.9h0M246.8,1526h0M183.2,1489.8h0M205.5,1502.5h0M198.4,1505.7h0M143.8,1542.2h0M241.7,1527.3h0M145.7,1527.5h0M252.6,1534.8h0M168.2,1563.2h0M164.1,1525h0M182.6,1493.7h0M236.2,1529.4h0M176,1521.2h0M259.6,1523.8h0M257.5,1523.8h0M193.9,1522.2h0M216.8,1514h0M218.4,1520.1h0M220.3,1549.9h0M162.8,1503.2h0M161.2,1539.2h0M203.6,1528.2h0M175.1,1526.1h0M201.8,1503.7h0M178,1550.2h0M154,1522.9h0M198.6,1565h0M185.1,1521.7h0M175.6,1478h0M148.2,1494.5h0M227.7,1525.4h0M200.6,1476.6h0M244.5,1552.2h0M236.9,1546.9h0M218.3,1553.5h0M173.4,1536.9h0M225.4,1555.3h0M208.9,1491.4h0M164.7,1521.2h0M227.2,1535.7h0M143.2,1492.1h0M237.6,1512.7h0M144.4,1499.6h0M142.2,1535.1h0M141.1,1488.2h0M222.5,1558h0M186.8,1510.8h0M163.4,1548.6h0M229.6,1548.1h0M204,1538.6h0M147.3,1503.6h0M170.5,1492.1h0M175.1,1492.2h0M250.6,1531.8h0M196.8,1503h0M192.5,1523.9h0M165.7,1472.2h0M199.8,1546.3h0M151.4,1508.9h0M183.1,1554.2h0M146.8,1531.6h0M222,1495h0M201.6,1492.7h0M192,1512.9h0M259.3,1514h0M258.6,1532h0M251.8,1506.7h0M248.3,1552h0M181.9,1553h0M159.4,1544.5h0M195.1,1506.5h0M157,1549.9h0M182.1,1506.9h0M210.3,1559.9h0M262,1531.3h0M180.7,1472.6h0M139.1,1518.5h0M211.2,1510.5h0M178.7,1507.3h0M212.3,1521.2h0M189.2,1488.5h0M173.7,1515.7h0M192,1569.8h0M208.4,1483.7h0M177.9,1547.9h0M238.9,1509.9h0M204.8,1520.1h0M223,1537.5h0M182.8,1563.1h0M138.8,1522.3h0M221.2,1485.7h0M135.6,1515h0M217.2,1491.8h0M191.9,1486.6h0M155.5,1480.9h0M243.8,1511.2h0M229.8,1499.4h0M242.6,1527.1h0M221.2,1504.4h0M208.2,1481.9h0M266,1535.6h0M204.1,1531.9h0M143.5,1498h0M161.8,1554.6h0M131.2,1510.2h0M251.2,1547.9h0M230.2,1494.3h0M162,1539.2h0M171.3,1541.3h0M178.5,1545.5h0M209.8,1551.6h0M205.9,1504h0M237.4,1495.8h0M158.6,1548.1h0M206.6,1544.9h0M165.8,1534.9h0M236.6,1531.6h0M191.6,1542.3h0M204.5,1527.3h0M173,1498.9h0M142.9,1499.5h0M231.7,1525.1h0M153.7,1542.2h0M145.8,1544.4h0M164.7,1518.1h0M167.3,1559.2h0M234.6,1538.2h0M208.1,1489.1h0M174.5,1482.8h0M189.8,1560.8h0M159.2,1473.7h0M180.9,1474h0M154.6,1488.5h0M210.5,1510.4h0M172.2,1519.3h0M238,1541.4h0M177.6,1563h0M240.4,1523.3h0M196.1,1497.4h0M162.8,1520.4h0M199.3,1534.8h0M156.4,1530.5h0M155.8,1539.9h0M203.5,1480.1h0M216.8,1556.6h0M147.2,1484.9h0M236.7,1513.1h0M185.2,1567.4h0M206,1565.6h0M238,1544.2h0M239.3,1541.3h0M173.9,1537h0M187,1544.4h0M183.3,1550.2h0M195.6,1551.2h0M171.7,1521.4h0M133,1515.2h0M224.4,1508.1h0M228.2,1541.8h0M212.9,1551.5h0M168,1463.9h0M158.9,1477h0M255.3,1534.8h0M187.4,1566.2h0M247.4,1542.2h0M198.6,1515.4h0M149.8,1517.8h0M252.3,1507.5h0M166.8,1487.3h0M193.9,1532.8h0M209.3,1559.9h0M201.2,1517.8h0M173.4,1474.5h0M188.1,1464.5h0M258.6,1514.7h0M252.7,1538.4h0M231.8,1545.2h0M171.7,1541.9h0M158.3,1522.5h0M212.9,1547.1h0M153,1499h0M245,1550.4h0M158.9,1472.6h0M230.9,1543.8h0M220.3,1547.6h0M201.8,1523.3h0M258.6,1532.9h0M221.4,1526.3h0M198.7,1545h0M189.2,1507.6h0M190.1,1523.2h0M180.2,1504.3h0M189.3,1502.1h0M217.9,1450.5h0M247.6,1439.9h0M201.4,1452.6h0M263.6,1495.5h0M229.1,1442.5h0M227.6,1411.1h0M258.7,1453.6h0M251.3,1405.3h0M247.1,1446.8h0M268.5,1408.1h0M192.8,1436.7h0M244.7,1434.4h0M249.7,1406.7h0M220.2,1473h0M254.6,1436.7h0M242.8,1414.5h0M204.4,1472.4h0M294.2,1459.1h0M208.4,1443.5h0M272.9,1444.6h0M229.9,1443.7h0M275.1,1509.3h0M237.5,1480.6h0M215.8,1427.5h0M227.8,1460.5h0M265.5,1448.4h0M241.3,1434.7h0M195.7,1430h0M200.5,1437.2h0M277.6,1494.4h0M263.6,1506.9h0M257,1407.1h0M197.2,1460.7h0M282.3,1468.2h0M223.1,1423.7h0M286.2,1407.5h0M256.8,1438.5h0M292.4,1430.8h0M255.3,1480.6h0M200.8,1427.6h0M253.3,1477.4h0M235.3,1415.6h0M235.8,1454h0M241.8,1486.5h0M293.2,1453h0M276.3,1409h0M262.3,1406.4h0M261.9,1495.1h0M257.7,1433.7h0M216.4,1463.7h0M241.6,1444.6h0M273.8,1461.7h0M277.1,1466.5h0M206.8,1445.1h0M239.5,1405.4h0M264.8,1495.3h0M278.4,1506.4h0M273.2,1482.1h0M214.3,1436.8h0M209.5,1433.9h0M235.7,1488.9h0M291.5,1438.1h0M262.9,1444.6h0M288.3,1490.7h0M242.1,1439.3h0M279.1,1431.9h0M280.5,1460.8h0M241.9,1462.2h0M220.2,1464.5h0M259.8,1475.3h0M280,1482h0M275.8,1412.1h0M238.4,1492.1h0M218.3,1454.4h0M276.4,1480.4h0M261.6,1450.7h0M243.2,1496.5h0M266,1455.7h0M286.5,1411.6h0M282.5,1440.6h0M206.8,1426.2h0M242.6,1449.9h0M204.8,1470.4h0M177.3,1447.1h0M238,1431.3h0M259.9,1465h0M248.4,1431.2h0M269.2,1481.6h0M266.1,1453.3h0M228.3,1429.4h0M164.3,1452.7h0M251.3,1416.4h0M231.9,1415.1h0M210.9,1469.7h0M207.9,1431.9h0M247.2,1499.2h0M242.9,1439h0M213.7,1467.7h0M256.7,1404.7h0M263.4,1437.5h0M238.6,1427.9h0M268.5,1479.1h0M285.5,1445.3h0M245,1411.3h0M297.4,1449.2h0M186.1,1445.6h0M247.5,1447.9h0M265.9,1409.4h0M272.1,1469.9h0M223.4,1423.1h0M263.1,1406.3h0M191.9,1449.2h0M205.9,1453.9h0M182.7,1444.4h0M264,1434.3h0M278.5,1416.2h0M259.4,1440.3h0M272.7,1453.5h0M229.6,1481.1h0M250.2,1447.2h0" stroke="#9c9897" stroke-width="4" stroke-linecap="round" fill="none"/>
<path d="M155.5,1512.4h0M206.5,1560.6h0M175.5,1485.5h0M217.8,1543h0M164.2,1537.6h0M220.9,1557.3h0M158,1499.2h0M172.4,1513.8h0M233.9,1531h0M259.8,1535.3h0M134.6,1508.8h0M133.2,1519.3h0M249.5,1506.8h0M216.4,1521.1h0M166.3,1547.6h0M174.4,1559h0M171.4,1528.6h0M238.7,1504.2h0M202.9,1507.6h0M232.6,1538.7h0M245.9,1535.7h0M217.9,1495.5h0M177.2,1499.6h0M145.1,1541.6h0M242.9,1548.7h0M247.6,1553.1h0M201.8,1486.8h0M237.6,1550h0M175,1498.7h0M190.4,1475h0M227.9,1518.6h0M237,1498.2h0M187.4,1543.6h0M228,1559.6h0M172.8,1555.2h0M232.8,1524.6h0M186.7,1523.9h0M173.1,1474.4h0M232,1529.3h0M158.3,1541.1h0M245.2,1529.7h0M161.3,1523.6h0M184.8,1490.7h0M218.1,1564.6h0M153.6,1490.1h0M171.8,1520.9h0M197,1562.1h0M210.4,1531.7h0M211.5,1548.2h0M160.6,1534h0M165.7,1503.3h0M165.9,1487.8h0M174.9,1506.9h0M179.9,1496.8h0M233,1515.6h0M255.7,1511.6h0M158.2,1552.1h0M199.7,1523.2h0M145.9,1496.3h0M216.1,1535.7h0M253.1,1472.6h0M281.9,1500.1h0M197.5,1466.7h0M259.9,1422.6h0M278.5,1416.2h0M254.9,1474.8h0M271.8,1419.5h0M238.9,1414.3h0M292.1,1477.3h0M247.5,1460.9h0M243.7,1470.2h0M238.2,1436.4h0M222.1,1462.3h0M274.4,1462.1h0M266.5,1475h0M273,1420.4h0M244.1,1449.3h0M232.1,1447.6h0M264.9,1486.2h0M279,1426.5h0M259.3,1456.5h0M300.2,1450.2h0M229.2,1461.3h0M231.3,1401.5h0M184.1,1449.8h0M210.8,1457.1h0M238.3,1442.6h0M200.7,1437.9h0M189.3,1440.1h0M218.5,1442.2h0M255.1,1469.3h0M283.3,1435.6h0M238.9,1467.7h0M214.6,1475.6h0M213.9,1428h0M199.1,1455.4h0M276.5,1484.6h0M278,1407.5h0M292.6,1438.6h0M281.2,1453.4h0" stroke="#fff" stroke-width="3" stroke-linecap="round" fill="none"/>
<path d="M73.7,1541V1625.3H155.9" fill="none" stroke="#44546a" stroke-width="4.2" stroke-linejoin="miter"/><path d="M73.7,1529L66.8,1545.4L73.7,1541.4L80.6,1545.4Z" fill="#44546a"/><path d="M167.9,1625.3L151.3,1618.7L155.5,1625.3L151.3,1631.9Z" fill="#44546a"/>
<text x="56.4" y="1630" font-size="28.2" textLength="96" lengthAdjust="spacingAndGlyphs" transform="rotate(-90 56.4 1630)">UMAP 2</text>
<text x="69.4" y="1660.2" font-size="26.2" textLength="92" lengthAdjust="spacingAndGlyphs">UMAP 1</text>
<circle cx="384.7" cy="1377.3" r="6.6" fill="#c8161a"/><circle cx="384.7" cy="1422.2" r="6.6" fill="#9c9897"/>
<text x="402" y="1385.2" font-size="26.8">IL-23R<tspan font-size="17" dy="-10">+</tspan><tspan dy="10">​</tspan></text>
<text x="402" y="1430.8" font-size="26.8">IL-23R<tspan font-size="17" dy="-10">−</tspan><tspan dy="10">​</tspan></text>
<path d="M648.8,1559.1H1522.4" stroke="#ebebeb" stroke-width="1.1"/><path d="M648.8,1379.4H1522.4" stroke="#ebebeb" stroke-width="1.1"/><path d="M648.8,1199.7H1522.4" stroke="#ebebeb" stroke-width="1.1"/><path d="M648.8,1648.9H1522.4" stroke="#ebebeb" stroke-width="2.2"/><path d="M648.8,1469.2H1522.4" stroke="#ebebeb" stroke-width="2.2"/><path d="M648.8,1289.5H1522.4" stroke="#ebebeb" stroke-width="2.2"/><path d="M683.5,1166.4V1731.0" stroke="#ebebeb" stroke-width="2.2"/><path d="M740.9,1166.4V1731.0" stroke="#ebebeb" stroke-width="2.2"/><path d="M798.4,1166.4V1731.0" stroke="#ebebeb" stroke-width="2.2"/><path d="M855.8,1166.4V1731.0" stroke="#ebebeb" stroke-width="2.2"/><path d="M913.3,1166.4V1731.0" stroke="#ebebeb" stroke-width="2.2"/><path d="M970.7,1166.4V1731.0" stroke="#ebebeb" stroke-width="2.2"/><path d="M1028.1,1166.4V1731.0" stroke="#ebebeb" stroke-width="2.2"/><path d="M1085.6,1166.4V1731.0" stroke="#ebebeb" stroke-width="2.2"/><path d="M1143,1166.4V1731.0" stroke="#ebebeb" stroke-width="2.2"/><path d="M1200.5,1166.4V1731.0" stroke="#ebebeb" stroke-width="2.2"/><path d="M1257.9,1166.4V1731.0" stroke="#ebebeb" stroke-width="2.2"/><path d="M1315.3,1166.4V1731.0" stroke="#ebebeb" stroke-width="2.2"/><path d="M1372.8,1166.4V1731.0" stroke="#ebebeb" stroke-width="2.2"/><path d="M1430.2,1166.4V1731.0" stroke="#ebebeb" stroke-width="2.2"/><path d="M1487.7,1166.4V1731.0" stroke="#ebebeb" stroke-width="2.2"/>
<path d="M672.5,1610.8V1618.5M672.5,1644.5V1661.3" stroke="#000" stroke-width="1.9" fill="none"/><rect x="662.1" y="1618.5" width="20.8" height="26" fill="#ff0000" stroke="#000" stroke-width="1.9"/><path d="M662.1,1631H682.9" stroke="#000" stroke-width="1.9"/><circle cx="669.6" cy="1610.8" r="1.6" fill="#000"/><circle cx="673" cy="1661.3" r="1.6" fill="#000"/><circle cx="671.1" cy="1623.8" r="1.6" fill="#000"/><circle cx="673.6" cy="1638.7" r="1.6" fill="#000"/><circle cx="673.9" cy="1622.4" r="1.6" fill="#000"/><circle cx="667.7" cy="1641.9" r="1.6" fill="#000"/>
<path d="M694.5,1642.8V1652.2M694.5,1665.4V1667.1" stroke="#4d4d4d" stroke-width="1.9" fill="none"/><rect x="684.1" y="1652.2" width="20.8" height="13.1" fill="#fff" stroke="#4d4d4d" stroke-width="1.9"/><path d="M684.1,1658H704.9" stroke="#4d4d4d" stroke-width="1.9"/><circle cx="689.1" cy="1642.8" r="1.6" fill="#3a3a3a"/><circle cx="698.2" cy="1667.1" r="1.6" fill="#3a3a3a"/><circle cx="691.9" cy="1654.1" r="1.6" fill="#3a3a3a"/><circle cx="691.6" cy="1662.7" r="1.6" fill="#3a3a3a"/><circle cx="700" cy="1654.2" r="1.6" fill="#3a3a3a"/><circle cx="694.2" cy="1664.1" r="1.6" fill="#3a3a3a"/>
<path d="M729.9,1552.5V1583.8M729.9,1610.8V1625.9" stroke="#000" stroke-width="1.9" fill="none"/><rect x="719.5" y="1583.8" width="20.8" height="27" fill="#ff0000" stroke="#000" stroke-width="1.9"/><path d="M719.5,1594.6H740.3" stroke="#000" stroke-width="1.9"/><circle cx="733.6" cy="1552.5" r="1.6" fill="#000"/><circle cx="729.7" cy="1625.9" r="1.6" fill="#000"/><circle cx="731.5" cy="1588.2" r="1.6" fill="#000"/><circle cx="726.1" cy="1603.7" r="1.6" fill="#000"/><circle cx="731.4" cy="1587.9" r="1.6" fill="#000"/><circle cx="734" cy="1608.1" r="1.6" fill="#000"/>
<path d="M751.9,1636.7V1639.4M751.9,1656.3V1659" stroke="#4d4d4d" stroke-width="1.9" fill="none"/><rect x="741.5" y="1639.4" width="20.8" height="16.9" fill="#fff" stroke="#4d4d4d" stroke-width="1.9"/><path d="M741.5,1647.9H762.3" stroke="#4d4d4d" stroke-width="1.9"/><circle cx="752.2" cy="1636.7" r="1.6" fill="#3a3a3a"/><circle cx="754.6" cy="1659" r="1.6" fill="#3a3a3a"/><circle cx="753.8" cy="1642.6" r="1.6" fill="#3a3a3a"/><circle cx="747.1" cy="1653.1" r="1.6" fill="#3a3a3a"/><circle cx="754.8" cy="1642" r="1.6" fill="#3a3a3a"/><circle cx="752.9" cy="1654.6" r="1.6" fill="#3a3a3a"/>
<path d="M787.4,1618.5V1633.4M787.4,1658V1666.4" stroke="#000" stroke-width="1.9" fill="none"/><rect x="777" y="1633.4" width="20.8" height="24.6" fill="#ff0000" stroke="#000" stroke-width="1.9"/><path d="M777,1637.7H797.8" stroke="#000" stroke-width="1.9"/><circle cx="785.2" cy="1618.5" r="1.6" fill="#000"/><circle cx="782.2" cy="1666.4" r="1.6" fill="#000"/><circle cx="791.4" cy="1634.6" r="1.6" fill="#000"/><circle cx="787.1" cy="1648.9" r="1.6" fill="#000"/><circle cx="789.8" cy="1637.1" r="1.6" fill="#000"/><circle cx="791.5" cy="1655.5" r="1.6" fill="#000"/>
<path d="M809.4,1667.1V1675.8M809.4,1683.9V1691" stroke="#4d4d4d" stroke-width="1.9" fill="none"/><rect x="799" y="1675.8" width="20.8" height="8.1" fill="#fff" stroke="#4d4d4d" stroke-width="1.9"/><path d="M799,1679.9H819.8" stroke="#4d4d4d" stroke-width="1.9"/><circle cx="811.7" cy="1667.1" r="1.6" fill="#3a3a3a"/><circle cx="814" cy="1691" r="1.6" fill="#3a3a3a"/><circle cx="808.2" cy="1676.9" r="1.6" fill="#3a3a3a"/><circle cx="812.7" cy="1682.9" r="1.6" fill="#3a3a3a"/><circle cx="808.8" cy="1677" r="1.6" fill="#3a3a3a"/><circle cx="814.2" cy="1683.1" r="1.6" fill="#3a3a3a"/>
<path d="M844.8,1592.9V1596.3M844.8,1621.9V1624.3" stroke="#000" stroke-width="1.9" fill="none"/><rect x="834.4" y="1596.3" width="20.8" height="25.6" fill="#ff0000" stroke="#000" stroke-width="1.9"/><path d="M834.4,1613.5H855.2" stroke="#000" stroke-width="1.9"/><circle cx="844.8" cy="1519.4" r="3.6" fill="#222" stroke="#9a9a9a" stroke-width="1"/><circle cx="849" cy="1592.9" r="1.6" fill="#000"/><circle cx="840.4" cy="1624.3" r="1.6" fill="#000"/><circle cx="840.8" cy="1603.9" r="1.6" fill="#000"/><circle cx="841.7" cy="1618.7" r="1.6" fill="#000"/><circle cx="849.9" cy="1600.1" r="1.6" fill="#000"/><circle cx="844.1" cy="1619.3" r="1.6" fill="#000"/>
<path d="M866.8,1653.6V1655.6M866.8,1664.7V1669.1" stroke="#4d4d4d" stroke-width="1.9" fill="none"/><rect x="856.4" y="1655.6" width="20.8" height="9.1" fill="#fff" stroke="#4d4d4d" stroke-width="1.9"/><path d="M856.4,1660.3H877.2" stroke="#4d4d4d" stroke-width="1.9"/><circle cx="866.8" cy="1608.4" r="3.6" fill="#8a8a8a" stroke="#9a9a9a" stroke-width="1"/><circle cx="868.2" cy="1653.6" r="1.6" fill="#3a3a3a"/><circle cx="864.6" cy="1669.1" r="1.6" fill="#3a3a3a"/><circle cx="866.9" cy="1657" r="1.6" fill="#3a3a3a"/><circle cx="865.6" cy="1663.5" r="1.6" fill="#3a3a3a"/><circle cx="865.2" cy="1657" r="1.6" fill="#3a3a3a"/><circle cx="867.8" cy="1663.8" r="1.6" fill="#3a3a3a"/>
<path d="M902.3,1204.6V1207.6M902.3,1225.8V1233.3" stroke="#000" stroke-width="1.9" fill="none"/><rect x="891.9" y="1207.6" width="20.8" height="18.2" fill="#ff0000" stroke="#000" stroke-width="1.9"/><path d="M891.9,1216.4H912.7" stroke="#000" stroke-width="1.9"/><circle cx="903.2" cy="1204.6" r="1.6" fill="#000"/><circle cx="906.7" cy="1233.3" r="1.6" fill="#000"/><circle cx="904.3" cy="1211" r="1.6" fill="#000"/><circle cx="907" cy="1222.1" r="1.6" fill="#000"/><circle cx="906.2" cy="1210.4" r="1.6" fill="#000"/><circle cx="907.7" cy="1224" r="1.6" fill="#000"/>
<path d="M924.3,1390V1401.1M924.3,1468.5V1474.3" stroke="#4d4d4d" stroke-width="1.9" fill="none"/><rect x="913.9" y="1401.1" width="20.8" height="67.4" fill="#fff" stroke="#4d4d4d" stroke-width="1.9"/><path d="M913.9,1437.2H934.7" stroke="#4d4d4d" stroke-width="1.9"/><circle cx="926.1" cy="1390" r="1.6" fill="#3a3a3a"/><circle cx="920.6" cy="1474.3" r="1.6" fill="#3a3a3a"/><circle cx="928.2" cy="1418.2" r="1.6" fill="#3a3a3a"/><circle cx="929.4" cy="1453.9" r="1.6" fill="#3a3a3a"/><circle cx="928.7" cy="1411.2" r="1.6" fill="#3a3a3a"/><circle cx="925" cy="1461.8" r="1.6" fill="#3a3a3a"/>
<path d="M959.7,1575.4V1616.8M959.7,1655.3V1674.8" stroke="#000" stroke-width="1.9" fill="none"/><rect x="949.3" y="1616.8" width="20.8" height="38.4" fill="#ff0000" stroke="#000" stroke-width="1.9"/><path d="M949.3,1641.1H970.1" stroke="#000" stroke-width="1.9"/><circle cx="962.1" cy="1575.4" r="1.6" fill="#000"/><circle cx="956.5" cy="1674.8" r="1.6" fill="#000"/><circle cx="963.3" cy="1628" r="1.6" fill="#000"/><circle cx="960.5" cy="1649.2" r="1.6" fill="#000"/><circle cx="957.3" cy="1622.6" r="1.6" fill="#000"/><circle cx="954.9" cy="1651.4" r="1.6" fill="#000"/>
<path d="M981.7,1552.5V1600M981.7,1662.4V1693.4" stroke="#4d4d4d" stroke-width="1.9" fill="none"/><rect x="971.3" y="1600" width="20.8" height="62.4" fill="#fff" stroke="#4d4d4d" stroke-width="1.9"/><path d="M971.3,1635.4H992.1" stroke="#4d4d4d" stroke-width="1.9"/><circle cx="985.6" cy="1552.5" r="1.6" fill="#3a3a3a"/><circle cx="987.1" cy="1693.4" r="1.6" fill="#3a3a3a"/><circle cx="977.2" cy="1616.7" r="1.6" fill="#3a3a3a"/><circle cx="985" cy="1649.9" r="1.6" fill="#3a3a3a"/><circle cx="980.7" cy="1609.3" r="1.6" fill="#3a3a3a"/><circle cx="977.9" cy="1656.1" r="1.6" fill="#3a3a3a"/>
<path d="M1017.1,1669.8V1673.8M1017.1,1687.3V1703.5" stroke="#000" stroke-width="1.9" fill="none"/><rect x="1006.7" y="1673.8" width="20.8" height="13.5" fill="#ff0000" stroke="#000" stroke-width="1.9"/><path d="M1006.7,1679.9H1027.5" stroke="#000" stroke-width="1.9"/><circle cx="1014.9" cy="1669.8" r="1.6" fill="#000"/><circle cx="1020.1" cy="1703.5" r="1.6" fill="#000"/><circle cx="1021.2" cy="1675.8" r="1.6" fill="#000"/><circle cx="1012.1" cy="1684.6" r="1.6" fill="#000"/><circle cx="1018.4" cy="1675.8" r="1.6" fill="#000"/><circle cx="1012.1" cy="1685.9" r="1.6" fill="#000"/>
<path d="M1039.1,1681.6V1689.3M1039.1,1698.8V1706.2" stroke="#4d4d4d" stroke-width="1.9" fill="none"/><rect x="1028.7" y="1689.3" width="20.8" height="9.4" fill="#fff" stroke="#4d4d4d" stroke-width="1.9"/><path d="M1028.7,1694.4H1049.5" stroke="#4d4d4d" stroke-width="1.9"/><circle cx="1041.5" cy="1681.6" r="1.6" fill="#3a3a3a"/><circle cx="1037.3" cy="1706.2" r="1.6" fill="#3a3a3a"/><circle cx="1043.3" cy="1690.8" r="1.6" fill="#3a3a3a"/><circle cx="1044.4" cy="1697.6" r="1.6" fill="#3a3a3a"/><circle cx="1039.2" cy="1690.7" r="1.6" fill="#3a3a3a"/><circle cx="1044.6" cy="1697.8" r="1.6" fill="#3a3a3a"/>
<path d="M1074.6,1356.3V1520.8M1074.6,1647.9V1653.6" stroke="#000" stroke-width="1.9" fill="none"/><rect x="1064.2" y="1520.8" width="20.8" height="127.1" fill="#ff0000" stroke="#000" stroke-width="1.9"/><path d="M1064.2,1578.1H1085" stroke="#000" stroke-width="1.9"/><circle cx="1072.5" cy="1356.3" r="1.6" fill="#000"/><circle cx="1069.9" cy="1653.6" r="1.6" fill="#000"/><circle cx="1075.7" cy="1548.4" r="1.6" fill="#000"/><circle cx="1069.4" cy="1614" r="1.6" fill="#000"/><circle cx="1071.3" cy="1539.8" r="1.6" fill="#000"/><circle cx="1073.6" cy="1635.2" r="1.6" fill="#000"/>
<path d="M1096.6,1645.6V1654.3M1096.6,1678.6V1685.6" stroke="#4d4d4d" stroke-width="1.9" fill="none"/><rect x="1086.2" y="1654.3" width="20.8" height="24.4" fill="#fff" stroke="#4d4d4d" stroke-width="1.9"/><path d="M1086.2,1664H1107" stroke="#4d4d4d" stroke-width="1.9"/><circle cx="1097.8" cy="1645.6" r="1.6" fill="#3a3a3a"/><circle cx="1092.8" cy="1685.6" r="1.6" fill="#3a3a3a"/><circle cx="1091.5" cy="1658.1" r="1.6" fill="#3a3a3a"/><circle cx="1100.6" cy="1672.3" r="1.6" fill="#3a3a3a"/><circle cx="1094.5" cy="1657.9" r="1.6" fill="#3a3a3a"/><circle cx="1101.6" cy="1676.2" r="1.6" fill="#3a3a3a"/>
<path d="M1132,1340.8V1369.7M1132,1431.3V1445.3" stroke="#000" stroke-width="1.9" fill="none"/><rect x="1121.6" y="1369.7" width="20.8" height="61.7" fill="#ff0000" stroke="#000" stroke-width="1.9"/><path d="M1121.6,1404.5H1142.4" stroke="#000" stroke-width="1.9"/><circle cx="1136.4" cy="1340.8" r="1.6" fill="#000"/><circle cx="1130.7" cy="1445.3" r="1.6" fill="#000"/><circle cx="1131.6" cy="1386.1" r="1.6" fill="#000"/><circle cx="1132.2" cy="1418.9" r="1.6" fill="#000"/><circle cx="1133.6" cy="1378.9" r="1.6" fill="#000"/><circle cx="1133.1" cy="1425.2" r="1.6" fill="#000"/>
<path d="M1154,1453.3V1505.2M1154,1542.1V1549.1" stroke="#4d4d4d" stroke-width="1.9" fill="none"/><rect x="1143.6" y="1505.2" width="20.8" height="36.9" fill="#fff" stroke="#4d4d4d" stroke-width="1.9"/><path d="M1143.6,1523H1164.4" stroke="#4d4d4d" stroke-width="1.9"/><circle cx="1154.7" cy="1453.3" r="1.6" fill="#3a3a3a"/><circle cx="1155.3" cy="1549.1" r="1.6" fill="#3a3a3a"/><circle cx="1158.9" cy="1513.1" r="1.6" fill="#3a3a3a"/><circle cx="1154.1" cy="1533.5" r="1.6" fill="#3a3a3a"/><circle cx="1153.3" cy="1510.7" r="1.6" fill="#3a3a3a"/><circle cx="1156.4" cy="1538.4" r="1.6" fill="#3a3a3a"/>
<path d="M1189.5,1192.8V1208.8M1189.5,1279.8V1327.9" stroke="#000" stroke-width="1.9" fill="none"/><rect x="1179.1" y="1208.8" width="20.8" height="71.1" fill="#ff0000" stroke="#000" stroke-width="1.9"/><path d="M1179.1,1257.2H1199.9" stroke="#000" stroke-width="1.9"/><circle cx="1186.6" cy="1192.8" r="1.6" fill="#000"/><circle cx="1187.3" cy="1327.9" r="1.6" fill="#000"/><circle cx="1194.7" cy="1232" r="1.6" fill="#000"/><circle cx="1189.7" cy="1269.5" r="1.6" fill="#000"/><circle cx="1190" cy="1219.4" r="1.6" fill="#000"/><circle cx="1184.1" cy="1272.7" r="1.6" fill="#000"/>
<path d="M1211.5,1330.3V1350.2M1211.5,1366.9V1367.6" stroke="#4d4d4d" stroke-width="1.9" fill="none"/><rect x="1201.1" y="1350.2" width="20.8" height="16.7" fill="#fff" stroke="#4d4d4d" stroke-width="1.9"/><path d="M1201.1,1358.9H1221.9" stroke="#4d4d4d" stroke-width="1.9"/><circle cx="1211.5" cy="1395.8" r="3.6" fill="#8a8a8a" stroke="#9a9a9a" stroke-width="1"/><circle cx="1210.5" cy="1330.3" r="1.6" fill="#3a3a3a"/><circle cx="1212.3" cy="1367.6" r="1.6" fill="#3a3a3a"/><circle cx="1206.2" cy="1353.5" r="1.6" fill="#3a3a3a"/><circle cx="1212.7" cy="1363.9" r="1.6" fill="#3a3a3a"/><circle cx="1212.9" cy="1352.7" r="1.6" fill="#3a3a3a"/><circle cx="1206.6" cy="1365.2" r="1.6" fill="#3a3a3a"/>
<path d="M1246.9,1365.9V1389.5M1246.9,1434.8V1448.1" stroke="#000" stroke-width="1.9" fill="none"/><rect x="1236.5" y="1389.5" width="20.8" height="45.3" fill="#ff0000" stroke="#000" stroke-width="1.9"/><path d="M1236.5,1403.5H1257.3" stroke="#000" stroke-width="1.9"/><circle cx="1248.3" cy="1365.9" r="1.6" fill="#000"/><circle cx="1246.5" cy="1448.1" r="1.6" fill="#000"/><circle cx="1248.9" cy="1395.5" r="1.6" fill="#000"/><circle cx="1245.3" cy="1420.2" r="1.6" fill="#000"/><circle cx="1249.2" cy="1396.3" r="1.6" fill="#000"/><circle cx="1249.5" cy="1430.3" r="1.6" fill="#000"/>
<path d="M1268.9,1511.5V1534.1M1268.9,1572.4V1581.1" stroke="#4d4d4d" stroke-width="1.9" fill="none"/><rect x="1258.5" y="1534.1" width="20.8" height="38.3" fill="#fff" stroke="#4d4d4d" stroke-width="1.9"/><path d="M1258.5,1562.7H1279.3" stroke="#4d4d4d" stroke-width="1.9"/><circle cx="1263.6" cy="1511.5" r="1.6" fill="#3a3a3a"/><circle cx="1264.1" cy="1581.1" r="1.6" fill="#3a3a3a"/><circle cx="1270.8" cy="1547.4" r="1.6" fill="#3a3a3a"/><circle cx="1274" cy="1568.5" r="1.6" fill="#3a3a3a"/><circle cx="1266.2" cy="1539.8" r="1.6" fill="#3a3a3a"/><circle cx="1268.4" cy="1568.6" r="1.6" fill="#3a3a3a"/>
<path d="M1304.3,1335.6V1365.9M1304.3,1403.5V1418.1" stroke="#000" stroke-width="1.9" fill="none"/><rect x="1293.9" y="1365.9" width="20.8" height="37.6" fill="#ff0000" stroke="#000" stroke-width="1.9"/><path d="M1293.9,1392.3H1314.7" stroke="#000" stroke-width="1.9"/><circle cx="1305.4" cy="1335.6" r="1.6" fill="#000"/><circle cx="1302.4" cy="1418.1" r="1.6" fill="#000"/><circle cx="1302.8" cy="1378.1" r="1.6" fill="#000"/><circle cx="1302.3" cy="1398.9" r="1.6" fill="#000"/><circle cx="1302.9" cy="1371.5" r="1.6" fill="#000"/><circle cx="1305.4" cy="1399.7" r="1.6" fill="#000"/>
<path d="M1326.3,1433.1V1456.4M1326.3,1498.9V1505.2" stroke="#4d4d4d" stroke-width="1.9" fill="none"/><rect x="1315.9" y="1456.4" width="20.8" height="42.5" fill="#fff" stroke="#4d4d4d" stroke-width="1.9"/><path d="M1315.9,1484.6H1336.7" stroke="#4d4d4d" stroke-width="1.9"/><circle cx="1324.1" cy="1433.1" r="1.6" fill="#3a3a3a"/><circle cx="1325" cy="1505.2" r="1.6" fill="#3a3a3a"/><circle cx="1329.3" cy="1469.5" r="1.6" fill="#3a3a3a"/><circle cx="1321.1" cy="1492.8" r="1.6" fill="#3a3a3a"/><circle cx="1327.1" cy="1462.8" r="1.6" fill="#3a3a3a"/><circle cx="1328.9" cy="1494.7" r="1.6" fill="#3a3a3a"/>
<path d="M1361.8,1535.1V1562M1361.8,1602V1628.1" stroke="#000" stroke-width="1.9" fill="none"/><rect x="1351.4" y="1562" width="20.8" height="40.1" fill="#ff0000" stroke="#000" stroke-width="1.9"/><path d="M1351.4,1578.7H1372.2" stroke="#000" stroke-width="1.9"/><circle cx="1359.7" cy="1535.1" r="1.6" fill="#000"/><circle cx="1358.7" cy="1628.1" r="1.6" fill="#000"/><circle cx="1365.1" cy="1569.3" r="1.6" fill="#000"/><circle cx="1358.9" cy="1591.3" r="1.6" fill="#000"/><circle cx="1358.3" cy="1568" r="1.6" fill="#000"/><circle cx="1361.1" cy="1598" r="1.6" fill="#000"/>
<path d="M1383.8,1635.1V1637.2M1383.8,1647.6V1654.3" stroke="#4d4d4d" stroke-width="1.9" fill="none"/><rect x="1373.4" y="1637.2" width="20.8" height="10.4" fill="#fff" stroke="#4d4d4d" stroke-width="1.9"/><path d="M1373.4,1642.4H1394.2" stroke="#4d4d4d" stroke-width="1.9"/><circle cx="1383.8" cy="1609" r="3.6" fill="#8a8a8a" stroke="#9a9a9a" stroke-width="1"/><circle cx="1386" cy="1635.1" r="1.6" fill="#3a3a3a"/><circle cx="1379.4" cy="1654.3" r="1.6" fill="#3a3a3a"/><circle cx="1381.8" cy="1638.8" r="1.6" fill="#3a3a3a"/><circle cx="1382" cy="1646" r="1.6" fill="#3a3a3a"/><circle cx="1387.4" cy="1638.8" r="1.6" fill="#3a3a3a"/><circle cx="1383.1" cy="1646.6" r="1.6" fill="#3a3a3a"/>
<path d="M1419.2,1339.4V1341.1M1419.2,1383.3V1394.1" stroke="#000" stroke-width="1.9" fill="none"/><rect x="1408.8" y="1341.1" width="20.8" height="42.1" fill="#ff0000" stroke="#000" stroke-width="1.9"/><path d="M1408.8,1359.2H1429.6" stroke="#000" stroke-width="1.9"/><circle cx="1423.1" cy="1339.4" r="1.6" fill="#000"/><circle cx="1415.6" cy="1394.1" r="1.6" fill="#000"/><circle cx="1417.4" cy="1349.2" r="1.6" fill="#000"/><circle cx="1420.9" cy="1372.3" r="1.6" fill="#000"/><circle cx="1423.5" cy="1347.5" r="1.6" fill="#000"/><circle cx="1418.7" cy="1379.1" r="1.6" fill="#000"/>
<path d="M1441.2,1493V1500.3M1441.2,1516.3V1519.1" stroke="#4d4d4d" stroke-width="1.9" fill="none"/><rect x="1430.8" y="1500.3" width="20.8" height="16" fill="#fff" stroke="#4d4d4d" stroke-width="1.9"/><path d="M1430.8,1506.9H1451.6" stroke="#4d4d4d" stroke-width="1.9"/><circle cx="1438.2" cy="1493" r="1.6" fill="#3a3a3a"/><circle cx="1437.1" cy="1519.1" r="1.6" fill="#3a3a3a"/><circle cx="1441.5" cy="1502.6" r="1.6" fill="#3a3a3a"/><circle cx="1437.8" cy="1512.6" r="1.6" fill="#3a3a3a"/><circle cx="1444.6" cy="1502.7" r="1.6" fill="#3a3a3a"/><circle cx="1444.9" cy="1514.7" r="1.6" fill="#3a3a3a"/>
<path d="M1476.7,1621.2V1622.2M1476.7,1629.2V1631.6" stroke="#000" stroke-width="1.9" fill="none"/><rect x="1466.3" y="1622.2" width="20.8" height="7" fill="#ff0000" stroke="#000" stroke-width="1.9"/><path d="M1466.3,1625.4H1487.1" stroke="#000" stroke-width="1.9"/><circle cx="1476.7" cy="1595.1" r="3.6" fill="#222" stroke="#9a9a9a" stroke-width="1"/><circle cx="1473.2" cy="1621.2" r="1.6" fill="#000"/><circle cx="1474.2" cy="1631.6" r="1.6" fill="#000"/><circle cx="1480" cy="1622.8" r="1.6" fill="#000"/><circle cx="1478.2" cy="1628.3" r="1.6" fill="#000"/><circle cx="1480" cy="1623.3" r="1.6" fill="#000"/><circle cx="1475" cy="1628.5" r="1.6" fill="#000"/>
<path d="M1498.7,1672.4V1674.1M1498.7,1680.4V1689.8" stroke="#4d4d4d" stroke-width="1.9" fill="none"/><rect x="1488.3" y="1674.1" width="20.8" height="6.3" fill="#fff" stroke="#4d4d4d" stroke-width="1.9"/><path d="M1488.3,1677.3H1509.1" stroke="#4d4d4d" stroke-width="1.9"/><circle cx="1498.7" cy="1637.9" r="3.6" fill="#8a8a8a" stroke="#9a9a9a" stroke-width="1"/><circle cx="1494.6" cy="1672.4" r="1.6" fill="#3a3a3a"/><circle cx="1496.4" cy="1689.8" r="1.6" fill="#3a3a3a"/><circle cx="1501.9" cy="1674.7" r="1.6" fill="#3a3a3a"/><circle cx="1496.1" cy="1679.8" r="1.6" fill="#3a3a3a"/><circle cx="1497" cy="1675.1" r="1.6" fill="#3a3a3a"/><circle cx="1497.7" cy="1679.8" r="1.6" fill="#3a3a3a"/>
<rect x="648.8" y="1120.3" width="873.6" height="610.7" fill="none" stroke="#333" stroke-width="1.5"/>
<path d="M648.8,1166.4H1522.4" stroke="#333" stroke-width="2.6"/>
<text x="915.6" y="1151.3" font-size="26.7" textLength="340" lengthAdjust="spacingAndGlyphs">Tumor-infiltrating T<tspan font-size="17.5" dy="8">reg</tspan><tspan dy="-8">​</tspan> cells</text>
<path d="M683.5,1731.0v10.5M740.9,1731.0v10.5M798.4,1731.0v10.5M855.8,1731.0v10.5M913.3,1731.0v10.5M970.7,1731.0v10.5M1028.1,1731.0v10.5M1085.6,1731.0v10.5M1143,1731.0v10.5M1200.5,1731.0v10.5M1257.9,1731.0v10.5M1315.3,1731.0v10.5M1372.8,1731.0v10.5M1430.2,1731.0v10.5M1487.7,1731.0v10.5M648.8,1648.9h-10M648.8,1469.2h-10M648.8,1289.5h-10" stroke="#333" stroke-width="1.5" fill="none"/>
<text x="630.5" y="1657.1" font-size="23" textLength="35" lengthAdjust="spacingAndGlyphs" text-anchor="end">0.2</text>
<text x="630.5" y="1477.4" font-size="23" textLength="35" lengthAdjust="spacingAndGlyphs" text-anchor="end">0.4</text>
<text x="630.5" y="1297.7" font-size="23" textLength="35" lengthAdjust="spacingAndGlyphs" text-anchor="end">0.6</text>
<text x="569" y="1431" font-size="27.6" textLength="236" lengthAdjust="spacingAndGlyphs" text-anchor="middle" transform="rotate(-90 569 1431)">Median expression</text>
<text x="697.5" y="1764.2" font-size="26.5" text-anchor="end" transform="rotate(-45 697.5 1764.2)">CD25</text>
<text x="754.9" y="1764.2" font-size="26.5" text-anchor="end" transform="rotate(-45 754.9 1764.2)">CD38</text>
<text x="812.4" y="1764.2" font-size="26.5" text-anchor="end" transform="rotate(-45 812.4 1764.2)">CD103</text>
<text x="869.8" y="1764.2" font-size="26.5" text-anchor="end" transform="rotate(-45 869.8 1764.2)">CD73</text>
<text x="927.3" y="1764.2" font-size="26.5" text-anchor="end" transform="rotate(-45 927.3 1764.2)">GITR</text>
<text x="984.7" y="1764.2" font-size="26.5" textLength="158" lengthAdjust="spacingAndGlyphs" text-anchor="end" transform="rotate(-45 984.7 1764.2)">Neuropilin-1</text>
<text x="1042.1" y="1764.2" font-size="26.5" text-anchor="end" transform="rotate(-45 1042.1 1764.2)">CD62L</text>
<text x="1099.6" y="1764.2" font-size="26.5" text-anchor="end" transform="rotate(-45 1099.6 1764.2)">KLRG1</text>
<text x="1157" y="1764.2" font-size="26.5" text-anchor="end" transform="rotate(-45 1157 1764.2)">CD27</text>
<text x="1214.5" y="1764.2" font-size="26.5" text-anchor="end" transform="rotate(-45 1214.5 1764.2)">CD44</text>
<text x="1271.9" y="1764.2" font-size="26.5" text-anchor="end" transform="rotate(-45 1271.9 1764.2)">ICOS</text>
<text x="1329.3" y="1764.2" font-size="26.5" text-anchor="end" transform="rotate(-45 1329.3 1764.2)">PD-1</text>
<text x="1386.8" y="1764.2" font-size="26.5" text-anchor="end" transform="rotate(-45 1386.8 1764.2)">CD69</text>
<text x="1444.2" y="1764.2" font-size="26.5" text-anchor="end" transform="rotate(-45 1444.2 1764.2)">CD39</text>
<text x="1501.7" y="1764.2" font-size="26.5" text-anchor="end" transform="rotate(-45 1501.7 1764.2)">CCR8</text>
<text x="652.1" y="1586.2" font-size="15.6" textLength="62.7" lengthAdjust="spacingAndGlyphs"><tspan font-style="italic">P</tspan> = 0.03</text>
<text x="688.5" y="1537.6" font-size="15.6" textLength="83.6" lengthAdjust="spacingAndGlyphs"><tspan font-style="italic">P</tspan> = 0.0028</text>
<text x="748.5" y="1589.9" font-size="15.6" textLength="83.3" lengthAdjust="spacingAndGlyphs"><tspan font-style="italic">P</tspan> = 0.0029</text>
<text x="824.4" y="1562.9" font-size="15.6" textLength="69.1" lengthAdjust="spacingAndGlyphs"><tspan font-style="italic">P</tspan> = 0.019</text>
<text x="1082.8" y="1327.5" font-size="15.6" textLength="95.8" lengthAdjust="spacingAndGlyphs"><tspan font-style="italic">P</tspan> = 0.00042</text>
<text x="1161.2" y="1186.5" font-size="15.6" textLength="83.2" lengthAdjust="spacingAndGlyphs"><tspan font-style="italic">P</tspan> = 0.0028</text>
<text x="1293.5" y="1328.9" font-size="15.6" textLength="95.8" lengthAdjust="spacingAndGlyphs"><tspan font-style="italic">P</tspan> = 0.00034</text>
<text x="1340.5" y="1517.7" font-size="15.6" textLength="83.6" lengthAdjust="spacingAndGlyphs"><tspan font-style="italic">P</tspan> = 0.0065</text>
<text x="1422.4" y="1576.2" font-size="15.6" textLength="95.8" lengthAdjust="spacingAndGlyphs"><tspan font-style="italic">P</tspan> = 0.00034</text>
<text x="875.6" y="1192.1" font-size="15.6" textLength="95.4" lengthAdjust="spacingAndGlyphs"><tspan font-style="italic">P</tspan> = 1.4 × 10<tspan font-size="10.5" dy="-6">−5</tspan></text>
<text x="1206.4" y="1308.7" font-size="15.6" textLength="100" lengthAdjust="spacingAndGlyphs"><tspan font-style="italic">P</tspan> = 9.5 × 10<tspan font-size="10.5" dy="-6">−6</tspan></text>
<text x="1399" y="1326.8" font-size="15.6" textLength="99" lengthAdjust="spacingAndGlyphs"><tspan font-style="italic">P</tspan> = 4.8 × 10<tspan font-size="10.5" dy="-6">−6</tspan></text>
<rect x="1548.3" y="1382.8" width="24.6" height="24.6" fill="#c40f0f" stroke="#000" stroke-width="1.8"/>
<rect x="1548.3" y="1429.4" width="24.6" height="24.6" fill="#fff" stroke="#4d4d4d" stroke-width="1.8"/>
<text x="1585" y="1403.5" font-size="26.8">IL-23R<tspan font-size="17" dy="-10">+</tspan><tspan dy="10">​</tspan></text>
<text x="1585" y="1450.5" font-size="26.8">IL-23R<tspan font-size="17" dy="-10">−</tspan><tspan dy="10">​</tspan></text>
<text x="1730.3" y="1090.8" font-size="35" textLength="21.6" lengthAdjust="spacingAndGlyphs" font-weight="bold" stroke="#000" stroke-width="1.3">h</text>
<g stroke="#000" stroke-width="1.2"><rect x="1740.6" y="1119.8" width="37.6" height="29.2" fill="#2caf7e"/><rect x="1778.2" y="1119.8" width="37.6" height="29.2" fill="#6fcd57"/><rect x="1815.8" y="1119.8" width="37.6" height="29.2" fill="#dde326"/><rect x="1853.5" y="1119.8" width="37.6" height="29.2" fill="#34628d"/><rect x="1891.1" y="1119.8" width="37.6" height="29.2" fill="#3a548b"/><rect x="1740.6" y="1149" width="37.6" height="29.2" fill="#5fc860"/><rect x="1778.2" y="1149" width="37.6" height="29.2" fill="#b6de2a"/><rect x="1815.8" y="1149" width="37.6" height="29.2" fill="#81d24d"/><rect x="1853.5" y="1149" width="37.6" height="29.2" fill="#3a548b"/><rect x="1891.1" y="1149" width="37.6" height="29.2" fill="#3c508a"/><rect x="1740.6" y="1178.2" width="37.6" height="29.2" fill="#2e6e8e"/><rect x="1778.2" y="1178.2" width="37.6" height="29.2" fill="#fde725"/><rect x="1815.8" y="1178.2" width="37.6" height="29.2" fill="#4fc36a"/><rect x="1853.5" y="1178.2" width="37.6" height="29.2" fill="#423e83"/><rect x="1891.1" y="1178.2" width="37.6" height="29.2" fill="#423f84"/><rect x="1740.6" y="1207.4" width="37.6" height="29.2" fill="#5fc860"/><rect x="1778.2" y="1207.4" width="37.6" height="29.2" fill="#7ad151"/><rect x="1815.8" y="1207.4" width="37.6" height="29.2" fill="#2caf7e"/><rect x="1853.5" y="1207.4" width="37.6" height="29.2" fill="#375a8c"/><rect x="1891.1" y="1207.4" width="37.6" height="29.2" fill="#3c4f89"/><rect x="1740.6" y="1236.6" width="37.6" height="29.2" fill="#44bf70"/><rect x="1778.2" y="1236.6" width="37.6" height="29.2" fill="#a6da35"/><rect x="1815.8" y="1236.6" width="37.6" height="29.2" fill="#21968a"/><rect x="1853.5" y="1236.6" width="37.6" height="29.2" fill="#424185"/><rect x="1891.1" y="1236.6" width="37.6" height="29.2" fill="#3f4988"/><rect x="1740.6" y="1265.8" width="37.6" height="29.2" fill="#5cc762"/><rect x="1778.2" y="1265.8" width="37.6" height="29.2" fill="#25aa82"/><rect x="1815.8" y="1265.8" width="37.6" height="29.2" fill="#238b8c"/><rect x="1853.5" y="1265.8" width="37.6" height="29.2" fill="#39578b"/><rect x="1891.1" y="1265.8" width="37.6" height="29.2" fill="#39568b"/><rect x="1740.6" y="1294.9" width="37.6" height="29.2" fill="#2caf7e"/><rect x="1778.2" y="1294.9" width="37.6" height="29.2" fill="#2caf7e"/><rect x="1815.8" y="1294.9" width="37.6" height="29.2" fill="#22a186"/><rect x="1853.5" y="1294.9" width="37.6" height="29.2" fill="#375a8c"/><rect x="1891.1" y="1294.9" width="37.6" height="29.2" fill="#39578b"/><rect x="1740.6" y="1324.1" width="37.6" height="29.2" fill="#30b17c"/><rect x="1778.2" y="1324.1" width="37.6" height="29.2" fill="#22a685"/><rect x="1815.8" y="1324.1" width="37.6" height="29.2" fill="#7ad151"/><rect x="1853.5" y="1324.1" width="37.6" height="29.2" fill="#3f4988"/><rect x="1891.1" y="1324.1" width="37.6" height="29.2" fill="#423f84"/><rect x="1740.6" y="1353.3" width="37.6" height="29.2" fill="#22a585"/><rect x="1778.2" y="1353.3" width="37.6" height="29.2" fill="#22a884"/><rect x="1815.8" y="1353.3" width="37.6" height="29.2" fill="#3ab876"/><rect x="1853.5" y="1353.3" width="37.6" height="29.2" fill="#3d4d89"/><rect x="1891.1" y="1353.3" width="37.6" height="29.2" fill="#3d4d89"/><rect x="1740.6" y="1382.5" width="37.6" height="29.2" fill="#21928c"/><rect x="1778.2" y="1382.5" width="37.6" height="29.2" fill="#29ad80"/><rect x="1815.8" y="1382.5" width="37.6" height="29.2" fill="#3ab876"/><rect x="1853.5" y="1382.5" width="37.6" height="29.2" fill="#404587"/><rect x="1891.1" y="1382.5" width="37.6" height="29.2" fill="#414286"/><rect x="1740.6" y="1411.7" width="37.6" height="29.2" fill="#7ad151"/><rect x="1778.2" y="1411.7" width="37.6" height="29.2" fill="#2c748e"/><rect x="1815.8" y="1411.7" width="37.6" height="29.2" fill="#32668d"/><rect x="1853.5" y="1411.7" width="37.6" height="29.2" fill="#34608d"/><rect x="1891.1" y="1411.7" width="37.6" height="29.2" fill="#375b8c"/><rect x="1740.6" y="1440.9" width="37.6" height="29.2" fill="#5ac664"/><rect x="1778.2" y="1440.9" width="37.6" height="29.2" fill="#25878d"/><rect x="1815.8" y="1440.9" width="37.6" height="29.2" fill="#2d728e"/><rect x="1853.5" y="1440.9" width="37.6" height="29.2" fill="#34628d"/><rect x="1891.1" y="1440.9" width="37.6" height="29.2" fill="#365c8c"/><rect x="1740.6" y="1470.1" width="37.6" height="29.2" fill="#4cc26b"/><rect x="1778.2" y="1470.1" width="37.6" height="29.2" fill="#26828d"/><rect x="1815.8" y="1470.1" width="37.6" height="29.2" fill="#2a788e"/><rect x="1853.5" y="1470.1" width="37.6" height="29.2" fill="#3a548b"/><rect x="1891.1" y="1470.1" width="37.6" height="29.2" fill="#3a538a"/><rect x="1740.6" y="1499.3" width="37.6" height="29.2" fill="#25aa82"/><rect x="1778.2" y="1499.3" width="37.6" height="29.2" fill="#2a798e"/><rect x="1815.8" y="1499.3" width="37.6" height="29.2" fill="#238c8c"/><rect x="1853.5" y="1499.3" width="37.6" height="29.2" fill="#3c508a"/><rect x="1891.1" y="1499.3" width="37.6" height="29.2" fill="#3c4f89"/><rect x="1740.6" y="1528.5" width="37.6" height="29.2" fill="#27808d"/><rect x="1778.2" y="1528.5" width="37.6" height="29.2" fill="#27818d"/><rect x="1815.8" y="1528.5" width="37.6" height="29.2" fill="#25868d"/><rect x="1853.5" y="1528.5" width="37.6" height="29.2" fill="#3a558b"/><rect x="1891.1" y="1528.5" width="37.6" height="29.2" fill="#3a538a"/><rect x="1740.6" y="1557.7" width="37.6" height="29.2" fill="#2b768e"/><rect x="1778.2" y="1557.7" width="37.6" height="29.2" fill="#26848d"/><rect x="1815.8" y="1557.7" width="37.6" height="29.2" fill="#297a8e"/><rect x="1853.5" y="1557.7" width="37.6" height="29.2" fill="#3c508a"/><rect x="1891.1" y="1557.7" width="37.6" height="29.2" fill="#3a548b"/><rect x="1740.6" y="1586.8" width="37.6" height="29.2" fill="#21918c"/><rect x="1778.2" y="1586.8" width="37.6" height="29.2" fill="#27818d"/><rect x="1815.8" y="1586.8" width="37.6" height="29.2" fill="#2d708e"/><rect x="1853.5" y="1586.8" width="37.6" height="29.2" fill="#39578b"/><rect x="1891.1" y="1586.8" width="37.6" height="29.2" fill="#3d4d89"/><rect x="1740.6" y="1616" width="37.6" height="29.2" fill="#2a788e"/><rect x="1778.2" y="1616" width="37.6" height="29.2" fill="#26838d"/><rect x="1815.8" y="1616" width="37.6" height="29.2" fill="#31688d"/><rect x="1853.5" y="1616" width="37.6" height="29.2" fill="#38588c"/><rect x="1891.1" y="1616" width="37.6" height="29.2" fill="#39568b"/><rect x="1740.6" y="1645.2" width="37.6" height="29.2" fill="#2f6d8e"/><rect x="1778.2" y="1645.2" width="37.6" height="29.2" fill="#297c8e"/><rect x="1815.8" y="1645.2" width="37.6" height="29.2" fill="#355f8d"/><rect x="1853.5" y="1645.2" width="37.6" height="29.2" fill="#38578b"/><rect x="1891.1" y="1645.2" width="37.6" height="29.2" fill="#38578b"/><rect x="1740.6" y="1674.4" width="37.6" height="29.2" fill="#3d4c89"/><rect x="1778.2" y="1674.4" width="37.6" height="29.2" fill="#44367f"/><rect x="1815.8" y="1674.4" width="37.6" height="29.2" fill="#423f84"/><rect x="1853.5" y="1674.4" width="37.6" height="29.2" fill="#5fc860"/><rect x="1891.1" y="1674.4" width="37.6" height="29.2" fill="#22a784"/><rect x="1740.6" y="1703.6" width="37.6" height="29.2" fill="#3e4b88"/><rect x="1778.2" y="1703.6" width="37.6" height="29.2" fill="#424185"/><rect x="1815.8" y="1703.6" width="37.6" height="29.2" fill="#404788"/><rect x="1853.5" y="1703.6" width="37.6" height="29.2" fill="#3fbc73"/><rect x="1891.1" y="1703.6" width="37.6" height="29.2" fill="#22a685"/><rect x="1740.6" y="1732.8" width="37.6" height="29.2" fill="#414487"/><rect x="1778.2" y="1732.8" width="37.6" height="29.2" fill="#414487"/><rect x="1815.8" y="1732.8" width="37.6" height="29.2" fill="#3f4988"/><rect x="1853.5" y="1732.8" width="37.6" height="29.2" fill="#3fbc73"/><rect x="1891.1" y="1732.8" width="37.6" height="29.2" fill="#36b678"/><rect x="1740.6" y="1762" width="37.6" height="29.2" fill="#433981"/><rect x="1778.2" y="1762" width="37.6" height="29.2" fill="#414286"/><rect x="1815.8" y="1762" width="37.6" height="29.2" fill="#3d4d89"/><rect x="1853.5" y="1762" width="37.6" height="29.2" fill="#41bd72"/><rect x="1891.1" y="1762" width="37.6" height="29.2" fill="#41bd72"/><rect x="1740.6" y="1791.2" width="37.6" height="29.2" fill="#414487"/><rect x="1778.2" y="1791.2" width="37.6" height="29.2" fill="#3f4888"/><rect x="1815.8" y="1791.2" width="37.6" height="29.2" fill="#404587"/><rect x="1853.5" y="1791.2" width="37.6" height="29.2" fill="#22a087"/><rect x="1891.1" y="1791.2" width="37.6" height="29.2" fill="#41bd72"/><rect x="1740.6" y="1820.4" width="37.6" height="29.2" fill="#423e83"/><rect x="1778.2" y="1820.4" width="37.6" height="29.2" fill="#423e83"/><rect x="1815.8" y="1820.4" width="37.6" height="29.2" fill="#3f4988"/><rect x="1853.5" y="1820.4" width="37.6" height="29.2" fill="#38b777"/><rect x="1891.1" y="1820.4" width="37.6" height="29.2" fill="#219989"/><rect x="1740.6" y="1849.5" width="37.6" height="29.2" fill="#433981"/><rect x="1778.2" y="1849.5" width="37.6" height="29.2" fill="#443780"/><rect x="1815.8" y="1849.5" width="37.6" height="29.2" fill="#423e83"/><rect x="1853.5" y="1849.5" width="37.6" height="29.2" fill="#3fbc73"/><rect x="1891.1" y="1849.5" width="37.6" height="29.2" fill="#22a087"/><rect x="1740.6" y="1878.7" width="37.6" height="29.2" fill="#3c508a"/><rect x="1778.2" y="1878.7" width="37.6" height="29.2" fill="#45317c"/><rect x="1815.8" y="1878.7" width="37.6" height="29.2" fill="#3f4888"/><rect x="1853.5" y="1878.7" width="37.6" height="29.2" fill="#219a89"/><rect x="1891.1" y="1878.7" width="37.6" height="29.2" fill="#22a286"/><rect x="1740.6" y="1907.9" width="37.6" height="29.2" fill="#3a548a"/><rect x="1778.2" y="1907.9" width="37.6" height="29.2" fill="#39568b"/><rect x="1815.8" y="1907.9" width="37.6" height="29.2" fill="#3c4f89"/><rect x="1853.5" y="1907.9" width="37.6" height="29.2" fill="#21918c"/><rect x="1891.1" y="1907.9" width="37.6" height="29.2" fill="#2e6e8e"/><rect x="1740.6" y="1937.1" width="37.6" height="29.2" fill="#45327d"/><rect x="1778.2" y="1937.1" width="37.6" height="29.2" fill="#433981"/><rect x="1815.8" y="1937.1" width="37.6" height="29.2" fill="#3c4e89"/><rect x="1853.5" y="1937.1" width="37.6" height="29.2" fill="#2b778e"/><rect x="1891.1" y="1937.1" width="37.6" height="29.2" fill="#2a798e"/><rect x="1740.6" y="1966.3" width="37.6" height="29.2" fill="#440154"/><rect x="1778.2" y="1966.3" width="37.6" height="29.2" fill="#45085b"/><rect x="1815.8" y="1966.3" width="37.6" height="29.2" fill="#471d6e"/><rect x="1853.5" y="1966.3" width="37.6" height="29.2" fill="#24888d"/><rect x="1891.1" y="1966.3" width="37.6" height="29.2" fill="#27818d"/></g>
<g font-size="21" font-style="italic"><text x="1942.5" y="1141.6">Pdcd1</text><text x="1942.5" y="1170.8">Pparg</text><text x="1942.5" y="1200">Il23r</text><text x="1942.5" y="1229.2">Cxcr3</text><text x="1942.5" y="1258.4">Tnfrsf8</text><text x="1942.5" y="1287.5">Il12rb1</text><text x="1942.5" y="1316.7">Bhlhe40</text><text x="1942.5" y="1345.9">Il18r1</text><text x="1942.5" y="1375.1">Ccr8</text><text x="1942.5" y="1404.3">Prdm1</text><text x="1942.5" y="1433.5">Tbx21</text><text x="1942.5" y="1462.7">Irf8</text><text x="1942.5" y="1491.9">Tnfsf9</text><text x="1942.5" y="1521.1">Tnfrsf9</text><text x="1942.5" y="1550.3">Icos</text><text x="1942.5" y="1579.4">Lag3</text><text x="1942.5" y="1608.6">Entpd1</text><text x="1942.5" y="1637.8">Il10</text><text x="1942.5" y="1667">Il12rb2</text><text x="1942.5" y="1696.2">Il6ra</text><text x="1942.5" y="1725.4">Foxp1</text><text x="1942.5" y="1754.6">Lef1</text><text x="1942.5" y="1783.8">Tnfrsf26</text><text x="1942.5" y="1813">Tnfsf8</text><text x="1942.5" y="1842.2">Tcf7</text><text x="1942.5" y="1871.3">Bach2</text><text x="1942.5" y="1900.5">Tnfrsf25</text><text x="1942.5" y="1929.7">Eomes</text><text x="1942.5" y="1958.9">Satb1</text><text x="1942.5" y="1988.1">Sell</text></g>
<rect x="1742.6" y="1179.2" width="266.4" height="27.4" fill="none" stroke="#000" stroke-width="3.8"/>
<path d="M1746.9,2008H1847.6M1858.3,2008H1925.5" stroke="#000" stroke-width="2.2"/>
<text x="1810" y="2027.5" font-size="24" textLength="154" lengthAdjust="spacingAndGlyphs" text-anchor="end" transform="rotate(-45 1810 2027.5)">Tumor T<tspan font-size="12.5" dy="6" dx="4">reg</tspan><tspan dy="-6" dx="4"> cells</tspan></text>
<text x="1905.5" y="2027.5" font-size="24" textLength="164" lengthAdjust="spacingAndGlyphs" text-anchor="end" transform="rotate(-45 1905.5 2027.5)">Spleen T<tspan font-size="12.5" dy="6" dx="4">reg</tspan><tspan dy="-6" dx="4"> cells</tspan></text>
<linearGradient id="vg" x1="0" y1="0" x2="0" y2="1"><stop offset="0.000" stop-color="#fde725"/><stop offset="0.151" stop-color="#fde725"/><stop offset="0.245" stop-color="#cae126"/><stop offset="0.339" stop-color="#7ad151"/><stop offset="0.432" stop-color="#3dba74"/><stop offset="0.510" stop-color="#22a386"/><stop offset="0.604" stop-color="#25878d"/><stop offset="0.691" stop-color="#306b8d"/><stop offset="0.782" stop-color="#3d4d89"/><stop offset="0.872" stop-color="#472978"/><stop offset="0.963" stop-color="#440154"/><stop offset="1.000" stop-color="#440154"/></linearGradient>
<rect x="2090.8" y="1571.2" width="38.4" height="178.4" fill="url(#vg)" stroke="#000" stroke-width="1.2"/>
<path d="M2091.6,1575.9h7.4M2128.4,1575.9h-7.4M2091.6,1631.3h7.4M2128.4,1631.3h-7.4M2091.6,1687.1h7.4M2128.4,1687.1h-7.4M2091.6,1742.9h7.4M2128.4,1742.9h-7.4" stroke="#fff" stroke-width="1.5" opacity="0.85"/>
<text x="2141" y="1583.5" font-size="21.5">4</text>
<text x="2141" y="1638.9" font-size="21.5">2</text>
<text x="2141" y="1694.7" font-size="21.5">0</text>
<text x="2140.6" y="1750.5" font-size="21.5" textLength="23.8" lengthAdjust="spacingAndGlyphs">−2</text>
<text x="2070.2" y="1552" font-size="27.2" textLength="89.4" lengthAdjust="spacingAndGlyphs"><tspan font-style="italic">z</tspan> score</text>
<text x="0.5" y="1944" font-size="36" textLength="10" lengthAdjust="spacingAndGlyphs" font-weight="bold" stroke="#000" stroke-width="2">i</text>
<text x="36.7" y="1953.8" font-size="26.5" textLength="81" lengthAdjust="spacingAndGlyphs">Tumor</text>
<text x="97" y="2005.2" font-size="26.5" textLength="160.8" lengthAdjust="spacingAndGlyphs" fill="#e81f2d">IL-23R<tspan font-size="19.5" dy="-10.5">tdTomato</tspan><tspan dy="10.5">​</tspan></text>
<text x="446" y="2005.2" font-size="26.5" textLength="77.2" lengthAdjust="spacingAndGlyphs" fill="#39d13a">Foxp3</text>
<text x="671.5" y="2005.2" font-size="26.5" textLength="250.8" lengthAdjust="spacingAndGlyphs" fill="#e81f2d">IL-23R<tspan font-size="19.5" dy="-10.5">tdTomato</tspan><tspan dy="10.5">​</tspan>/<tspan fill="#39d13a">Foxp3</tspan></text>
<text x="957.7" y="2006.2" font-size="26.5" textLength="316.6" lengthAdjust="spacingAndGlyphs" fill="#e81f2d">IL-23R<tspan font-size="19.5" dy="-10.5">tdTomato</tspan><tspan dy="10.5">​</tspan>/<tspan fill="#39d13a">Foxp3/</tspan><tspan fill="#a9b0a9">CD3</tspan></text>
<text x="1353.7" y="2006.2" font-size="26.5" textLength="151.8" lengthAdjust="spacingAndGlyphs" fill="#1b1be0">DAPI/<tspan fill="#a233cf">merge</tspan></text>
<clipPath id="c0"><rect x="36.7" y="2024.6" width="275.1" height="283.7"/></clipPath><g clip-path="url(#c0)"><rect x="36.7" y="2024.6" width="275.1" height="283.7" fill="#000" filter="url(#tR)"/><g filter="url(#cf)"><ellipse cx="229.3" cy="2091.6" rx="15.4" ry="16.2" fill="#d42a22" opacity="0.95"/><ellipse cx="261.7" cy="2095.8" rx="6.1" ry="6.4" fill="#c02020" opacity="0.9"/><ellipse cx="203.4" cy="2163.3" rx="10.2" ry="10.7" fill="#e02222" opacity="1"/><ellipse cx="109.1" cy="2208.4" rx="9.4" ry="9.8" fill="#ff1616" opacity="1"/></g></g>
<clipPath id="c1"><rect x="343" y="2020.3" width="278.4" height="284.2"/></clipPath><g clip-path="url(#c1)"><rect x="343" y="2020.3" width="278.4" height="284.2" fill="#000" filter="url(#tG)"/><rect x="343" y="2020.3" width="278.4" height="284.2" fill="url(#dk2)"/><g filter="url(#cf)"><ellipse cx="461" cy="2086" rx="8.4" ry="7.9" fill="#39d13a" opacity="0.55"/><ellipse cx="539.3" cy="2083.4" rx="12.8" ry="12.2" fill="#39d13a" opacity="1.00"/><ellipse cx="563.8" cy="2071.5" rx="10" ry="9.5" fill="#39d13a" opacity="0.80"/><ellipse cx="620.3" cy="2099.6" rx="7.2" ry="6.9" fill="#39d13a" opacity="0.90"/><ellipse cx="520.6" cy="2193.9" rx="8.4" ry="7.9" fill="#39d13a" opacity="0.50"/><ellipse cx="431.5" cy="2210.1" rx="11.1" ry="10.6" fill="#39d13a" opacity="0.75"/><ellipse cx="485.5" cy="2211.9" rx="10" ry="9.5" fill="#39d13a" opacity="1.00"/><ellipse cx="555.7" cy="2219.2" rx="11.7" ry="11.1" fill="#39d13a" opacity="1.00"/><ellipse cx="360.3" cy="2220.9" rx="8.4" ry="7.9" fill="#39d13a" opacity="0.70"/><ellipse cx="358.6" cy="2239.7" rx="9.7" ry="9.3" fill="#39d13a" opacity="1.00"/><ellipse cx="468.3" cy="2253.3" rx="8.4" ry="7.9" fill="#39d13a" opacity="0.75"/><ellipse cx="498.9" cy="2249.4" rx="7.5" ry="7.1" fill="#39d13a" opacity="0.75"/><ellipse cx="598.8" cy="2245.1" rx="10.3" ry="9.8" fill="#39d13a" opacity="1.00"/><ellipse cx="362.5" cy="2037.4" rx="5.6" ry="5.3" fill="#39d13a" opacity="0.35"/></g></g>
<clipPath id="c2"><rect x="657" y="2019.2" width="278.8" height="285.3"/></clipPath><g clip-path="url(#c2)"><rect x="657" y="2019.2" width="278.8" height="285.3" fill="#000" filter="url(#tRG)"/><rect x="657" y="2019.2" width="278.8" height="285.3" fill="url(#dk2)"/><g filter="url(#cf)"><ellipse cx="775.2" cy="2085.1" rx="8.4" ry="7.9" fill="#39d13a" opacity="0.55"/><ellipse cx="853.6" cy="2082.5" rx="12.8" ry="12.2" fill="#39d13a" opacity="1.00"/><ellipse cx="878.1" cy="2070.6" rx="10" ry="9.5" fill="#39d13a" opacity="0.80"/><ellipse cx="934.7" cy="2098.8" rx="7.2" ry="6.9" fill="#39d13a" opacity="0.90"/><ellipse cx="834.9" cy="2193.5" rx="8.4" ry="7.9" fill="#39d13a" opacity="0.50"/><ellipse cx="745.7" cy="2209.8" rx="11.2" ry="10.6" fill="#39d13a" opacity="0.75"/><ellipse cx="799.7" cy="2211.5" rx="10" ry="9.5" fill="#39d13a" opacity="1.00"/><ellipse cx="870" cy="2218.9" rx="11.7" ry="11.1" fill="#39d13a" opacity="1.00"/><ellipse cx="674.3" cy="2220.6" rx="8.4" ry="7.9" fill="#39d13a" opacity="0.70"/><ellipse cx="672.6" cy="2239.5" rx="9.8" ry="9.3" fill="#39d13a" opacity="1.00"/><ellipse cx="782.5" cy="2253.1" rx="8.4" ry="7.9" fill="#39d13a" opacity="0.75"/><ellipse cx="813.1" cy="2249.2" rx="7.5" ry="7.2" fill="#39d13a" opacity="0.75"/><ellipse cx="913.2" cy="2244.9" rx="10.3" ry="9.8" fill="#39d13a" opacity="1.00"/><ellipse cx="676.5" cy="2036.3" rx="5.6" ry="5.3" fill="#39d13a" opacity="0.35"/><ellipse cx="852.2" cy="2086.5" rx="15.6" ry="16.4" fill="#d42a22" opacity="0.95"/><ellipse cx="885.1" cy="2090.8" rx="6.1" ry="6.4" fill="#c02020" opacity="0.9"/><ellipse cx="826" cy="2158.7" rx="10.3" ry="10.8" fill="#e02222" opacity="1"/><ellipse cx="730.3" cy="2204.1" rx="9.5" ry="10" fill="#ff1616" opacity="1"/><ellipse cx="853.6" cy="2083.1" rx="11.2" ry="9.4" fill="#cfd42a" opacity="0.95"/></g></g>
<clipPath id="c3"><rect x="982.5" y="2021.1" width="275.2" height="281.2"/></clipPath><g clip-path="url(#c3)"><rect x="982.5" y="2021.1" width="275.2" height="281.2" fill="#000" filter="url(#tW)"/><rect x="982.5" y="2021.1" width="275.2" height="281.2" fill="url(#dk2)"/><g filter="url(#cf)"><ellipse cx="1039.5" cy="2132.2" rx="11" ry="10.5" fill="#e4e0e2" fill-opacity="0.22" stroke="#e4e0e2" stroke-opacity="0.75" stroke-width="3.3"/><ellipse cx="1097" cy="2084.9" rx="11" ry="10.5" fill="#e4e0e2" fill-opacity="0.50"/><ellipse cx="1122.9" cy="2149.6" rx="9.9" ry="9.4" fill="#e4e0e2" fill-opacity="0.12" stroke="#e4e0e2" stroke-opacity="0.40" stroke-width="3"/><ellipse cx="1126.4" cy="2173.8" rx="9.4" ry="8.9" fill="#e4e0e2" fill-opacity="0.12" stroke="#e4e0e2" stroke-opacity="0.40" stroke-width="2.8"/><ellipse cx="1122.9" cy="2198.3" rx="6.1" ry="5.8" fill="#e4e0e2" fill-opacity="0.90"/><ellipse cx="1238.2" cy="2264.6" rx="11.6" ry="11" fill="#e4e0e2" fill-opacity="0.80"/><ellipse cx="1145.7" cy="2278.7" rx="13.2" ry="12.5" fill="#e4e0e2" fill-opacity="0.85"/><ellipse cx="1100.3" cy="2285.4" rx="8.8" ry="8.4" fill="#e4e0e2" fill-opacity="0.60"/><ellipse cx="1011.4" cy="2285.4" rx="12.4" ry="11.8" fill="#e4e0e2" fill-opacity="0.50"/><ellipse cx="990.8" cy="2246.1" rx="8.3" ry="7.8" fill="#e4e0e2" fill-opacity="0.70"/><ellipse cx="1044.7" cy="2246.1" rx="9.6" ry="9.2" fill="#e4e0e2" fill-opacity="0.15" stroke="#e4e0e2" stroke-opacity="0.50" stroke-width="2.9"/><ellipse cx="1109.1" cy="2233.1" rx="9.4" ry="8.9" fill="#e4e0e2" fill-opacity="0.15" stroke="#e4e0e2" stroke-opacity="0.50" stroke-width="2.8"/><ellipse cx="1105.5" cy="2254.5" rx="8.3" ry="7.8" fill="#e4e0e2" fill-opacity="0.60"/><ellipse cx="1065.1" cy="2175.8" rx="13.8" ry="13.1" fill="#e4e0e2" fill-opacity="0.25"/><ellipse cx="1098.1" cy="2161.7" rx="16.5" ry="15.7" fill="#e4e0e2" fill-opacity="0.25"/><ellipse cx="1164.1" cy="2133.6" rx="13.8" ry="13.1" fill="#e4e0e2" fill-opacity="0.20"/><ellipse cx="1032" cy="2091.4" rx="13.8" ry="13.1" fill="#e4e0e2" fill-opacity="0.20"/><ellipse cx="1202.7" cy="2189.8" rx="13.8" ry="13.1" fill="#e4e0e2" fill-opacity="0.22"/><ellipse cx="1175.1" cy="2246.1" rx="12.4" ry="11.8" fill="#e4e0e2" fill-opacity="0.09" stroke="#e4e0e2" stroke-opacity="0.30" stroke-width="3.7"/><ellipse cx="1216.4" cy="2288.2" rx="11" ry="10.5" fill="#e4e0e2" fill-opacity="0.10" stroke="#e4e0e2" stroke-opacity="0.35" stroke-width="3.3"/></g><g filter="url(#cf)"><ellipse cx="1099.2" cy="2086.1" rx="8.3" ry="7.8" fill="#39d13a" opacity="0.55"/><ellipse cx="1176.5" cy="2083.5" rx="12.7" ry="12" fill="#39d13a" opacity="1.00"/><ellipse cx="1200.7" cy="2071.7" rx="9.9" ry="9.4" fill="#39d13a" opacity="0.80"/><ellipse cx="1256.6" cy="2099.6" rx="7.2" ry="6.8" fill="#39d13a" opacity="0.90"/><ellipse cx="1158.1" cy="2192.9" rx="8.3" ry="7.8" fill="#39d13a" opacity="0.50"/><ellipse cx="1070" cy="2208.9" rx="11" ry="10.5" fill="#39d13a" opacity="0.75"/><ellipse cx="1123.4" cy="2210.6" rx="9.9" ry="9.4" fill="#39d13a" opacity="1.00"/><ellipse cx="1192.8" cy="2217.9" rx="11.6" ry="11" fill="#39d13a" opacity="1.00"/><ellipse cx="999.6" cy="2219.6" rx="8.3" ry="7.8" fill="#39d13a" opacity="0.70"/><ellipse cx="997.9" cy="2238.2" rx="9.6" ry="9.2" fill="#39d13a" opacity="1.00"/><ellipse cx="1106.3" cy="2251.7" rx="8.3" ry="7.8" fill="#39d13a" opacity="0.75"/><ellipse cx="1136.6" cy="2247.7" rx="7.4" ry="7.1" fill="#39d13a" opacity="0.75"/><ellipse cx="1235.4" cy="2243.5" rx="10.2" ry="9.7" fill="#39d13a" opacity="1.00"/><ellipse cx="1001.8" cy="2038" rx="5.5" ry="5.2" fill="#39d13a" opacity="0.35"/><ellipse cx="1175.1" cy="2087.5" rx="15.4" ry="16.2" fill="#d42a22" opacity="0.95"/><ellipse cx="1207.6" cy="2091.7" rx="6.1" ry="6.4" fill="#c02020" opacity="0.9"/><ellipse cx="1149.3" cy="2158.6" rx="10.2" ry="10.7" fill="#e02222" opacity="1"/><ellipse cx="1054.9" cy="2203.3" rx="9.4" ry="9.8" fill="#ff1616" opacity="1"/><ellipse cx="1176.5" cy="2084.1" rx="11.1" ry="9.2" fill="#cfd42a" opacity="0.95"/></g></g>
<clipPath id="c4"><rect x="1286.8" y="2018.8" width="285.5" height="283.1"/></clipPath><g clip-path="url(#c4)"><rect x="1286.8" y="2018.8" width="285.5" height="283.1" fill="#000" filter="url(#tB)"/><g filter="url(#cf)"><ellipse cx="1560.9" cy="2265.6" rx="13.4" ry="11.9" fill="#1e26b8" opacity="0.35"/><ellipse cx="1322.5" cy="2250.3" rx="14.5" ry="15.4" fill="#1a20c4" opacity="0.41"/><ellipse cx="1473.9" cy="2112.1" rx="12.9" ry="12.3" fill="#1e26b8" opacity="0.55"/><ellipse cx="1378.8" cy="2194.7" rx="12.8" ry="9.8" fill="#1416a4" opacity="0.57"/><ellipse cx="1356.4" cy="2291" rx="14.2" ry="11.1" fill="#1a20c4" opacity="0.65"/><ellipse cx="1515.7" cy="2253.2" rx="10.5" ry="9.1" fill="#1416a4" opacity="0.39"/><ellipse cx="1464.7" cy="2172.1" rx="13.9" ry="10.6" fill="#1a20c4" opacity="0.68"/><ellipse cx="1516.8" cy="2173.8" rx="12.8" ry="14.1" fill="#1e26b8" opacity="0.44"/><ellipse cx="1436" cy="2030.1" rx="11.3" ry="10.3" fill="#1e26b8" opacity="0.46"/><ellipse cx="1413.1" cy="2036.4" rx="9.4" ry="9.8" fill="#1e26b8" opacity="0.47"/><ellipse cx="1307.4" cy="2194.6" rx="13.3" ry="13.8" fill="#1a1cb0" opacity="0.59"/><ellipse cx="1340.5" cy="2140.9" rx="9.2" ry="6.9" fill="#1a1cb0" opacity="0.79"/><ellipse cx="1493.2" cy="2156.4" rx="12.8" ry="12.9" fill="#1a1cb0" opacity="0.64"/><ellipse cx="1294.8" cy="2278.4" rx="10.2" ry="10.8" fill="#1416a4" opacity="0.41"/><ellipse cx="1341.8" cy="2087.9" rx="9.5" ry="9.3" fill="#323cd0" opacity="0.40"/><ellipse cx="1514.9" cy="2066.2" rx="9.4" ry="7.1" fill="#1a1cb0" opacity="0.69"/><ellipse cx="1347.1" cy="2064.9" rx="11" ry="9.2" fill="#1e26b8" opacity="0.44"/><ellipse cx="1530.9" cy="2262" rx="12.5" ry="9.8" fill="#1a1cb0" opacity="0.45"/><ellipse cx="1302.4" cy="2162.1" rx="10.4" ry="11.1" fill="#323cd0" opacity="0.59"/><ellipse cx="1489.3" cy="2021" rx="14.2" ry="13.4" fill="#262ecc" opacity="0.55"/><ellipse cx="1443.8" cy="2287" rx="12" ry="12.2" fill="#1416a4" opacity="0.81"/><ellipse cx="1461.9" cy="2277.8" rx="11.7" ry="12.4" fill="#1a20c4" opacity="0.42"/><ellipse cx="1388.4" cy="2238.5" rx="14.5" ry="15.8" fill="#1416a4" opacity="0.44"/><ellipse cx="1363.9" cy="2269.7" rx="10.6" ry="11.2" fill="#323cd0" opacity="0.37"/><ellipse cx="1337.6" cy="2066.1" rx="13.8" ry="13.9" fill="#262ecc" opacity="0.38"/><ellipse cx="1374.9" cy="2036.8" rx="11" ry="11.3" fill="#1e26b8" opacity="0.59"/><ellipse cx="1392" cy="2248.8" rx="13.9" ry="11.8" fill="#1a20c4" opacity="0.73"/><ellipse cx="1516.4" cy="2152.4" rx="14.3" ry="15.6" fill="#1a1cb0" opacity="0.69"/><ellipse cx="1561.3" cy="2193.8" rx="10.4" ry="9.2" fill="#323cd0" opacity="0.40"/><ellipse cx="1378.8" cy="2205.8" rx="11.5" ry="12.3" fill="#323cd0" opacity="0.46"/><ellipse cx="1346.1" cy="2088.5" rx="13.9" ry="14.1" fill="#323cd0" opacity="0.64"/><ellipse cx="1328.4" cy="2086.3" rx="9.2" ry="7.3" fill="#262ecc" opacity="0.71"/><ellipse cx="1287" cy="2099.4" rx="12.6" ry="10.4" fill="#1e26b8" opacity="0.63"/><ellipse cx="1545.4" cy="2067.5" rx="14.6" ry="16" fill="#262ecc" opacity="0.62"/><ellipse cx="1296.8" cy="2137" rx="12.7" ry="9.9" fill="#1e26b8" opacity="0.54"/><ellipse cx="1356.7" cy="2202.7" rx="13.9" ry="13" fill="#1e26b8" opacity="0.84"/><ellipse cx="1320.3" cy="2165.3" rx="13.1" ry="11" fill="#1416a4" opacity="0.69"/><ellipse cx="1378.8" cy="2217.6" rx="12.8" ry="12.4" fill="#262ecc" opacity="0.65"/><ellipse cx="1508.7" cy="2131.6" rx="13" ry="13.5" fill="#323cd0" opacity="0.74"/><ellipse cx="1397.9" cy="2288.9" rx="14.1" ry="13.2" fill="#1a1cb0" opacity="0.67"/><ellipse cx="1324.5" cy="2028.8" rx="9.1" ry="8.6" fill="#1a20c4" opacity="0.45"/><ellipse cx="1365.3" cy="2052.1" rx="14.3" ry="12.1" fill="#1a20c4" opacity="0.60"/><ellipse cx="1550.8" cy="2112.3" rx="13.2" ry="12.6" fill="#1416a4" opacity="0.73"/><ellipse cx="1380" cy="2181.2" rx="14.3" ry="12.5" fill="#262ecc" opacity="0.47"/><ellipse cx="1515.3" cy="2020.4" rx="13.6" ry="11.3" fill="#1416a4" opacity="0.73"/><ellipse cx="1431.3" cy="2168.7" rx="9.6" ry="9.3" fill="#1e26b8" opacity="0.39"/><ellipse cx="1429.8" cy="2252.4" rx="13.2" ry="10.9" fill="#1a20c4" opacity="0.65"/><ellipse cx="1348.5" cy="2295.3" rx="11.4" ry="10.7" fill="#1a1cb0" opacity="0.71"/><ellipse cx="1353.6" cy="2188.4" rx="14.9" ry="16.2" fill="#262ecc" opacity="0.40"/><ellipse cx="1562.4" cy="2185.2" rx="10.1" ry="11" fill="#1416a4" opacity="0.37"/><ellipse cx="1546.5" cy="2173.7" rx="14.8" ry="12.1" fill="#323cd0" opacity="0.59"/><ellipse cx="1504.5" cy="2229.5" rx="14" ry="13.3" fill="#1a20c4" opacity="0.46"/><ellipse cx="1432.3" cy="2281.2" rx="10.2" ry="8.9" fill="#262ecc" opacity="0.42"/><ellipse cx="1494" cy="2182.3" rx="14.1" ry="14.2" fill="#1e26b8" opacity="0.56"/><ellipse cx="1500.6" cy="2218.9" rx="11.3" ry="11.1" fill="#1a20c4" opacity="0.61"/><ellipse cx="1343.1" cy="2180.8" rx="11.7" ry="9.6" fill="#1a1cb0" opacity="0.50"/><ellipse cx="1494.1" cy="2106.3" rx="10.4" ry="10.8" fill="#1e26b8" opacity="0.64"/><ellipse cx="1367.7" cy="2252" rx="11.2" ry="10.5" fill="#1a20c4" opacity="0.84"/><ellipse cx="1399.8" cy="2054.1" rx="12.9" ry="9.9" fill="#262ecc" opacity="0.39"/><ellipse cx="1374.3" cy="2122" rx="9.7" ry="9.1" fill="#1a20c4" opacity="0.59"/><ellipse cx="1425.9" cy="2244.1" rx="11.1" ry="9.4" fill="#1416a4" opacity="0.42"/><ellipse cx="1322.2" cy="2025.5" rx="14.5" ry="11.9" fill="#323cd0" opacity="0.76"/><ellipse cx="1460.1" cy="2128.5" rx="11.5" ry="9.3" fill="#1a20c4" opacity="0.39"/><ellipse cx="1483.8" cy="2265.5" rx="14.6" ry="13.4" fill="#1e26b8" opacity="0.82"/><ellipse cx="1424.1" cy="2177.3" rx="9.2" ry="9.4" fill="#1e26b8" opacity="0.50"/><ellipse cx="1493.4" cy="2194.7" rx="10.5" ry="10.7" fill="#1416a4" opacity="0.64"/><ellipse cx="1441.9" cy="2238" rx="9.4" ry="9.6" fill="#323cd0" opacity="0.38"/><ellipse cx="1430.2" cy="2076.4" rx="13.1" ry="12.9" fill="#1a1cb0" opacity="0.83"/><ellipse cx="1562.1" cy="2214.6" rx="14.1" ry="14.3" fill="#1416a4" opacity="0.56"/><ellipse cx="1480" cy="2240.6" rx="10.6" ry="10.2" fill="#1e26b8" opacity="0.54"/><ellipse cx="1410.7" cy="2278.8" rx="9.4" ry="8.9" fill="#1a20c4" opacity="0.68"/><ellipse cx="1308.2" cy="2178.7" rx="10.5" ry="9.1" fill="#262ecc" opacity="0.68"/><ellipse cx="1539" cy="2199.4" rx="14.4" ry="11.6" fill="#262ecc" opacity="0.74"/><ellipse cx="1337.6" cy="2201.1" rx="12" ry="12.6" fill="#323cd0" opacity="0.68"/><ellipse cx="1438.8" cy="2090" rx="11.2" ry="11.2" fill="#1a20c4" opacity="0.45"/><ellipse cx="1480.7" cy="2155.2" rx="10.4" ry="10.9" fill="#262ecc" opacity="0.63"/><ellipse cx="1384.1" cy="2117.4" rx="14" ry="14.5" fill="#1a20c4" opacity="0.53"/><ellipse cx="1308.6" cy="2069" rx="13.8" ry="11" fill="#323cd0" opacity="0.42"/><ellipse cx="1517.8" cy="2176.7" rx="11.9" ry="9.5" fill="#262ecc" opacity="0.74"/><ellipse cx="1365.6" cy="2180.7" rx="14.2" ry="11.4" fill="#323cd0" opacity="0.81"/><ellipse cx="1561.8" cy="2155.3" rx="10.7" ry="8.5" fill="#262ecc" opacity="0.84"/><ellipse cx="1494.2" cy="2267.8" rx="13.7" ry="12.6" fill="#1e26b8" opacity="0.61"/><ellipse cx="1556.1" cy="2176.9" rx="9.4" ry="8.9" fill="#1e26b8" opacity="0.81"/><ellipse cx="1377.5" cy="2114.8" rx="12.6" ry="13.7" fill="#1a20c4" opacity="0.81"/><ellipse cx="1316.1" cy="2035" rx="12" ry="11.6" fill="#1a1cb0" opacity="0.60"/><ellipse cx="1335.2" cy="2078.6" rx="12.7" ry="13.1" fill="#1416a4" opacity="0.73"/><ellipse cx="1560.2" cy="2147.6" rx="14.3" ry="15.7" fill="#1a1cb0" opacity="0.59"/><ellipse cx="1438.9" cy="2136.9" rx="13" ry="13.3" fill="#1416a4" opacity="0.47"/><ellipse cx="1518" cy="2028" rx="12.9" ry="11" fill="#1e26b8" opacity="0.67"/><ellipse cx="1481.2" cy="2155.2" rx="9.3" ry="9.5" fill="#1a1cb0" opacity="0.59"/><ellipse cx="1526.7" cy="2229.5" rx="12.3" ry="11.2" fill="#1a1cb0" opacity="0.57"/><ellipse cx="1391.5" cy="2227.6" rx="10.1" ry="10.8" fill="#1a20c4" opacity="0.58"/><ellipse cx="1334" cy="2200" rx="10.2" ry="11.2" fill="#1a1cb0" opacity="0.46"/><ellipse cx="1370.4" cy="2139.9" rx="10.9" ry="10.8" fill="#323cd0" opacity="0.83"/><ellipse cx="1458.3" cy="2282.4" rx="10.3" ry="10.6" fill="#262ecc" opacity="0.62"/><ellipse cx="1478.5" cy="2235.2" rx="9.1" ry="9.4" fill="#1416a4" opacity="0.39"/><ellipse cx="1439.8" cy="2136.6" rx="10.7" ry="9.1" fill="#323cd0" opacity="0.55"/><ellipse cx="1460" cy="2102.2" rx="9.3" ry="7.3" fill="#1a20c4" opacity="0.62"/><ellipse cx="1530.6" cy="2234.8" rx="11.5" ry="10.1" fill="#1416a4" opacity="0.68"/><ellipse cx="1571.7" cy="2121.2" rx="11.7" ry="11.4" fill="#1e26b8" opacity="0.64"/><ellipse cx="1451.5" cy="2227.4" rx="9.8" ry="9.4" fill="#1a20c4" opacity="0.81"/><ellipse cx="1505.9" cy="2041.8" rx="9.8" ry="10.6" fill="#1416a4" opacity="0.46"/><ellipse cx="1430.3" cy="2021" rx="13.1" ry="13.4" fill="#1a1cb0" opacity="0.58"/><ellipse cx="1497.1" cy="2149.5" rx="10.4" ry="8.2" fill="#1416a4" opacity="0.84"/><ellipse cx="1482.5" cy="2191.2" rx="12.5" ry="10" fill="#262ecc" opacity="0.58"/><ellipse cx="1389.4" cy="2137.5" rx="13.9" ry="10.7" fill="#1e26b8" opacity="0.38"/><ellipse cx="1388.9" cy="2169.9" rx="10.1" ry="7.6" fill="#323cd0" opacity="0.49"/><ellipse cx="1366.2" cy="2135.4" rx="9" ry="8.1" fill="#323cd0" opacity="0.70"/><ellipse cx="1418.1" cy="2149.1" rx="10.8" ry="8.7" fill="#1a20c4" opacity="0.61"/><ellipse cx="1365.7" cy="2106.4" rx="9.6" ry="8.2" fill="#1416a4" opacity="0.70"/><ellipse cx="1499.3" cy="2278.1" rx="11.7" ry="10.5" fill="#1416a4" opacity="0.72"/><ellipse cx="1437.2" cy="2122" rx="13.1" ry="11.2" fill="#323cd0" opacity="0.65"/><ellipse cx="1507.4" cy="2245.6" rx="12.7" ry="13.9" fill="#262ecc" opacity="0.59"/><ellipse cx="1384.8" cy="2131.3" rx="13.5" ry="10.5" fill="#1e26b8" opacity="0.76"/><ellipse cx="1313.6" cy="2159.8" rx="13.1" ry="13.3" fill="#323cd0" opacity="0.45"/><ellipse cx="1363.2" cy="2151.5" rx="13.3" ry="11.4" fill="#323cd0" opacity="0.70"/><ellipse cx="1544.8" cy="2246.3" rx="12.9" ry="11" fill="#323cd0" opacity="0.56"/><ellipse cx="1446.2" cy="2297.7" rx="10.5" ry="9" fill="#262ecc" opacity="0.57"/><ellipse cx="1368.2" cy="2193.2" rx="13.7" ry="11.7" fill="#262ecc" opacity="0.53"/><ellipse cx="1504.8" cy="2246.3" rx="13.3" ry="11.1" fill="#262ecc" opacity="0.67"/></g><g filter="url(#cf)"><ellipse cx="1345.9" cy="2130.6" rx="11.4" ry="10.8" fill="#c4c6f6" fill-opacity="0.22" stroke="#c4c6f6" stroke-opacity="0.75" stroke-width="3.4"/><ellipse cx="1405.6" cy="2083.1" rx="11.4" ry="10.8" fill="#c4c6f6" fill-opacity="0.50"/><ellipse cx="1432.4" cy="2148.2" rx="10.3" ry="9.8" fill="#c4c6f6" fill-opacity="0.12" stroke="#c4c6f6" stroke-opacity="0.40" stroke-width="3.1"/><ellipse cx="1436.1" cy="2172.5" rx="9.7" ry="9.2" fill="#c4c6f6" fill-opacity="0.12" stroke="#c4c6f6" stroke-opacity="0.40" stroke-width="2.9"/><ellipse cx="1432.4" cy="2197.2" rx="6.3" ry="6" fill="#c4c6f6" fill-opacity="0.90"/><ellipse cx="1552" cy="2264" rx="12" ry="11.4" fill="#c4c6f6" fill-opacity="0.80"/><ellipse cx="1456.1" cy="2278.1" rx="13.7" ry="13" fill="#c4c6f6" fill-opacity="0.85"/><ellipse cx="1409" cy="2284.9" rx="9.1" ry="8.7" fill="#c4c6f6" fill-opacity="0.60"/><ellipse cx="1316.8" cy="2284.9" rx="12.8" ry="12.2" fill="#c4c6f6" fill-opacity="0.50"/><ellipse cx="1295.4" cy="2245.3" rx="8.6" ry="8.1" fill="#c4c6f6" fill-opacity="0.70"/><ellipse cx="1351.3" cy="2245.3" rx="10" ry="9.5" fill="#c4c6f6" fill-opacity="0.15" stroke="#c4c6f6" stroke-opacity="0.50" stroke-width="3"/><ellipse cx="1418.1" cy="2232.3" rx="9.7" ry="9.2" fill="#c4c6f6" fill-opacity="0.15" stroke="#c4c6f6" stroke-opacity="0.50" stroke-width="2.9"/><ellipse cx="1414.4" cy="2253.8" rx="8.6" ry="8.1" fill="#c4c6f6" fill-opacity="0.60"/><ellipse cx="1372.5" cy="2174.5" rx="14.3" ry="13.6" fill="#c4c6f6" fill-opacity="0.25"/><ellipse cx="1406.7" cy="2160.3" rx="17.1" ry="16.3" fill="#c4c6f6" fill-opacity="0.25"/><ellipse cx="1475.2" cy="2132" rx="14.3" ry="13.6" fill="#c4c6f6" fill-opacity="0.20"/><ellipse cx="1338.2" cy="2089.6" rx="14.3" ry="13.6" fill="#c4c6f6" fill-opacity="0.20"/><ellipse cx="1515.2" cy="2188.7" rx="14.3" ry="13.6" fill="#c4c6f6" fill-opacity="0.22"/><ellipse cx="1486.6" cy="2245.3" rx="12.8" ry="12.2" fill="#c4c6f6" fill-opacity="0.09" stroke="#c4c6f6" stroke-opacity="0.30" stroke-width="3.9"/><ellipse cx="1529.5" cy="2287.7" rx="11.4" ry="10.8" fill="#c4c6f6" fill-opacity="0.10" stroke="#c4c6f6" stroke-opacity="0.35" stroke-width="3.4"/></g><g filter="url(#cf)"><ellipse cx="1407.9" cy="2084.2" rx="8.6" ry="8.1" fill="#2fc9a8" opacity="0.47"/><ellipse cx="1488.1" cy="2081.6" rx="13.1" ry="12.5" fill="#2fc9a8" opacity="0.85"/><ellipse cx="1513.2" cy="2069.8" rx="10.3" ry="9.8" fill="#2fc9a8" opacity="0.68"/><ellipse cx="1571.2" cy="2097.8" rx="7.4" ry="7.1" fill="#2fc9a8" opacity="0.77"/><ellipse cx="1468.9" cy="2191.8" rx="8.6" ry="8.1" fill="#2fc9a8" opacity="0.42"/><ellipse cx="1377.6" cy="2207.9" rx="11.4" ry="10.8" fill="#2fc9a8" opacity="0.64"/><ellipse cx="1433" cy="2209.6" rx="10.3" ry="9.8" fill="#2fc9a8" opacity="0.85"/><ellipse cx="1504.9" cy="2217" rx="12" ry="11.4" fill="#2fc9a8" opacity="0.85"/><ellipse cx="1304.5" cy="2218.7" rx="8.6" ry="8.1" fill="#2fc9a8" opacity="0.59"/><ellipse cx="1302.8" cy="2237.4" rx="10" ry="9.5" fill="#2fc9a8" opacity="0.85"/><ellipse cx="1415.3" cy="2250.9" rx="8.6" ry="8.1" fill="#2fc9a8" opacity="0.64"/><ellipse cx="1446.7" cy="2247" rx="7.7" ry="7.3" fill="#2fc9a8" opacity="0.64"/><ellipse cx="1549.2" cy="2242.7" rx="10.6" ry="10" fill="#2fc9a8" opacity="0.85"/><ellipse cx="1306.8" cy="2035.8" rx="5.7" ry="5.4" fill="#2fc9a8" opacity="0.30"/><ellipse cx="1486.6" cy="2085.6" rx="16" ry="16.8" fill="#d42a22" opacity="0.95"/><ellipse cx="1520.3" cy="2089.9" rx="6.3" ry="6.6" fill="#c02020" opacity="0.9"/><ellipse cx="1459.8" cy="2157.2" rx="10.6" ry="11.1" fill="#e0206a" opacity="1"/><ellipse cx="1361.9" cy="2202.2" rx="9.7" ry="10.2" fill="#ff1f7a" opacity="1"/><ellipse cx="1488.1" cy="2082.2" rx="11.5" ry="9.6" fill="#cfd42a" opacity="0.95"/></g></g>
<clipPath id="c10"><rect x="38.8" y="2339.6" width="271.3" height="182.4"/></clipPath><g clip-path="url(#c10)"><rect x="38.8" y="2339.6" width="271.3" height="182.4" fill="#000" filter="url(#tRs)"/><g filter="url(#cfs)"><ellipse cx="163.8" cy="2363.5" rx="6" ry="6.3" fill="#d42a22" opacity="0.95"/><ellipse cx="176.4" cy="2365.1" rx="2.3" ry="2.5" fill="#c02020" opacity="0.9"/><ellipse cx="153.7" cy="2389.2" rx="4" ry="4.1" fill="#e02222" opacity="1"/><ellipse cx="117.1" cy="2405.3" rx="3.6" ry="3.8" fill="#ff1616" opacity="1"/></g><g filter="url(#cfs)"><circle cx="129.4" cy="2453.9" r="4.2" fill="#f01818"/><circle cx="142.9" cy="2485.2" r="4.0" fill="#f01818"/><circle cx="231.9" cy="2505.2" r="4.4" fill="#f01818"/></g></g><path d="M89,2339.6V2441H195.8V2339.6" fill="none" stroke="#fff" stroke-width="2.3" stroke-dasharray="8.5 4.5"/>
<clipPath id="c11"><rect x="345.2" y="2345.5" width="273.5" height="176.5"/></clipPath><g clip-path="url(#c11)"><rect x="345.2" y="2345.5" width="273.5" height="176.5" fill="#000" filter="url(#tGs)"/><rect x="345.2" y="2345.5" width="273.5" height="176.5" fill="url(#dk)"/><g filter="url(#cfs)"></g><g filter="url(#cfs)"><circle cx="468.2" cy="2369.3" r="4.3" fill="#39d13a" opacity="0.85"/><circle cx="437.6" cy="2368.7" r="2.9" fill="#39d13a" opacity="0.85"/><circle cx="498.3" cy="2374.5" r="2.9" fill="#39d13a" opacity="0.85"/><circle cx="606.6" cy="2385.1" r="2.9" fill="#39d13a" opacity="0.85"/><circle cx="384.8" cy="2398.3" r="3.2" fill="#39d13a" opacity="0.85"/><circle cx="353.1" cy="2407.3" r="2.9" fill="#39d13a" opacity="0.85"/><circle cx="350.5" cy="2414.2" r="2.9" fill="#39d13a" opacity="0.85"/><circle cx="427.1" cy="2417.8" r="3.9" fill="#39d13a" opacity="0.85"/><circle cx="447.1" cy="2417.8" r="3.9" fill="#39d13a" opacity="0.85"/><circle cx="473.5" cy="2421.5" r="4.3" fill="#39d13a" opacity="0.85"/><circle cx="583.9" cy="2411" r="2.9" fill="#39d13a" opacity="0.85"/><circle cx="399.6" cy="2430" r="3.6" fill="#39d13a" opacity="0.85"/><circle cx="440.3" cy="2433.7" r="3.2" fill="#39d13a" opacity="0.85"/><circle cx="452.4" cy="2433.7" r="3.2" fill="#39d13a" opacity="0.85"/><circle cx="490.4" cy="2432.1" r="3.9" fill="#39d13a" opacity="0.85"/><circle cx="504.7" cy="2440.6" r="5.7" fill="#39d13a" opacity="0.85"/><circle cx="369" cy="2458.5" r="4.3" fill="#39d13a" opacity="0.85"/><circle cx="390.1" cy="2449.5" r="2.9" fill="#39d13a" opacity="0.85"/><circle cx="413.9" cy="2458.5" r="2.9" fill="#39d13a" opacity="0.85"/><circle cx="458.7" cy="2462.7" r="2.9" fill="#39d13a" opacity="0.85"/><circle cx="392.7" cy="2499.7" r="2.9" fill="#39d13a" opacity="0.85"/><circle cx="363.7" cy="2481.2" r="2.9" fill="#39d13a" opacity="0.85"/><circle cx="548.5" cy="2494.4" r="4.3" fill="#39d13a" opacity="0.85"/><circle cx="588.1" cy="2498.6" r="3.2" fill="#39d13a" opacity="0.85"/><circle cx="419.1" cy="2473.3" r="2.9" fill="#39d13a" opacity="0.85"/><circle cx="474.6" cy="2489.1" r="2.9" fill="#39d13a" opacity="0.85"/><circle cx="511.5" cy="2473.3" r="2.5" fill="#39d13a" opacity="0.85"/><circle cx="358.4" cy="2502.3" r="2.9" fill="#39d13a" opacity="0.85"/><circle cx="396.4" cy="2516.6" r="2.9" fill="#39d13a" opacity="0.85"/><circle cx="377.4" cy="2383.5" r="2.5" fill="#39d13a" opacity="0.85"/><circle cx="408.6" cy="2404.6" r="2.5" fill="#39d13a" opacity="0.85"/><circle cx="485.1" cy="2399.4" r="2.5" fill="#39d13a" opacity="0.85"/><circle cx="527.4" cy="2452.2" r="2.1" fill="#39d13a" opacity="0.85"/></g></g><path d="M392.1,2345.5V2441H497.8V2345.5" fill="none" stroke="#fff" stroke-width="2.3" stroke-dasharray="8.5 4.5"/>
<clipPath id="c12"><rect x="652.6" y="2343.4" width="285.9" height="178.6"/></clipPath><g clip-path="url(#c12)"><rect x="652.6" y="2343.4" width="285.9" height="178.6" fill="#000" filter="url(#tRGs)"/><rect x="652.6" y="2343.4" width="285.9" height="178.6" fill="url(#dk)"/><g filter="url(#cfs)"><ellipse cx="777.1" cy="2361.9" rx="5.9" ry="6.2" fill="#d42a22" opacity="0.95"/><ellipse cx="789.7" cy="2363.5" rx="2.3" ry="2.5" fill="#c02020" opacity="0.9"/><ellipse cx="767.2" cy="2387.6" rx="3.9" ry="4.1" fill="#e02222" opacity="1"/><ellipse cx="730.7" cy="2403.7" rx="3.6" ry="3.8" fill="#ff1616" opacity="1"/></g><g filter="url(#cfs)"><circle cx="743.2" cy="2457.7" r="4.2" fill="#f01818"/><circle cx="756.7" cy="2489" r="4.0" fill="#f01818"/><circle cx="845.7" cy="2509" r="4.4" fill="#f01818"/><circle cx="781.2" cy="2367.2" r="4.3" fill="#39d13a" opacity="0.85"/><circle cx="749.2" cy="2366.6" r="2.9" fill="#39d13a" opacity="0.85"/><circle cx="812.7" cy="2372.4" r="2.9" fill="#39d13a" opacity="0.85"/><circle cx="925.9" cy="2383" r="2.9" fill="#39d13a" opacity="0.85"/><circle cx="694" cy="2396.2" r="3.2" fill="#39d13a" opacity="0.85"/><circle cx="660.9" cy="2405.2" r="2.9" fill="#39d13a" opacity="0.85"/><circle cx="658.1" cy="2412.1" r="2.9" fill="#39d13a" opacity="0.85"/><circle cx="738.2" cy="2415.7" r="3.9" fill="#39d13a" opacity="0.85"/><circle cx="759.1" cy="2415.7" r="3.9" fill="#39d13a" opacity="0.85"/><circle cx="786.7" cy="2419.4" r="4.3" fill="#39d13a" opacity="0.85"/><circle cx="902.1" cy="2408.9" r="2.9" fill="#39d13a" opacity="0.85"/><circle cx="709.5" cy="2427.9" r="3.6" fill="#39d13a" opacity="0.85"/><circle cx="752" cy="2431.6" r="3.2" fill="#39d13a" opacity="0.85"/><circle cx="764.7" cy="2431.6" r="3.2" fill="#39d13a" opacity="0.85"/><circle cx="804.4" cy="2430" r="3.9" fill="#39d13a" opacity="0.85"/><circle cx="819.3" cy="2438.5" r="5.7" fill="#39d13a" opacity="0.85"/><circle cx="677.4" cy="2456.4" r="4.3" fill="#39d13a" opacity="0.85"/><circle cx="699.5" cy="2447.4" r="2.9" fill="#39d13a" opacity="0.85"/><circle cx="724.4" cy="2456.4" r="2.9" fill="#39d13a" opacity="0.85"/><circle cx="771.3" cy="2460.6" r="2.9" fill="#39d13a" opacity="0.85"/><circle cx="702.3" cy="2497.6" r="2.9" fill="#39d13a" opacity="0.85"/><circle cx="671.9" cy="2479.1" r="2.9" fill="#39d13a" opacity="0.85"/><circle cx="865.1" cy="2492.3" r="4.3" fill="#39d13a" opacity="0.85"/><circle cx="906.5" cy="2496.5" r="3.2" fill="#39d13a" opacity="0.85"/><circle cx="729.9" cy="2471.2" r="2.9" fill="#39d13a" opacity="0.85"/><circle cx="787.8" cy="2487" r="2.9" fill="#39d13a" opacity="0.85"/><circle cx="826.5" cy="2471.2" r="2.5" fill="#39d13a" opacity="0.85"/><circle cx="666.4" cy="2500.2" r="2.9" fill="#39d13a" opacity="0.85"/><circle cx="706.1" cy="2514.5" r="2.9" fill="#39d13a" opacity="0.85"/><circle cx="686.3" cy="2381.4" r="2.5" fill="#39d13a" opacity="0.85"/><circle cx="718.8" cy="2402.5" r="2.5" fill="#39d13a" opacity="0.85"/><circle cx="798.9" cy="2397.3" r="2.5" fill="#39d13a" opacity="0.85"/><circle cx="843.1" cy="2450.1" r="2.1" fill="#39d13a" opacity="0.85"/><ellipse cx="777.7" cy="2360.7" rx="4.5" ry="3.7" fill="#cfd42a"/></g></g><path d="M702.8,2343.4V2439.4H809V2343.4" fill="none" stroke="#fff" stroke-width="2.3" stroke-dasharray="8.5 4.5"/>
<clipPath id="c13"><rect x="982.5" y="2335.7" width="281.5" height="186.3"/></clipPath><g clip-path="url(#c13)"><rect x="982.5" y="2335.7" width="281.5" height="186.3" fill="#000" filter="url(#tWs)"/><rect x="982.5" y="2335.7" width="281.5" height="186.3" fill="url(#dk)"/><g filter="url(#cfs)"><ellipse cx="1254" cy="2454" rx="5.3" ry="5" fill="#e4e0e2" fill-opacity="0.20" stroke="#e4e0e2" stroke-opacity="0.65" stroke-width="1.6"/><ellipse cx="986.2" cy="2424.9" rx="3.7" ry="3.5" fill="#e4e0e2" fill-opacity="0.46"/><ellipse cx="1205.6" cy="2509.1" rx="3.6" ry="3.4" fill="#e4e0e2" fill-opacity="0.37"/><ellipse cx="983" cy="2494.1" rx="3.7" ry="3.5" fill="#e4e0e2" fill-opacity="0.10" stroke="#e4e0e2" stroke-opacity="0.32" stroke-width="1.1"/><ellipse cx="998.3" cy="2462.8" rx="5.3" ry="5" fill="#e4e0e2" fill-opacity="0.19" stroke="#e4e0e2" stroke-opacity="0.65" stroke-width="1.6"/><ellipse cx="1169.5" cy="2431.1" rx="5.6" ry="5.3" fill="#e4e0e2" fill-opacity="0.12" stroke="#e4e0e2" stroke-opacity="0.39" stroke-width="1.7"/><ellipse cx="1094.1" cy="2348.6" rx="5" ry="4.8" fill="#e4e0e2" fill-opacity="0.15" stroke="#e4e0e2" stroke-opacity="0.51" stroke-width="1.5"/><ellipse cx="1015.1" cy="2495.5" rx="6" ry="5.7" fill="#e4e0e2" fill-opacity="0.74"/><ellipse cx="1077.7" cy="2402.5" rx="4.2" ry="4" fill="#e4e0e2" fill-opacity="0.15" stroke="#e4e0e2" stroke-opacity="0.51" stroke-width="1.3"/><ellipse cx="1047" cy="2489.8" rx="3.7" ry="3.5" fill="#e4e0e2" fill-opacity="0.23" stroke="#e4e0e2" stroke-opacity="0.76" stroke-width="1.1"/><ellipse cx="1064.8" cy="2336.7" rx="6" ry="5.7" fill="#e4e0e2" fill-opacity="0.56"/><ellipse cx="1139.3" cy="2483.4" rx="4.8" ry="4.6" fill="#e4e0e2" fill-opacity="0.17" stroke="#e4e0e2" stroke-opacity="0.58" stroke-width="1.4"/><ellipse cx="1183" cy="2456.3" rx="5.3" ry="5.1" fill="#e4e0e2" fill-opacity="0.09" stroke="#e4e0e2" stroke-opacity="0.29" stroke-width="1.6"/><ellipse cx="983.9" cy="2415.7" rx="5.7" ry="5.4" fill="#e4e0e2" fill-opacity="0.16" stroke="#e4e0e2" stroke-opacity="0.55" stroke-width="1.7"/><ellipse cx="1108.2" cy="2493.5" rx="4.4" ry="4.2" fill="#e4e0e2" fill-opacity="0.57"/><ellipse cx="1036.9" cy="2450" rx="4.3" ry="4" fill="#e4e0e2" fill-opacity="0.55"/><ellipse cx="1024.8" cy="2407.6" rx="5.6" ry="5.3" fill="#e4e0e2" fill-opacity="0.55"/><ellipse cx="1020.8" cy="2354.8" rx="3.9" ry="3.7" fill="#e4e0e2" fill-opacity="0.45"/><ellipse cx="983.3" cy="2422.5" rx="5.7" ry="5.4" fill="#e4e0e2" fill-opacity="0.77"/><ellipse cx="1028.7" cy="2476.5" rx="5" ry="4.8" fill="#e4e0e2" fill-opacity="0.09" stroke="#e4e0e2" stroke-opacity="0.29" stroke-width="1.5"/><ellipse cx="1209.7" cy="2419.9" rx="3.8" ry="3.6" fill="#e4e0e2" fill-opacity="0.15" stroke="#e4e0e2" stroke-opacity="0.49" stroke-width="1.1"/><ellipse cx="1204.3" cy="2484.3" rx="5.3" ry="5" fill="#e4e0e2" fill-opacity="0.20" stroke="#e4e0e2" stroke-opacity="0.66" stroke-width="1.6"/><ellipse cx="1009.5" cy="2441.4" rx="4.4" ry="4.2" fill="#e4e0e2" fill-opacity="0.17" stroke="#e4e0e2" stroke-opacity="0.58" stroke-width="1.3"/><ellipse cx="1172.9" cy="2460.7" rx="3.8" ry="3.6" fill="#e4e0e2" fill-opacity="0.68"/><ellipse cx="1129.1" cy="2436.4" rx="5.7" ry="5.4" fill="#e4e0e2" fill-opacity="0.23" stroke="#e4e0e2" stroke-opacity="0.76" stroke-width="1.7"/><ellipse cx="1065.5" cy="2519.6" rx="4.3" ry="4.1" fill="#e4e0e2" fill-opacity="0.11" stroke="#e4e0e2" stroke-opacity="0.38" stroke-width="1.3"/><ellipse cx="1127.6" cy="2368.4" rx="4.1" ry="3.9" fill="#e4e0e2" fill-opacity="0.26"/><ellipse cx="1167.9" cy="2435.6" rx="3.7" ry="3.5" fill="#e4e0e2" fill-opacity="0.28"/><ellipse cx="1078" cy="2368.6" rx="5.4" ry="5.2" fill="#e4e0e2" fill-opacity="0.66"/><ellipse cx="1009.8" cy="2490.8" rx="4.5" ry="4.3" fill="#e4e0e2" fill-opacity="0.67"/><ellipse cx="1158" cy="2429.7" rx="4.6" ry="4.4" fill="#e4e0e2" fill-opacity="0.36"/><ellipse cx="1119.1" cy="2442.7" rx="5.3" ry="5" fill="#e4e0e2" fill-opacity="0.79"/><ellipse cx="988.8" cy="2484.1" rx="5" ry="4.7" fill="#e4e0e2" fill-opacity="0.19" stroke="#e4e0e2" stroke-opacity="0.63" stroke-width="1.5"/><ellipse cx="1231.7" cy="2453.1" rx="5.4" ry="5.1" fill="#e4e0e2" fill-opacity="0.08" stroke="#e4e0e2" stroke-opacity="0.28" stroke-width="1.6"/><ellipse cx="982.9" cy="2384.3" rx="4.8" ry="4.5" fill="#e4e0e2" fill-opacity="0.77"/><ellipse cx="1024.2" cy="2472.3" rx="4.4" ry="4.2" fill="#e4e0e2" fill-opacity="0.11" stroke="#e4e0e2" stroke-opacity="0.36" stroke-width="1.3"/><ellipse cx="1117.7" cy="2479.7" rx="4.6" ry="4.4" fill="#e4e0e2" fill-opacity="0.19" stroke="#e4e0e2" stroke-opacity="0.64" stroke-width="1.4"/><ellipse cx="1052.2" cy="2478" rx="4.2" ry="4" fill="#e4e0e2" fill-opacity="0.18" stroke="#e4e0e2" stroke-opacity="0.62" stroke-width="1.3"/><ellipse cx="1041.7" cy="2510.2" rx="5.1" ry="4.9" fill="#e4e0e2" fill-opacity="0.41"/><ellipse cx="1064.1" cy="2412.5" rx="4.8" ry="4.5" fill="#e4e0e2" fill-opacity="0.70"/><ellipse cx="1114.7" cy="2518.6" rx="3.8" ry="3.6" fill="#e4e0e2" fill-opacity="0.20" stroke="#e4e0e2" stroke-opacity="0.66" stroke-width="1.1"/><ellipse cx="1252.5" cy="2418" rx="5.3" ry="5.1" fill="#e4e0e2" fill-opacity="0.78"/><ellipse cx="1234.8" cy="2459.7" rx="4.1" ry="3.9" fill="#e4e0e2" fill-opacity="0.09" stroke="#e4e0e2" stroke-opacity="0.31" stroke-width="1.2"/><ellipse cx="983.1" cy="2453.2" rx="4.8" ry="4.6" fill="#e4e0e2" fill-opacity="0.13" stroke="#e4e0e2" stroke-opacity="0.45" stroke-width="1.4"/><ellipse cx="1011.3" cy="2364.7" rx="5.3" ry="5" fill="#e4e0e2" fill-opacity="0.21" stroke="#e4e0e2" stroke-opacity="0.70" stroke-width="1.6"/><ellipse cx="1124.2" cy="2498.3" rx="4.2" ry="4" fill="#e4e0e2" fill-opacity="0.23" stroke="#e4e0e2" stroke-opacity="0.78" stroke-width="1.3"/><ellipse cx="1017.3" cy="2495.2" rx="5.7" ry="5.4" fill="#e4e0e2" fill-opacity="0.19" stroke="#e4e0e2" stroke-opacity="0.63" stroke-width="1.7"/><ellipse cx="1196.5" cy="2452.6" rx="5.8" ry="5.5" fill="#e4e0e2" fill-opacity="0.20" stroke="#e4e0e2" stroke-opacity="0.68" stroke-width="1.7"/><ellipse cx="1006.7" cy="2438.2" rx="4.6" ry="4.3" fill="#e4e0e2" fill-opacity="0.68"/><ellipse cx="1152.2" cy="2424.8" rx="4.1" ry="3.9" fill="#e4e0e2" fill-opacity="0.66"/><ellipse cx="1113.3" cy="2402" rx="4" ry="3.8" fill="#e4e0e2" fill-opacity="0.09" stroke="#e4e0e2" stroke-opacity="0.31" stroke-width="1.2"/><ellipse cx="1098.5" cy="2398.4" rx="4.6" ry="4.4" fill="#e4e0e2" fill-opacity="0.16" stroke="#e4e0e2" stroke-opacity="0.55" stroke-width="1.4"/><ellipse cx="984.1" cy="2508.7" rx="4.2" ry="4" fill="#e4e0e2" fill-opacity="0.12" stroke="#e4e0e2" stroke-opacity="0.38" stroke-width="1.3"/><ellipse cx="1027.1" cy="2475.7" rx="5.5" ry="5.3" fill="#e4e0e2" fill-opacity="0.76"/><ellipse cx="1150.2" cy="2520.2" rx="4" ry="3.8" fill="#e4e0e2" fill-opacity="0.80"/><ellipse cx="1199.4" cy="2497.9" rx="4" ry="3.8" fill="#e4e0e2" fill-opacity="0.09" stroke="#e4e0e2" stroke-opacity="0.30" stroke-width="1.2"/><ellipse cx="1033.4" cy="2451.2" rx="3.8" ry="3.6" fill="#e4e0e2" fill-opacity="0.08" stroke="#e4e0e2" stroke-opacity="0.26" stroke-width="1.1"/><ellipse cx="985.1" cy="2458.3" rx="4.4" ry="4.1" fill="#e4e0e2" fill-opacity="0.18" stroke="#e4e0e2" stroke-opacity="0.60" stroke-width="1.3"/><ellipse cx="1175.8" cy="2486.2" rx="5.3" ry="5" fill="#e4e0e2" fill-opacity="0.08" stroke="#e4e0e2" stroke-opacity="0.25" stroke-width="1.6"/><ellipse cx="1000.5" cy="2345" rx="4.9" ry="4.7" fill="#e4e0e2" fill-opacity="0.30"/><ellipse cx="1089.5" cy="2482.1" rx="4.7" ry="4.5" fill="#e4e0e2" fill-opacity="0.14" stroke="#e4e0e2" stroke-opacity="0.45" stroke-width="1.4"/><ellipse cx="1045.3" cy="2468.9" rx="5.3" ry="5" fill="#e4e0e2" fill-opacity="0.42"/><ellipse cx="1222.9" cy="2445.1" rx="3.9" ry="3.7" fill="#e4e0e2" fill-opacity="0.37"/><ellipse cx="1176.1" cy="2492.8" rx="5.7" ry="5.4" fill="#e4e0e2" fill-opacity="0.27"/><ellipse cx="1111.9" cy="2366.5" rx="5.8" ry="5.5" fill="#e4e0e2" fill-opacity="0.65"/><ellipse cx="1058.7" cy="2351.5" rx="4.5" ry="4.3" fill="#e4e0e2" fill-opacity="0.65"/><ellipse cx="1042.9" cy="2377.8" rx="5.3" ry="5" fill="#e4e0e2" fill-opacity="0.10" stroke="#e4e0e2" stroke-opacity="0.34" stroke-width="1.6"/><ellipse cx="1065" cy="2426.3" rx="3.5" ry="3.3" fill="#e4e0e2" fill-opacity="0.19" stroke="#e4e0e2" stroke-opacity="0.64" stroke-width="1"/><ellipse cx="1150.1" cy="2491.6" rx="3.5" ry="3.3" fill="#e4e0e2" fill-opacity="0.51"/></g><g filter="url(#cfs)"><ellipse cx="1103.3" cy="2359.6" rx="6" ry="6.3" fill="#d42a22" opacity="0.95"/><ellipse cx="1115.9" cy="2361.1" rx="2.4" ry="2.5" fill="#c02020" opacity="0.9"/><ellipse cx="1093.3" cy="2385.1" rx="4" ry="4.2" fill="#e02222" opacity="1"/><ellipse cx="1056.6" cy="2401.2" rx="3.6" ry="3.8" fill="#ff1616" opacity="1"/></g><g filter="url(#cfs)"><circle cx="1073.1" cy="2450" r="4.2" fill="#f01818"/><circle cx="1086.6" cy="2481.3" r="4.0" fill="#f01818"/><circle cx="1175.6" cy="2501.3" r="4.4" fill="#f01818"/><circle cx="1109.1" cy="2359.5" r="4.3" fill="#39d13a" opacity="0.85"/><circle cx="1077.6" cy="2358.9" r="2.9" fill="#39d13a" opacity="0.85"/><circle cx="1140.1" cy="2364.7" r="2.9" fill="#39d13a" opacity="0.85"/><circle cx="1251.6" cy="2375.3" r="2.9" fill="#39d13a" opacity="0.85"/><circle cx="1023.3" cy="2388.5" r="3.2" fill="#39d13a" opacity="0.85"/><circle cx="990.7" cy="2397.5" r="2.9" fill="#39d13a" opacity="0.85"/><circle cx="987.9" cy="2404.4" r="2.9" fill="#39d13a" opacity="0.85"/><circle cx="1066.7" cy="2408" r="3.9" fill="#39d13a" opacity="0.85"/><circle cx="1087.4" cy="2408" r="3.9" fill="#39d13a" opacity="0.85"/><circle cx="1114.6" cy="2411.7" r="4.3" fill="#39d13a" opacity="0.85"/><circle cx="1228.2" cy="2401.2" r="2.9" fill="#39d13a" opacity="0.85"/><circle cx="1038.5" cy="2420.2" r="3.6" fill="#39d13a" opacity="0.85"/><circle cx="1080.3" cy="2423.9" r="3.2" fill="#39d13a" opacity="0.85"/><circle cx="1092.8" cy="2423.9" r="3.2" fill="#39d13a" opacity="0.85"/><circle cx="1132" cy="2422.3" r="3.9" fill="#39d13a" opacity="0.85"/><circle cx="1146.6" cy="2430.8" r="5.7" fill="#39d13a" opacity="0.85"/><circle cx="1007" cy="2448.7" r="4.3" fill="#39d13a" opacity="0.85"/><circle cx="1028.7" cy="2439.7" r="2.9" fill="#39d13a" opacity="0.85"/><circle cx="1053.2" cy="2448.7" r="2.9" fill="#39d13a" opacity="0.85"/><circle cx="1099.4" cy="2452.9" r="2.9" fill="#39d13a" opacity="0.85"/><circle cx="1031.4" cy="2489.9" r="2.9" fill="#39d13a" opacity="0.85"/><circle cx="1001.5" cy="2471.4" r="2.9" fill="#39d13a" opacity="0.85"/><circle cx="1191.8" cy="2484.6" r="4.3" fill="#39d13a" opacity="0.85"/><circle cx="1232.5" cy="2488.8" r="3.2" fill="#39d13a" opacity="0.85"/><circle cx="1058.6" cy="2463.5" r="2.9" fill="#39d13a" opacity="0.85"/><circle cx="1115.7" cy="2479.3" r="2.9" fill="#39d13a" opacity="0.85"/><circle cx="1153.7" cy="2463.5" r="2.5" fill="#39d13a" opacity="0.85"/><circle cx="996.1" cy="2492.5" r="2.9" fill="#39d13a" opacity="0.85"/><circle cx="1035.2" cy="2506.8" r="2.9" fill="#39d13a" opacity="0.85"/><circle cx="1015.7" cy="2373.7" r="2.5" fill="#39d13a" opacity="0.85"/><circle cx="1047.7" cy="2394.8" r="2.5" fill="#39d13a" opacity="0.85"/><circle cx="1126.5" cy="2389.6" r="2.5" fill="#39d13a" opacity="0.85"/><circle cx="1170" cy="2442.4" r="2.1" fill="#39d13a" opacity="0.85"/><ellipse cx="1103.9" cy="2358.3" rx="4.5" ry="3.7" fill="#cfd42a"/></g></g><path d="M1028.5,2335.7V2436.8H1135.4V2335.7" fill="none" stroke="#fff" stroke-width="2.3" stroke-dasharray="8.5 4.5"/>
<clipPath id="c14"><rect x="1289.2" y="2337.7" width="289.8" height="184.3"/></clipPath><g clip-path="url(#c14)"><rect x="1289.2" y="2337.7" width="289.8" height="184.3" fill="#000" filter="url(#tBs)"/><g filter="url(#cfs)"><ellipse cx="1567.4" cy="2498.4" rx="5.4" ry="4.8" fill="#1e26b8" opacity="0.35"/><ellipse cx="1325.5" cy="2488.4" rx="5.8" ry="6.2" fill="#1a20c4" opacity="0.41"/><ellipse cx="1479.1" cy="2398.5" rx="5.1" ry="4.9" fill="#1e26b8" opacity="0.55"/><ellipse cx="1382.6" cy="2452.2" rx="5.1" ry="3.9" fill="#1416a4" opacity="0.57"/><ellipse cx="1359.9" cy="2514.9" rx="5.7" ry="4.5" fill="#1a20c4" opacity="0.65"/><ellipse cx="1521.6" cy="2490.3" rx="4.2" ry="3.7" fill="#1416a4" opacity="0.39"/><ellipse cx="1469.8" cy="2437.5" rx="5.6" ry="4.2" fill="#1a20c4" opacity="0.68"/><ellipse cx="1522.6" cy="2438.6" rx="5.1" ry="5.6" fill="#1e26b8" opacity="0.44"/><ellipse cx="1440.7" cy="2345" rx="4.5" ry="4.1" fill="#1e26b8" opacity="0.46"/><ellipse cx="1417.4" cy="2349.2" rx="3.8" ry="3.9" fill="#1e26b8" opacity="0.47"/><ellipse cx="1310.1" cy="2452.2" rx="5.3" ry="5.5" fill="#1a1cb0" opacity="0.59"/><ellipse cx="1343.7" cy="2417.2" rx="3.7" ry="2.8" fill="#1a1cb0" opacity="0.79"/><ellipse cx="1498.7" cy="2427.3" rx="5.1" ry="5.2" fill="#1a1cb0" opacity="0.64"/><ellipse cx="1297.3" cy="2506.7" rx="4.1" ry="4.3" fill="#1416a4" opacity="0.41"/><ellipse cx="1345.1" cy="2382.7" rx="3.8" ry="3.7" fill="#323cd0" opacity="0.40"/><ellipse cx="1520.8" cy="2368.5" rx="3.8" ry="2.8" fill="#1a1cb0" opacity="0.69"/><ellipse cx="1350.4" cy="2367.7" rx="4.4" ry="3.7" fill="#1e26b8" opacity="0.44"/><ellipse cx="1537" cy="2496" rx="5" ry="3.9" fill="#1a1cb0" opacity="0.45"/><ellipse cx="1305" cy="2431" rx="4.1" ry="4.4" fill="#323cd0" opacity="0.59"/><ellipse cx="1494.7" cy="2339.2" rx="5.7" ry="5.4" fill="#262ecc" opacity="0.55"/><ellipse cx="1448.5" cy="2512.3" rx="4.8" ry="4.9" fill="#1416a4" opacity="0.81"/><ellipse cx="1466.9" cy="2506.3" rx="4.7" ry="5" fill="#1a20c4" opacity="0.42"/><ellipse cx="1392.3" cy="2480.7" rx="5.8" ry="6.3" fill="#1416a4" opacity="0.44"/><ellipse cx="1367.5" cy="2501.1" rx="4.2" ry="4.5" fill="#323cd0" opacity="0.37"/><ellipse cx="1340.8" cy="2368.5" rx="5.5" ry="5.5" fill="#262ecc" opacity="0.38"/><ellipse cx="1378.7" cy="2349.4" rx="4.4" ry="4.5" fill="#1e26b8" opacity="0.59"/><ellipse cx="1396" cy="2487.4" rx="5.6" ry="4.7" fill="#1a20c4" opacity="0.73"/><ellipse cx="1522.2" cy="2424.7" rx="5.7" ry="6.2" fill="#1a1cb0" opacity="0.69"/><ellipse cx="1567.8" cy="2451.7" rx="4.2" ry="3.7" fill="#323cd0" opacity="0.40"/><ellipse cx="1382.6" cy="2459.4" rx="4.6" ry="4.9" fill="#323cd0" opacity="0.46"/><ellipse cx="1349.4" cy="2383.1" rx="5.6" ry="5.6" fill="#323cd0" opacity="0.64"/><ellipse cx="1331.5" cy="2381.7" rx="3.7" ry="2.9" fill="#262ecc" opacity="0.71"/><ellipse cx="1289.4" cy="2390.2" rx="5" ry="4.2" fill="#1e26b8" opacity="0.63"/><ellipse cx="1551.7" cy="2369.4" rx="5.8" ry="6.4" fill="#262ecc" opacity="0.62"/><ellipse cx="1299.4" cy="2414.7" rx="5.1" ry="4" fill="#1e26b8" opacity="0.54"/><ellipse cx="1360.1" cy="2457.4" rx="5.6" ry="5.2" fill="#1e26b8" opacity="0.84"/><ellipse cx="1323.3" cy="2433.1" rx="5.2" ry="4.4" fill="#1416a4" opacity="0.69"/><ellipse cx="1382.5" cy="2467.1" rx="5.1" ry="5" fill="#262ecc" opacity="0.65"/><ellipse cx="1514.5" cy="2411.1" rx="5.2" ry="5.4" fill="#323cd0" opacity="0.74"/><ellipse cx="1402" cy="2513.6" rx="5.6" ry="5.3" fill="#1a1cb0" opacity="0.67"/><ellipse cx="1327.4" cy="2344.2" rx="3.6" ry="3.4" fill="#1a20c4" opacity="0.45"/><ellipse cx="1368.9" cy="2359.4" rx="5.7" ry="4.8" fill="#1a20c4" opacity="0.60"/><ellipse cx="1557.2" cy="2398.5" rx="5.3" ry="5" fill="#1416a4" opacity="0.73"/><ellipse cx="1383.8" cy="2443.4" rx="5.7" ry="5" fill="#262ecc" opacity="0.47"/><ellipse cx="1521.1" cy="2338.7" rx="5.4" ry="4.5" fill="#1416a4" opacity="0.73"/><ellipse cx="1435.9" cy="2435.3" rx="3.8" ry="3.7" fill="#1e26b8" opacity="0.39"/><ellipse cx="1434.3" cy="2489.8" rx="5.3" ry="4.4" fill="#1a20c4" opacity="0.65"/><ellipse cx="1351.9" cy="2517.7" rx="4.5" ry="4.3" fill="#1a1cb0" opacity="0.71"/><ellipse cx="1357" cy="2448.1" rx="6" ry="6.5" fill="#262ecc" opacity="0.40"/><ellipse cx="1568.9" cy="2446" rx="4" ry="4.4" fill="#1416a4" opacity="0.37"/><ellipse cx="1552.8" cy="2438.6" rx="5.9" ry="4.8" fill="#323cd0" opacity="0.59"/><ellipse cx="1510.2" cy="2474.8" rx="5.6" ry="5.3" fill="#1a20c4" opacity="0.46"/><ellipse cx="1436.9" cy="2508.5" rx="4.1" ry="3.6" fill="#262ecc" opacity="0.42"/><ellipse cx="1499.5" cy="2444.2" rx="5.6" ry="5.7" fill="#1e26b8" opacity="0.56"/><ellipse cx="1506.2" cy="2468" rx="4.5" ry="4.4" fill="#1a20c4" opacity="0.61"/><ellipse cx="1346.4" cy="2443.2" rx="4.7" ry="3.8" fill="#1a1cb0" opacity="0.50"/><ellipse cx="1499.6" cy="2394.7" rx="4.2" ry="4.3" fill="#1e26b8" opacity="0.64"/><ellipse cx="1371.3" cy="2489.5" rx="4.5" ry="4.2" fill="#1a20c4" opacity="0.84"/><ellipse cx="1403.9" cy="2360.7" rx="5.2" ry="3.9" fill="#262ecc" opacity="0.39"/><ellipse cx="1378" cy="2404.9" rx="3.9" ry="3.6" fill="#1a20c4" opacity="0.59"/><ellipse cx="1430.4" cy="2484.4" rx="4.4" ry="3.8" fill="#1416a4" opacity="0.42"/><ellipse cx="1325.1" cy="2342" rx="5.8" ry="4.8" fill="#323cd0" opacity="0.76"/><ellipse cx="1465.1" cy="2409.1" rx="4.6" ry="3.7" fill="#1a20c4" opacity="0.39"/><ellipse cx="1489.1" cy="2498.3" rx="5.8" ry="5.4" fill="#1e26b8" opacity="0.82"/><ellipse cx="1428.6" cy="2440.9" rx="3.7" ry="3.8" fill="#1e26b8" opacity="0.50"/><ellipse cx="1498.9" cy="2452.2" rx="4.2" ry="4.3" fill="#1416a4" opacity="0.64"/><ellipse cx="1446.7" cy="2480.4" rx="3.7" ry="3.8" fill="#323cd0" opacity="0.38"/><ellipse cx="1434.7" cy="2375.2" rx="5.2" ry="5.2" fill="#1a1cb0" opacity="0.83"/><ellipse cx="1568.6" cy="2465.1" rx="5.7" ry="5.7" fill="#1416a4" opacity="0.56"/><ellipse cx="1485.3" cy="2482.1" rx="4.2" ry="4.1" fill="#1e26b8" opacity="0.54"/><ellipse cx="1414.9" cy="2507" rx="3.8" ry="3.6" fill="#1a20c4" opacity="0.68"/><ellipse cx="1310.9" cy="2441.8" rx="4.2" ry="3.7" fill="#262ecc" opacity="0.68"/><ellipse cx="1545.2" cy="2455.3" rx="5.7" ry="4.6" fill="#262ecc" opacity="0.74"/><ellipse cx="1340.8" cy="2456.4" rx="4.8" ry="5" fill="#323cd0" opacity="0.68"/><ellipse cx="1443.5" cy="2384.1" rx="4.5" ry="4.5" fill="#1a20c4" opacity="0.45"/><ellipse cx="1486" cy="2426.5" rx="4.2" ry="4.4" fill="#262ecc" opacity="0.63"/><ellipse cx="1388" cy="2401.9" rx="5.6" ry="5.8" fill="#1a20c4" opacity="0.53"/><ellipse cx="1311.3" cy="2370.4" rx="5.5" ry="4.4" fill="#323cd0" opacity="0.42"/><ellipse cx="1523.7" cy="2440.5" rx="4.7" ry="3.8" fill="#262ecc" opacity="0.74"/><ellipse cx="1369.2" cy="2443.1" rx="5.7" ry="4.6" fill="#323cd0" opacity="0.81"/><ellipse cx="1568.3" cy="2426.6" rx="4.3" ry="3.4" fill="#262ecc" opacity="0.84"/><ellipse cx="1499.8" cy="2499.8" rx="5.5" ry="5" fill="#1e26b8" opacity="0.61"/><ellipse cx="1562.5" cy="2440.6" rx="3.7" ry="3.6" fill="#1e26b8" opacity="0.81"/><ellipse cx="1381.3" cy="2400.2" rx="5" ry="5.5" fill="#1a20c4" opacity="0.81"/><ellipse cx="1318.9" cy="2348.2" rx="4.8" ry="4.6" fill="#1a1cb0" opacity="0.60"/><ellipse cx="1338.3" cy="2376.6" rx="5.1" ry="5.2" fill="#1416a4" opacity="0.73"/><ellipse cx="1566.7" cy="2421.5" rx="5.7" ry="6.3" fill="#1a1cb0" opacity="0.59"/><ellipse cx="1443.6" cy="2414.6" rx="5.2" ry="5.3" fill="#1416a4" opacity="0.47"/><ellipse cx="1523.9" cy="2343.7" rx="5.1" ry="4.4" fill="#1e26b8" opacity="0.67"/><ellipse cx="1486.5" cy="2426.5" rx="3.7" ry="3.8" fill="#1a1cb0" opacity="0.59"/><ellipse cx="1532.8" cy="2474.9" rx="4.9" ry="4.5" fill="#1a1cb0" opacity="0.57"/><ellipse cx="1395.5" cy="2473.7" rx="4" ry="4.3" fill="#1a20c4" opacity="0.58"/><ellipse cx="1337.1" cy="2455.7" rx="4.1" ry="4.5" fill="#1a1cb0" opacity="0.46"/><ellipse cx="1374" cy="2416.5" rx="4.4" ry="4.3" fill="#323cd0" opacity="0.83"/><ellipse cx="1463.3" cy="2509.3" rx="4.1" ry="4.3" fill="#262ecc" opacity="0.62"/><ellipse cx="1483.8" cy="2478.6" rx="3.7" ry="3.8" fill="#1416a4" opacity="0.39"/><ellipse cx="1444.5" cy="2414.4" rx="4.3" ry="3.6" fill="#323cd0" opacity="0.55"/><ellipse cx="1465.1" cy="2392" rx="3.7" ry="2.9" fill="#1a20c4" opacity="0.62"/><ellipse cx="1536.7" cy="2478.3" rx="4.6" ry="4.1" fill="#1416a4" opacity="0.68"/><ellipse cx="1578.4" cy="2404.3" rx="4.7" ry="4.5" fill="#1e26b8" opacity="0.64"/><ellipse cx="1456.3" cy="2473.5" rx="3.9" ry="3.8" fill="#1a20c4" opacity="0.81"/><ellipse cx="1511.6" cy="2352.7" rx="3.9" ry="4.3" fill="#1416a4" opacity="0.46"/><ellipse cx="1434.9" cy="2339.1" rx="5.2" ry="5.4" fill="#1a1cb0" opacity="0.58"/><ellipse cx="1502.6" cy="2422.8" rx="4.1" ry="3.3" fill="#1416a4" opacity="0.84"/><ellipse cx="1487.9" cy="2449.9" rx="5" ry="4" fill="#262ecc" opacity="0.58"/><ellipse cx="1393.4" cy="2415" rx="5.6" ry="4.3" fill="#1e26b8" opacity="0.38"/><ellipse cx="1392.8" cy="2436.1" rx="4" ry="3" fill="#323cd0" opacity="0.49"/><ellipse cx="1369.8" cy="2413.6" rx="3.6" ry="3.2" fill="#323cd0" opacity="0.70"/><ellipse cx="1422.4" cy="2422.5" rx="4.3" ry="3.5" fill="#1a20c4" opacity="0.61"/><ellipse cx="1369.3" cy="2394.7" rx="3.8" ry="3.3" fill="#1416a4" opacity="0.70"/><ellipse cx="1504.9" cy="2506.5" rx="4.7" ry="4.2" fill="#1416a4" opacity="0.72"/><ellipse cx="1441.8" cy="2404.9" rx="5.2" ry="4.5" fill="#323cd0" opacity="0.65"/><ellipse cx="1513.1" cy="2485.4" rx="5.1" ry="5.6" fill="#262ecc" opacity="0.59"/><ellipse cx="1388.6" cy="2410.9" rx="5.4" ry="4.2" fill="#1e26b8" opacity="0.76"/><ellipse cx="1316.4" cy="2429.5" rx="5.2" ry="5.3" fill="#323cd0" opacity="0.45"/><ellipse cx="1366.8" cy="2424.1" rx="5.3" ry="4.6" fill="#323cd0" opacity="0.70"/><ellipse cx="1551.1" cy="2485.8" rx="5.2" ry="4.4" fill="#323cd0" opacity="0.56"/><ellipse cx="1451" cy="2519.2" rx="4.2" ry="3.6" fill="#262ecc" opacity="0.57"/><ellipse cx="1371.8" cy="2451.3" rx="5.5" ry="4.7" fill="#262ecc" opacity="0.53"/><ellipse cx="1510.5" cy="2485.8" rx="5.3" ry="4.4" fill="#262ecc" opacity="0.67"/><ellipse cx="1308.9" cy="2449.4" rx="3.7" ry="3.7" fill="#1416a4" opacity="0.71"/><ellipse cx="1480.2" cy="2491.1" rx="4.7" ry="4" fill="#1a1cb0" opacity="0.62"/><ellipse cx="1421.2" cy="2344.1" rx="4" ry="3" fill="#1a1cb0" opacity="0.77"/><ellipse cx="1381.8" cy="2435.3" rx="4.1" ry="3.3" fill="#1416a4" opacity="0.81"/><ellipse cx="1320" cy="2439" rx="5" ry="4.7" fill="#1a1cb0" opacity="0.42"/><ellipse cx="1314.4" cy="2511.9" rx="5" ry="3.8" fill="#1a1cb0" opacity="0.62"/><ellipse cx="1392.1" cy="2366.2" rx="5.5" ry="4.8" fill="#1a20c4" opacity="0.61"/><ellipse cx="1402.2" cy="2517.4" rx="5.9" ry="5.6" fill="#1a1cb0" opacity="0.53"/><ellipse cx="1293.1" cy="2473.8" rx="4.7" ry="4.5" fill="#323cd0" opacity="0.38"/><ellipse cx="1311.5" cy="2519.2" rx="4" ry="4.2" fill="#1e26b8" opacity="0.67"/><ellipse cx="1373.7" cy="2501.6" rx="4.9" ry="4.3" fill="#262ecc" opacity="0.74"/><ellipse cx="1353.5" cy="2421" rx="5.5" ry="5.2" fill="#1a1cb0" opacity="0.60"/><ellipse cx="1549.7" cy="2406.4" rx="4.5" ry="4.9" fill="#1a1cb0" opacity="0.46"/><ellipse cx="1491.2" cy="2475.9" rx="4.6" ry="3.7" fill="#1a1cb0" opacity="0.84"/><ellipse cx="1311.2" cy="2403.6" rx="3.7" ry="4" fill="#1e26b8" opacity="0.54"/><ellipse cx="1376.2" cy="2372.9" rx="5.1" ry="5" fill="#1a20c4" opacity="0.38"/><ellipse cx="1545.8" cy="2401" rx="5.7" ry="5.3" fill="#1e26b8" opacity="0.40"/><ellipse cx="1431.3" cy="2439.8" rx="5.1" ry="4.9" fill="#1a20c4" opacity="0.45"/><ellipse cx="1424.6" cy="2382.6" rx="3.7" ry="3.2" fill="#262ecc" opacity="0.50"/><ellipse cx="1320" cy="2444.9" rx="3.9" ry="3.5" fill="#1a20c4" opacity="0.38"/><ellipse cx="1321.8" cy="2410.4" rx="6" ry="4.9" fill="#1416a4" opacity="0.35"/><ellipse cx="1329.7" cy="2355.2" rx="5.9" ry="5.5" fill="#262ecc" opacity="0.41"/><ellipse cx="1480.7" cy="2518.5" rx="4.5" ry="3.5" fill="#323cd0" opacity="0.47"/><ellipse cx="1381.1" cy="2421.1" rx="5.1" ry="5.1" fill="#323cd0" opacity="0.61"/><ellipse cx="1333.7" cy="2380.4" rx="4.4" ry="4.5" fill="#1416a4" opacity="0.53"/><ellipse cx="1460.7" cy="2355.9" rx="5.4" ry="4.2" fill="#262ecc" opacity="0.73"/><ellipse cx="1551.2" cy="2510.4" rx="5.9" ry="5.3" fill="#1416a4" opacity="0.55"/><ellipse cx="1356.4" cy="2452.8" rx="4.9" ry="5.4" fill="#1a20c4" opacity="0.52"/><ellipse cx="1304" cy="2385.4" rx="5.5" ry="5.1" fill="#262ecc" opacity="0.70"/><ellipse cx="1569.8" cy="2414.2" rx="3.7" ry="3.6" fill="#1416a4" opacity="0.83"/><ellipse cx="1526.8" cy="2344.5" rx="5.2" ry="5.4" fill="#1416a4" opacity="0.75"/><ellipse cx="1454.9" cy="2457.3" rx="3.7" ry="4" fill="#1e26b8" opacity="0.72"/><ellipse cx="1337.9" cy="2485.6" rx="4.4" ry="4.1" fill="#323cd0" opacity="0.53"/><ellipse cx="1323.1" cy="2347.8" rx="4.9" ry="3.7" fill="#1416a4" opacity="0.47"/><ellipse cx="1553.5" cy="2389.3" rx="5.2" ry="5.6" fill="#262ecc" opacity="0.56"/><ellipse cx="1331.9" cy="2462.2" rx="5.8" ry="5.7" fill="#1a1cb0" opacity="0.47"/><ellipse cx="1379.8" cy="2388.3" rx="5.2" ry="4.9" fill="#323cd0" opacity="0.58"/><ellipse cx="1307.8" cy="2499.5" rx="4.6" ry="4.1" fill="#1a1cb0" opacity="0.40"/><ellipse cx="1465.3" cy="2369.1" rx="3.9" ry="3.7" fill="#1416a4" opacity="0.47"/><ellipse cx="1306.8" cy="2360.2" rx="5.4" ry="6" fill="#1e26b8" opacity="0.55"/><ellipse cx="1574.2" cy="2492.2" rx="4.6" ry="4.8" fill="#1e26b8" opacity="0.51"/><ellipse cx="1381" cy="2503.7" rx="5.2" ry="5.6" fill="#323cd0" opacity="0.84"/><ellipse cx="1321.5" cy="2450.8" rx="4.9" ry="4.7" fill="#1e26b8" opacity="0.60"/><ellipse cx="1460.6" cy="2340.5" rx="5.2" ry="5.3" fill="#323cd0" opacity="0.38"/><ellipse cx="1479.6" cy="2397.1" rx="5.1" ry="5.4" fill="#1416a4" opacity="0.49"/><ellipse cx="1552.4" cy="2499.7" rx="4" ry="3.9" fill="#1e26b8" opacity="0.84"/><ellipse cx="1325.6" cy="2383.8" rx="4.1" ry="3.2" fill="#323cd0" opacity="0.59"/><ellipse cx="1518.5" cy="2452.4" rx="4" ry="3.2" fill="#262ecc" opacity="0.48"/><ellipse cx="1448" cy="2352.1" rx="4" ry="3.1" fill="#1a20c4" opacity="0.45"/><ellipse cx="1360.5" cy="2427.3" rx="5.8" ry="5" fill="#323cd0" opacity="0.75"/><ellipse cx="1434.9" cy="2488.3" rx="5.1" ry="5.2" fill="#1a20c4" opacity="0.54"/><ellipse cx="1350.5" cy="2359.2" rx="4.5" ry="4.2" fill="#1416a4" opacity="0.40"/><ellipse cx="1519" cy="2460.4" rx="4.5" ry="3.7" fill="#323cd0" opacity="0.79"/><ellipse cx="1526.8" cy="2408" rx="6" ry="5.5" fill="#1e26b8" opacity="0.38"/><ellipse cx="1368.1" cy="2382.8" rx="4.9" ry="4.1" fill="#1e26b8" opacity="0.36"/><ellipse cx="1490.1" cy="2506.2" rx="4.9" ry="5.3" fill="#262ecc" opacity="0.74"/><ellipse cx="1289.4" cy="2339.6" rx="4.8" ry="5.1" fill="#1a1cb0" opacity="0.66"/><ellipse cx="1515.2" cy="2439" rx="4" ry="3.6" fill="#1a20c4" opacity="0.45"/><ellipse cx="1561.8" cy="2477.9" rx="5.7" ry="5.7" fill="#1a20c4" opacity="0.79"/><ellipse cx="1349.8" cy="2456.6" rx="3.9" ry="3.8" fill="#1416a4" opacity="0.64"/><ellipse cx="1344.8" cy="2390.9" rx="3.8" ry="3.1" fill="#1a1cb0" opacity="0.78"/><ellipse cx="1468.7" cy="2428.7" rx="5.4" ry="4.9" fill="#1e26b8" opacity="0.64"/><ellipse cx="1481.2" cy="2349.5" rx="4.3" ry="4" fill="#1416a4" opacity="0.56"/><ellipse cx="1552.4" cy="2381.7" rx="3.9" ry="3" fill="#1416a4" opacity="0.50"/><ellipse cx="1293.8" cy="2472.1" rx="5" ry="4.5" fill="#1a20c4" opacity="0.72"/><ellipse cx="1321.7" cy="2497.3" rx="4.3" ry="3.7" fill="#323cd0" opacity="0.84"/><ellipse cx="1399.9" cy="2477.6" rx="5.7" ry="4.8" fill="#1a20c4" opacity="0.72"/><ellipse cx="1366.7" cy="2501.8" rx="5" ry="3.8" fill="#1416a4" opacity="0.62"/><ellipse cx="1340.7" cy="2468.8" rx="4.1" ry="3.1" fill="#1e26b8" opacity="0.42"/><ellipse cx="1315" cy="2425.5" rx="3.8" ry="3.7" fill="#323cd0" opacity="0.83"/><ellipse cx="1455.3" cy="2480" rx="4.8" ry="5.1" fill="#1e26b8" opacity="0.74"/><ellipse cx="1407.4" cy="2365.2" rx="4.7" ry="4.6" fill="#262ecc" opacity="0.74"/><ellipse cx="1372.7" cy="2445.5" rx="4" ry="4.4" fill="#323cd0" opacity="0.39"/><ellipse cx="1426.5" cy="2498.3" rx="5.7" ry="4.6" fill="#1a20c4" opacity="0.38"/><ellipse cx="1337.9" cy="2506.8" rx="4.7" ry="3.8" fill="#1a1cb0" opacity="0.84"/><ellipse cx="1297.4" cy="2480.2" rx="4.3" ry="3.6" fill="#1416a4" opacity="0.51"/><ellipse cx="1410.6" cy="2516.3" rx="6" ry="5.1" fill="#262ecc" opacity="0.73"/><ellipse cx="1341.3" cy="2449.6" rx="4.3" ry="3.3" fill="#262ecc" opacity="0.62"/><ellipse cx="1333.1" cy="2521.4" rx="4.9" ry="4.6" fill="#1a20c4" opacity="0.75"/><ellipse cx="1390" cy="2482.3" rx="4.8" ry="4.5" fill="#1a20c4" opacity="0.84"/><ellipse cx="1319" cy="2487" rx="5" ry="4.7" fill="#1a1cb0" opacity="0.70"/><ellipse cx="1416.7" cy="2393.4" rx="3.7" ry="2.9" fill="#1a1cb0" opacity="0.65"/><ellipse cx="1487.4" cy="2478.1" rx="5.9" ry="6.4" fill="#262ecc" opacity="0.56"/><ellipse cx="1395.3" cy="2492.3" rx="4.4" ry="4.6" fill="#323cd0" opacity="0.74"/><ellipse cx="1437.4" cy="2468.2" rx="5.7" ry="5.7" fill="#1416a4" opacity="0.60"/><ellipse cx="1413.8" cy="2483" rx="5.1" ry="4.3" fill="#1e26b8" opacity="0.47"/><ellipse cx="1374.4" cy="2437.2" rx="5.1" ry="5.1" fill="#323cd0" opacity="0.48"/><ellipse cx="1512.7" cy="2474.8" rx="3.9" ry="3" fill="#1a1cb0" opacity="0.38"/><ellipse cx="1546.3" cy="2439.7" rx="4.4" ry="3.7" fill="#323cd0" opacity="0.58"/><ellipse cx="1290.2" cy="2413.6" rx="5.9" ry="5.5" fill="#1a1cb0" opacity="0.40"/><ellipse cx="1474.2" cy="2438.2" rx="4.8" ry="3.9" fill="#1a20c4" opacity="0.40"/><ellipse cx="1374.1" cy="2476.6" rx="5.3" ry="5" fill="#1a20c4" opacity="0.44"/><ellipse cx="1436.6" cy="2348.1" rx="3.7" ry="3" fill="#1416a4" opacity="0.38"/><ellipse cx="1567.8" cy="2441.1" rx="5.6" ry="4.2" fill="#1416a4" opacity="0.85"/><ellipse cx="1465.1" cy="2491.7" rx="4.9" ry="3.8" fill="#262ecc" opacity="0.67"/><ellipse cx="1354" cy="2363.6" rx="4.3" ry="3.9" fill="#1a20c4" opacity="0.46"/><ellipse cx="1395.6" cy="2367.8" rx="3.7" ry="3.9" fill="#1e26b8" opacity="0.62"/><ellipse cx="1361.3" cy="2514.3" rx="5.2" ry="5.5" fill="#1a1cb0" opacity="0.61"/><ellipse cx="1578.4" cy="2380.5" rx="4.7" ry="5.2" fill="#1a20c4" opacity="0.83"/><ellipse cx="1378.5" cy="2357.3" rx="4.2" ry="4.2" fill="#323cd0" opacity="0.36"/><ellipse cx="1359.9" cy="2491.3" rx="4.8" ry="5.1" fill="#1e26b8" opacity="0.66"/><ellipse cx="1392.1" cy="2461.8" rx="3.8" ry="3.4" fill="#323cd0" opacity="0.57"/><ellipse cx="1543.4" cy="2410.6" rx="3.9" ry="3.4" fill="#1a1cb0" opacity="0.60"/><ellipse cx="1311" cy="2415.2" rx="5.7" ry="6.2" fill="#262ecc" opacity="0.80"/><ellipse cx="1479" cy="2440.5" rx="5.2" ry="4.9" fill="#323cd0" opacity="0.62"/><ellipse cx="1571.7" cy="2411.9" rx="5.1" ry="4.8" fill="#1416a4" opacity="0.77"/><ellipse cx="1322.2" cy="2378.7" rx="5.1" ry="4.9" fill="#1a1cb0" opacity="0.62"/><ellipse cx="1359.9" cy="2448.2" rx="4.4" ry="4.5" fill="#1416a4" opacity="0.77"/><ellipse cx="1352.6" cy="2339.5" rx="4.8" ry="4.5" fill="#323cd0" opacity="0.59"/><ellipse cx="1434.8" cy="2452.2" rx="6" ry="6.2" fill="#323cd0" opacity="0.45"/><ellipse cx="1328.6" cy="2343.1" rx="3.6" ry="3.6" fill="#1a1cb0" opacity="0.62"/><ellipse cx="1371.4" cy="2421.5" rx="5.7" ry="4.4" fill="#1e26b8" opacity="0.50"/><ellipse cx="1321.2" cy="2414.7" rx="3.8" ry="3.8" fill="#262ecc" opacity="0.50"/><ellipse cx="1362.7" cy="2436.5" rx="5.3" ry="4.1" fill="#1a20c4" opacity="0.69"/><ellipse cx="1389.7" cy="2427.1" rx="4" ry="3.1" fill="#262ecc" opacity="0.73"/><ellipse cx="1405.4" cy="2464.6" rx="4.6" ry="4.4" fill="#323cd0" opacity="0.80"/><ellipse cx="1482.2" cy="2395.2" rx="4.9" ry="5.1" fill="#1a1cb0" opacity="0.76"/><ellipse cx="1289.7" cy="2398.5" rx="5.3" ry="4.7" fill="#1a1cb0" opacity="0.71"/><ellipse cx="1334.8" cy="2359.7" rx="5.7" ry="6" fill="#323cd0" opacity="0.71"/><ellipse cx="1436.5" cy="2510.5" rx="5.6" ry="5.4" fill="#262ecc" opacity="0.43"/><ellipse cx="1443.4" cy="2401.4" rx="5.4" ry="5.7" fill="#323cd0" opacity="0.74"/><ellipse cx="1295.6" cy="2392.9" rx="4.1" ry="3.2" fill="#1a1cb0" opacity="0.54"/><ellipse cx="1383.5" cy="2346.9" rx="4.6" ry="4.3" fill="#1e26b8" opacity="0.84"/><ellipse cx="1381.4" cy="2343.6" rx="3.9" ry="3.7" fill="#1e26b8" opacity="0.43"/><ellipse cx="1469.1" cy="2513" rx="4.9" ry="4.6" fill="#1416a4" opacity="0.67"/><ellipse cx="1570.8" cy="2386" rx="5.6" ry="5.7" fill="#262ecc" opacity="0.54"/><ellipse cx="1441.8" cy="2366" rx="5" ry="4.1" fill="#1416a4" opacity="0.54"/><ellipse cx="1417.6" cy="2452.4" rx="5.5" ry="4.6" fill="#1a1cb0" opacity="0.66"/><ellipse cx="1436.5" cy="2358.1" rx="4.7" ry="4.6" fill="#1416a4" opacity="0.82"/><ellipse cx="1545.7" cy="2455.6" rx="3.7" ry="3.2" fill="#323cd0" opacity="0.41"/><ellipse cx="1505.3" cy="2358.5" rx="4.8" ry="3.7" fill="#262ecc" opacity="0.62"/><ellipse cx="1556.7" cy="2344.3" rx="4" ry="3.9" fill="#1a20c4" opacity="0.38"/><ellipse cx="1465.3" cy="2357.1" rx="5.2" ry="4.4" fill="#323cd0" opacity="0.47"/><ellipse cx="1543.5" cy="2428.2" rx="5.5" ry="4.6" fill="#1e26b8" opacity="0.79"/><ellipse cx="1326" cy="2479" rx="5" ry="4.3" fill="#1416a4" opacity="0.80"/><ellipse cx="1575.8" cy="2494.1" rx="5" ry="4.7" fill="#1a20c4" opacity="0.80"/><ellipse cx="1503.9" cy="2496.6" rx="4.1" ry="3.4" fill="#323cd0" opacity="0.37"/><ellipse cx="1331.4" cy="2476.3" rx="6" ry="5" fill="#1e26b8" opacity="0.52"/><ellipse cx="1578.8" cy="2383.2" rx="4.9" ry="5.3" fill="#1a1cb0" opacity="0.83"/><ellipse cx="1440.4" cy="2465.5" rx="5.6" ry="5.4" fill="#1e26b8" opacity="0.69"/><ellipse cx="1310.9" cy="2400.7" rx="5.5" ry="5.5" fill="#1a20c4" opacity="0.50"/><ellipse cx="1557.1" cy="2489.5" rx="4.1" ry="4.5" fill="#262ecc" opacity="0.69"/><ellipse cx="1517.7" cy="2517.7" rx="5.7" ry="5" fill="#323cd0" opacity="0.69"/><ellipse cx="1532.3" cy="2352.5" rx="3.9" ry="3.4" fill="#323cd0" opacity="0.74"/><ellipse cx="1435.4" cy="2493.4" rx="3.8" ry="3.9" fill="#1e26b8" opacity="0.35"/><ellipse cx="1418.1" cy="2439.4" rx="5.7" ry="6.3" fill="#1a1cb0" opacity="0.36"/><ellipse cx="1534.3" cy="2362.1" rx="4.9" ry="4.3" fill="#1a20c4" opacity="0.79"/><ellipse cx="1301.9" cy="2387.4" rx="5.4" ry="5.1" fill="#1a20c4" opacity="0.75"/><ellipse cx="1509.4" cy="2363.4" rx="3.9" ry="4.1" fill="#262ecc" opacity="0.56"/><ellipse cx="1549.4" cy="2379.8" rx="4.2" ry="3.8" fill="#323cd0" opacity="0.62"/><ellipse cx="1433.3" cy="2423.8" rx="5.5" ry="4.3" fill="#262ecc" opacity="0.80"/><ellipse cx="1330.1" cy="2421.7" rx="4.2" ry="4.5" fill="#1a20c4" opacity="0.45"/><ellipse cx="1304.6" cy="2493.8" rx="4.9" ry="5.1" fill="#1416a4" opacity="0.67"/><ellipse cx="1535.9" cy="2484.7" rx="6" ry="5" fill="#1a20c4" opacity="0.79"/><ellipse cx="1552.4" cy="2411.1" rx="5.6" ry="6" fill="#1a20c4" opacity="0.53"/><ellipse cx="1371" cy="2411.7" rx="4.7" ry="3.9" fill="#1a1cb0" opacity="0.63"/><ellipse cx="1416.7" cy="2353.3" rx="3.9" ry="3" fill="#1a20c4" opacity="0.55"/><ellipse cx="1442.4" cy="2360.1" rx="5.9" ry="6.3" fill="#262ecc" opacity="0.48"/><ellipse cx="1476.6" cy="2414.3" rx="3.6" ry="3.3" fill="#1a1cb0" opacity="0.65"/><ellipse cx="1389.2" cy="2500.6" rx="5.9" ry="4.5" fill="#1e26b8" opacity="0.42"/><ellipse cx="1299.7" cy="2488.8" rx="3.7" ry="3.7" fill="#1e26b8" opacity="0.74"/><ellipse cx="1371.7" cy="2402.5" rx="5.4" ry="5.9" fill="#1e26b8" opacity="0.36"/><ellipse cx="1418.1" cy="2452.2" rx="4.2" ry="3.5" fill="#262ecc" opacity="0.50"/><ellipse cx="1346.1" cy="2340.9" rx="5.4" ry="4.1" fill="#1e26b8" opacity="0.38"/><ellipse cx="1367.3" cy="2467.8" rx="4.9" ry="5.1" fill="#1416a4" opacity="0.51"/><ellipse cx="1378.1" cy="2408.2" rx="4.6" ry="4.2" fill="#262ecc" opacity="0.53"/><ellipse cx="1486" cy="2398.6" rx="3.9" ry="4.2" fill="#1416a4" opacity="0.75"/><ellipse cx="1494.7" cy="2516.3" rx="3.8" ry="4.1" fill="#1e26b8" opacity="0.50"/><ellipse cx="1415.3" cy="2424.4" rx="3.6" ry="2.9" fill="#1e26b8" opacity="0.38"/><ellipse cx="1329.8" cy="2420.3" rx="4" ry="3.6" fill="#1a1cb0" opacity="0.74"/><ellipse cx="1316.5" cy="2362.1" rx="4" ry="3.6" fill="#1416a4" opacity="0.81"/><ellipse cx="1466.5" cy="2394.8" rx="3.6" ry="3.4" fill="#1416a4" opacity="0.74"/><ellipse cx="1497.7" cy="2342.9" rx="5.1" ry="5.2" fill="#323cd0" opacity="0.56"/><ellipse cx="1497.2" cy="2518.7" rx="5.2" ry="4.1" fill="#1e26b8" opacity="0.57"/><ellipse cx="1463.3" cy="2445.7" rx="4.2" ry="4.3" fill="#323cd0" opacity="0.53"/><ellipse cx="1304.1" cy="2347.6" rx="5.1" ry="5.5" fill="#262ecc" opacity="0.80"/><ellipse cx="1407.9" cy="2381.3" rx="5" ry="4.8" fill="#1416a4" opacity="0.54"/><ellipse cx="1414.2" cy="2504.9" rx="4.6" ry="4.5" fill="#323cd0" opacity="0.46"/><ellipse cx="1401.8" cy="2347" rx="4.8" ry="4.1" fill="#1a1cb0" opacity="0.35"/><ellipse cx="1328.6" cy="2488.3" rx="4.5" ry="3.7" fill="#1416a4" opacity="0.65"/><ellipse cx="1473.6" cy="2458.3" rx="3.6" ry="3.1" fill="#1e26b8" opacity="0.78"/><ellipse cx="1340.4" cy="2346.9" rx="4.2" ry="3.6" fill="#1a1cb0" opacity="0.83"/><ellipse cx="1482.1" cy="2465.4" rx="4.6" ry="3.9" fill="#1a20c4" opacity="0.48"/><ellipse cx="1537.3" cy="2436.4" rx="5.9" ry="5.5" fill="#1416a4" opacity="0.56"/><ellipse cx="1418" cy="2382.1" rx="5.6" ry="5.8" fill="#323cd0" opacity="0.77"/><ellipse cx="1531.2" cy="2344.3" rx="5.2" ry="4.2" fill="#1a1cb0" opacity="0.44"/><ellipse cx="1343.5" cy="2501.4" rx="5.1" ry="4.5" fill="#1e26b8" opacity="0.79"/><ellipse cx="1302.8" cy="2500.1" rx="3.9" ry="3.9" fill="#262ecc" opacity="0.73"/><ellipse cx="1418.1" cy="2373.3" rx="4.9" ry="3.8" fill="#1a1cb0" opacity="0.75"/><ellipse cx="1430.7" cy="2440" rx="4.1" ry="3.2" fill="#262ecc" opacity="0.83"/><ellipse cx="1428.1" cy="2520.5" rx="5" ry="4.3" fill="#323cd0" opacity="0.77"/><ellipse cx="1508.1" cy="2362.1" rx="4.2" ry="4.5" fill="#323cd0" opacity="0.73"/><ellipse cx="1298.4" cy="2488.6" rx="5.3" ry="4.4" fill="#1a20c4" opacity="0.67"/><ellipse cx="1365.4" cy="2488.7" rx="5.7" ry="5.1" fill="#1a1cb0" opacity="0.57"/><ellipse cx="1349.7" cy="2423" rx="4.1" ry="3.1" fill="#1a1cb0" opacity="0.58"/><ellipse cx="1324.3" cy="2341.6" rx="4.2" ry="3.9" fill="#1a1cb0" opacity="0.78"/><ellipse cx="1417.5" cy="2359.6" rx="4.2" ry="3.2" fill="#1a20c4" opacity="0.84"/><ellipse cx="1522" cy="2444.3" rx="4.5" ry="4.9" fill="#1a20c4" opacity="0.76"/><ellipse cx="1386.2" cy="2404" rx="3.6" ry="2.8" fill="#323cd0" opacity="0.61"/><ellipse cx="1514.4" cy="2403.7" rx="4" ry="3.6" fill="#1e26b8" opacity="0.71"/><ellipse cx="1346.8" cy="2492" rx="3.7" ry="3.8" fill="#1416a4" opacity="0.43"/><ellipse cx="1526.8" cy="2356.5" rx="4.6" ry="4.6" fill="#1a20c4" opacity="0.62"/><ellipse cx="1343.3" cy="2513.4" rx="4.7" ry="4.1" fill="#323cd0" opacity="0.36"/><ellipse cx="1464.1" cy="2392.4" rx="3.7" ry="3" fill="#323cd0" opacity="0.65"/><ellipse cx="1440.7" cy="2488.9" rx="4.1" ry="4.2" fill="#1e26b8" opacity="0.83"/><ellipse cx="1352.6" cy="2467.1" rx="5" ry="4" fill="#323cd0" opacity="0.75"/><ellipse cx="1527.5" cy="2485.5" rx="5" ry="3.9" fill="#1e26b8" opacity="0.53"/><ellipse cx="1363.2" cy="2451.5" rx="3.6" ry="3.4" fill="#1a20c4" opacity="0.64"/><ellipse cx="1335.4" cy="2441.8" rx="4.3" ry="4.4" fill="#323cd0" opacity="0.81"/><ellipse cx="1432.7" cy="2396.3" rx="4.1" ry="4" fill="#1a1cb0" opacity="0.59"/><ellipse cx="1341.5" cy="2465.7" rx="3.8" ry="3.8" fill="#262ecc" opacity="0.36"/><ellipse cx="1560.9" cy="2446" rx="4.6" ry="4.5" fill="#262ecc" opacity="0.38"/><ellipse cx="1297" cy="2478" rx="5.6" ry="5.2" fill="#1e26b8" opacity="0.69"/><ellipse cx="1464.3" cy="2348.7" rx="4.2" ry="3.9" fill="#262ecc" opacity="0.73"/><ellipse cx="1406.9" cy="2481.9" rx="5.5" ry="4.6" fill="#262ecc" opacity="0.79"/><ellipse cx="1515.2" cy="2438.4" rx="5" ry="5.1" fill="#1e26b8" opacity="0.80"/><ellipse cx="1387.3" cy="2491.2" rx="4.4" ry="4.8" fill="#1e26b8" opacity="0.60"/><ellipse cx="1367.3" cy="2489.7" rx="5.1" ry="4.5" fill="#1416a4" opacity="0.77"/><ellipse cx="1571.4" cy="2440.2" rx="3.7" ry="3.7" fill="#1e26b8" opacity="0.45"/><ellipse cx="1364" cy="2471.1" rx="5.4" ry="4.6" fill="#1416a4" opacity="0.38"/><ellipse cx="1448.6" cy="2385.3" rx="4" ry="3.7" fill="#323cd0" opacity="0.39"/><ellipse cx="1350" cy="2439.3" rx="5.5" ry="5.5" fill="#1e26b8" opacity="0.65"/><ellipse cx="1402" cy="2380.5" rx="5.4" ry="4.5" fill="#262ecc" opacity="0.63"/><ellipse cx="1385.7" cy="2443.1" rx="4.8" ry="5" fill="#1416a4" opacity="0.79"/><ellipse cx="1387.3" cy="2476.1" rx="4.2" ry="4.2" fill="#262ecc" opacity="0.85"/><ellipse cx="1451.8" cy="2478.8" rx="4.9" ry="4.4" fill="#323cd0" opacity="0.49"/><ellipse cx="1469.3" cy="2469.5" rx="4.1" ry="3.6" fill="#262ecc" opacity="0.58"/><ellipse cx="1372.9" cy="2427.3" rx="3.9" ry="4" fill="#1a1cb0" opacity="0.61"/><ellipse cx="1562.2" cy="2515.4" rx="4.6" ry="4.7" fill="#1416a4" opacity="0.47"/><ellipse cx="1540.8" cy="2350.4" rx="4.1" ry="3.5" fill="#1416a4" opacity="0.60"/><ellipse cx="1568.4" cy="2508.2" rx="4.8" ry="4.4" fill="#1a20c4" opacity="0.85"/><ellipse cx="1330.9" cy="2341.8" rx="5.6" ry="4.6" fill="#1e26b8" opacity="0.57"/><ellipse cx="1568" cy="2350.1" rx="3.9" ry="3.7" fill="#1416a4" opacity="0.58"/><ellipse cx="1497.3" cy="2459.6" rx="4.8" ry="4.6" fill="#1a1cb0" opacity="0.77"/><ellipse cx="1456.2" cy="2383.3" rx="5.2" ry="4.7" fill="#1e26b8" opacity="0.74"/><ellipse cx="1350.6" cy="2445.4" rx="4.6" ry="4" fill="#262ecc" opacity="0.42"/><ellipse cx="1446.7" cy="2444.4" rx="3.7" ry="3.9" fill="#1a1cb0" opacity="0.51"/><ellipse cx="1471.2" cy="2486.9" rx="3.9" ry="3.8" fill="#1a1cb0" opacity="0.39"/><ellipse cx="1409.4" cy="2440.7" rx="4.1" ry="3.9" fill="#1a20c4" opacity="0.73"/><ellipse cx="1528.1" cy="2437.3" rx="4" ry="3.7" fill="#1a1cb0" opacity="0.49"/><ellipse cx="1514.3" cy="2479.7" rx="3.6" ry="3.5" fill="#1a1cb0" opacity="0.83"/><ellipse cx="1353.8" cy="2503.9" rx="4.5" ry="3.9" fill="#323cd0" opacity="0.41"/><ellipse cx="1296" cy="2399.1" rx="4.3" ry="3.8" fill="#323cd0" opacity="0.41"/><ellipse cx="1534.4" cy="2370.7" rx="5.4" ry="5.3" fill="#323cd0" opacity="0.39"/><ellipse cx="1335.3" cy="2461.3" rx="5.3" ry="4" fill="#1a1cb0" opacity="0.48"/><ellipse cx="1414.8" cy="2443.9" rx="4.4" ry="4.1" fill="#1a20c4" opacity="0.41"/><ellipse cx="1345.1" cy="2376.5" rx="5" ry="4.2" fill="#1416a4" opacity="0.78"/><ellipse cx="1426.3" cy="2448" rx="5.1" ry="4.4" fill="#1416a4" opacity="0.63"/><ellipse cx="1334.5" cy="2356" rx="5.1" ry="4.2" fill="#323cd0" opacity="0.61"/><ellipse cx="1344" cy="2461.4" rx="4.8" ry="4.5" fill="#1e26b8" opacity="0.42"/><ellipse cx="1455" cy="2506.3" rx="3.9" ry="3.2" fill="#1a1cb0" opacity="0.59"/><ellipse cx="1409.7" cy="2344.5" rx="4.7" ry="3.8" fill="#262ecc" opacity="0.44"/><ellipse cx="1501.1" cy="2455.1" rx="5.6" ry="5.4" fill="#262ecc" opacity="0.65"/><ellipse cx="1457.3" cy="2423.9" rx="5.9" ry="6.5" fill="#262ecc" opacity="0.38"/><ellipse cx="1412" cy="2384.9" rx="5.5" ry="5.9" fill="#262ecc" opacity="0.53"/><ellipse cx="1403.9" cy="2485.6" rx="4.4" ry="3.5" fill="#1e26b8" opacity="0.42"/><ellipse cx="1447.5" cy="2476.9" rx="5.7" ry="4.4" fill="#1416a4" opacity="0.80"/><ellipse cx="1544.3" cy="2436.4" rx="4" ry="4.1" fill="#1416a4" opacity="0.64"/><ellipse cx="1390.6" cy="2462.1" rx="4.2" ry="4.3" fill="#1a1cb0" opacity="0.55"/><ellipse cx="1510.3" cy="2510.5" rx="4.2" ry="3.4" fill="#262ecc" opacity="0.73"/><ellipse cx="1578.5" cy="2388" rx="5.9" ry="5" fill="#1416a4" opacity="0.65"/><ellipse cx="1542" cy="2520.7" rx="4.7" ry="3.6" fill="#1e26b8" opacity="0.57"/><ellipse cx="1318.3" cy="2440" rx="5.4" ry="4.9" fill="#262ecc" opacity="0.74"/><ellipse cx="1328.7" cy="2500.4" rx="3.8" ry="4" fill="#1e26b8" opacity="0.73"/><ellipse cx="1566.6" cy="2480.3" rx="5.2" ry="5.5" fill="#323cd0" opacity="0.46"/><ellipse cx="1540" cy="2353.5" rx="4.3" ry="3.8" fill="#1a20c4" opacity="0.61"/><ellipse cx="1357.5" cy="2372.9" rx="5.6" ry="5.7" fill="#1a1cb0" opacity="0.68"/><ellipse cx="1474.6" cy="2464.2" rx="5.2" ry="5.7" fill="#1a1cb0" opacity="0.43"/><ellipse cx="1496.2" cy="2411.4" rx="5.5" ry="4.9" fill="#262ecc" opacity="0.61"/><ellipse cx="1563.8" cy="2377.7" rx="4.4" ry="3.5" fill="#262ecc" opacity="0.45"/><ellipse cx="1472.8" cy="2367.8" rx="3.7" ry="3.9" fill="#262ecc" opacity="0.63"/><ellipse cx="1390.3" cy="2361.9" rx="3.7" ry="3.6" fill="#1e26b8" opacity="0.63"/><ellipse cx="1566.5" cy="2464.5" rx="6" ry="6.5" fill="#1e26b8" opacity="0.81"/><ellipse cx="1410.8" cy="2353.4" rx="3.8" ry="3.7" fill="#323cd0" opacity="0.62"/><ellipse cx="1341.7" cy="2517.9" rx="4.6" ry="3.7" fill="#1e26b8" opacity="0.64"/><ellipse cx="1306.3" cy="2346.4" rx="4.8" ry="3.9" fill="#323cd0" opacity="0.73"/><ellipse cx="1506.1" cy="2387" rx="3.8" ry="3.3" fill="#1e26b8" opacity="0.75"/><ellipse cx="1529.1" cy="2496" rx="3.6" ry="3.5" fill="#1416a4" opacity="0.56"/><ellipse cx="1559.9" cy="2368.8" rx="4.7" ry="4.3" fill="#1e26b8" opacity="0.64"/><ellipse cx="1465.2" cy="2396" rx="3.7" ry="4" fill="#262ecc" opacity="0.74"/><ellipse cx="1466.3" cy="2346.2" rx="5.7" ry="6.2" fill="#262ecc" opacity="0.70"/><ellipse cx="1343.5" cy="2348.2" rx="5.9" ry="4.6" fill="#262ecc" opacity="0.85"/><ellipse cx="1305.1" cy="2493.9" rx="5.6" ry="4.7" fill="#1e26b8" opacity="0.51"/><ellipse cx="1362.7" cy="2368.3" rx="4.4" ry="3.6" fill="#1e26b8" opacity="0.71"/><ellipse cx="1373.8" cy="2363.3" rx="5.3" ry="5.1" fill="#1e26b8" opacity="0.45"/><ellipse cx="1537.8" cy="2340.6" rx="4.6" ry="4.4" fill="#323cd0" opacity="0.48"/><ellipse cx="1377.9" cy="2482.1" rx="5.4" ry="4.6" fill="#1e26b8" opacity="0.60"/><ellipse cx="1559.8" cy="2447.2" rx="5.8" ry="4.7" fill="#1416a4" opacity="0.66"/><ellipse cx="1447.8" cy="2487.1" rx="4.8" ry="4.9" fill="#262ecc" opacity="0.69"/><ellipse cx="1503" cy="2394.6" rx="5.2" ry="4.7" fill="#1a1cb0" opacity="0.51"/><ellipse cx="1369.5" cy="2438.7" rx="4.7" ry="4.5" fill="#1a1cb0" opacity="0.39"/><ellipse cx="1565" cy="2350.1" rx="4.1" ry="3.8" fill="#1416a4" opacity="0.48"/><ellipse cx="1506.1" cy="2496.2" rx="4.3" ry="3.6" fill="#323cd0" opacity="0.37"/><ellipse cx="1379.6" cy="2467.7" rx="4.3" ry="4.3" fill="#1a1cb0" opacity="0.83"/><ellipse cx="1413.2" cy="2410.7" rx="4.6" ry="4.9" fill="#1416a4" opacity="0.67"/><ellipse cx="1403.2" cy="2363.9" rx="3.6" ry="3.9" fill="#262ecc" opacity="0.77"/><ellipse cx="1476.9" cy="2398.4" rx="3.6" ry="2.7" fill="#323cd0" opacity="0.84"/><ellipse cx="1292.6" cy="2495" rx="5.3" ry="4.9" fill="#1a20c4" opacity="0.74"/><ellipse cx="1565.4" cy="2448.3" rx="5.8" ry="5.7" fill="#323cd0" opacity="0.46"/><ellipse cx="1347.2" cy="2461.9" rx="5.7" ry="4.3" fill="#323cd0" opacity="0.50"/><ellipse cx="1470.4" cy="2406.3" rx="3.6" ry="2.8" fill="#323cd0" opacity="0.70"/><ellipse cx="1397.9" cy="2413.8" rx="3.6" ry="3" fill="#1a1cb0" opacity="0.55"/><ellipse cx="1540.4" cy="2479.3" rx="4.3" ry="3.7" fill="#323cd0" opacity="0.63"/><ellipse cx="1409.6" cy="2489.6" rx="6" ry="4.9" fill="#323cd0" opacity="0.59"/><ellipse cx="1380.2" cy="2362.5" rx="4.4" ry="4.3" fill="#1a20c4" opacity="0.82"/><ellipse cx="1441" cy="2390.4" rx="5.1" ry="4.3" fill="#1a1cb0" opacity="0.60"/><ellipse cx="1300.2" cy="2463.2" rx="4.1" ry="3.3" fill="#1a1cb0" opacity="0.36"/><ellipse cx="1500.9" cy="2434.2" rx="3.8" ry="3.7" fill="#1e26b8" opacity="0.65"/><ellipse cx="1524.8" cy="2512.4" rx="5.8" ry="4.4" fill="#1a1cb0" opacity="0.71"/><ellipse cx="1306.3" cy="2511.1" rx="5.1" ry="4.9" fill="#262ecc" opacity="0.64"/></g><g filter="url(#cfs)"><ellipse cx="1567.6" cy="2485.4" rx="5.9" ry="5.6" fill="#c4c6f6" fill-opacity="0.20" stroke="#c4c6f6" stroke-opacity="0.65" stroke-width="1.8"/><ellipse cx="1291.3" cy="2373.2" rx="3.5" ry="3.3" fill="#c4c6f6" fill-opacity="0.47"/><ellipse cx="1321.1" cy="2416.1" rx="6" ry="5.7" fill="#c4c6f6" fill-opacity="0.10" stroke="#c4c6f6" stroke-opacity="0.33" stroke-width="1.8"/><ellipse cx="1303.4" cy="2444" rx="5.8" ry="5.5" fill="#c4c6f6" fill-opacity="0.23" stroke="#c4c6f6" stroke-opacity="0.77" stroke-width="1.7"/><ellipse cx="1382.6" cy="2494.9" rx="4.9" ry="4.7" fill="#c4c6f6" fill-opacity="0.47"/><ellipse cx="1294.2" cy="2509" rx="6" ry="5.7" fill="#c4c6f6" fill-opacity="0.33"/><ellipse cx="1326.9" cy="2476.9" rx="4.7" ry="4.5" fill="#c4c6f6" fill-opacity="0.13" stroke="#c4c6f6" stroke-opacity="0.42" stroke-width="1.4"/><ellipse cx="1484.7" cy="2494.3" rx="4.2" ry="4" fill="#c4c6f6" fill-opacity="0.48"/><ellipse cx="1374.9" cy="2476.1" rx="4.5" ry="4.2" fill="#c4c6f6" fill-opacity="0.13" stroke="#c4c6f6" stroke-opacity="0.44" stroke-width="1.3"/><ellipse cx="1370.3" cy="2522.5" rx="4" ry="3.8" fill="#c4c6f6" fill-opacity="0.38"/><ellipse cx="1289.4" cy="2484.2" rx="4.4" ry="4.1" fill="#c4c6f6" fill-opacity="0.28"/><ellipse cx="1301.1" cy="2468.7" rx="5.2" ry="4.9" fill="#c4c6f6" fill-opacity="0.23" stroke="#c4c6f6" stroke-opacity="0.78" stroke-width="1.6"/><ellipse cx="1459.6" cy="2511" rx="4.1" ry="3.9" fill="#c4c6f6" fill-opacity="0.79"/><ellipse cx="1294.3" cy="2445.7" rx="5" ry="4.7" fill="#c4c6f6" fill-opacity="0.33"/><ellipse cx="1301.9" cy="2409.4" rx="3.6" ry="3.4" fill="#c4c6f6" fill-opacity="0.17" stroke="#c4c6f6" stroke-opacity="0.58" stroke-width="1.1"/><ellipse cx="1507.7" cy="2426" rx="3.9" ry="3.7" fill="#c4c6f6" fill-opacity="0.11" stroke="#c4c6f6" stroke-opacity="0.36" stroke-width="1.2"/><ellipse cx="1535.9" cy="2522.1" rx="4.2" ry="4" fill="#c4c6f6" fill-opacity="0.52"/><ellipse cx="1351.6" cy="2415.9" rx="4.4" ry="4.2" fill="#c4c6f6" fill-opacity="0.15" stroke="#c4c6f6" stroke-opacity="0.51" stroke-width="1.3"/><ellipse cx="1352.1" cy="2365.7" rx="4.8" ry="4.5" fill="#c4c6f6" fill-opacity="0.13" stroke="#c4c6f6" stroke-opacity="0.44" stroke-width="1.4"/><ellipse cx="1425.5" cy="2439.3" rx="5.5" ry="5.2" fill="#c4c6f6" fill-opacity="0.34"/><ellipse cx="1545.2" cy="2518.7" rx="4" ry="3.8" fill="#c4c6f6" fill-opacity="0.75"/><ellipse cx="1346.5" cy="2386.9" rx="4.8" ry="4.6" fill="#c4c6f6" fill-opacity="0.19" stroke="#c4c6f6" stroke-opacity="0.62" stroke-width="1.5"/><ellipse cx="1375.1" cy="2381.3" rx="5.5" ry="5.2" fill="#c4c6f6" fill-opacity="0.22" stroke="#c4c6f6" stroke-opacity="0.73" stroke-width="1.6"/><ellipse cx="1309.8" cy="2466.7" rx="3.4" ry="3.2" fill="#c4c6f6" fill-opacity="0.12" stroke="#c4c6f6" stroke-opacity="0.41" stroke-width="1"/><ellipse cx="1346.4" cy="2415.2" rx="4.9" ry="4.7" fill="#c4c6f6" fill-opacity="0.52"/><ellipse cx="1463.1" cy="2521.6" rx="5.9" ry="5.6" fill="#c4c6f6" fill-opacity="0.62"/><ellipse cx="1289.4" cy="2509.5" rx="4.5" ry="4.3" fill="#c4c6f6" fill-opacity="0.15" stroke="#c4c6f6" stroke-opacity="0.50" stroke-width="1.3"/><ellipse cx="1320.6" cy="2514.2" rx="5.8" ry="5.5" fill="#c4c6f6" fill-opacity="0.14" stroke="#c4c6f6" stroke-opacity="0.46" stroke-width="1.7"/><ellipse cx="1291.4" cy="2438.7" rx="3.8" ry="3.6" fill="#c4c6f6" fill-opacity="0.21" stroke="#c4c6f6" stroke-opacity="0.69" stroke-width="1.1"/><ellipse cx="1305.1" cy="2349.7" rx="3.5" ry="3.3" fill="#c4c6f6" fill-opacity="0.20" stroke="#c4c6f6" stroke-opacity="0.68" stroke-width="1"/><ellipse cx="1548.5" cy="2436" rx="5.2" ry="4.9" fill="#c4c6f6" fill-opacity="0.72"/><ellipse cx="1306" cy="2371.1" rx="4.5" ry="4.3" fill="#c4c6f6" fill-opacity="0.12" stroke="#c4c6f6" stroke-opacity="0.39" stroke-width="1.3"/><ellipse cx="1293.3" cy="2449.9" rx="5.3" ry="5" fill="#c4c6f6" fill-opacity="0.36"/><ellipse cx="1293" cy="2359.1" rx="3.6" ry="3.4" fill="#c4c6f6" fill-opacity="0.22" stroke="#c4c6f6" stroke-opacity="0.72" stroke-width="1.1"/><ellipse cx="1291.9" cy="2449.7" rx="4.1" ry="3.9" fill="#c4c6f6" fill-opacity="0.14" stroke="#c4c6f6" stroke-opacity="0.47" stroke-width="1.2"/><ellipse cx="1455.8" cy="2479.8" rx="4.5" ry="4.2" fill="#c4c6f6" fill-opacity="0.09" stroke="#c4c6f6" stroke-opacity="0.31" stroke-width="1.3"/><ellipse cx="1542.3" cy="2508.8" rx="4.8" ry="4.6" fill="#c4c6f6" fill-opacity="0.27"/><ellipse cx="1309.3" cy="2357" rx="5.6" ry="5.3" fill="#c4c6f6" fill-opacity="0.79"/><ellipse cx="1346.4" cy="2488.3" rx="4.9" ry="4.6" fill="#c4c6f6" fill-opacity="0.24" stroke="#c4c6f6" stroke-opacity="0.78" stroke-width="1.5"/><ellipse cx="1289.7" cy="2419.9" rx="3.8" ry="3.6" fill="#c4c6f6" fill-opacity="0.51"/><ellipse cx="1432.6" cy="2443.8" rx="4.6" ry="4.3" fill="#c4c6f6" fill-opacity="0.71"/><ellipse cx="1331.9" cy="2403.6" rx="4.4" ry="4.2" fill="#c4c6f6" fill-opacity="0.14" stroke="#c4c6f6" stroke-opacity="0.48" stroke-width="1.3"/><ellipse cx="1293.3" cy="2383.6" rx="5.4" ry="5.1" fill="#c4c6f6" fill-opacity="0.13" stroke="#c4c6f6" stroke-opacity="0.45" stroke-width="1.6"/><ellipse cx="1293.8" cy="2472" rx="4.4" ry="4.2" fill="#c4c6f6" fill-opacity="0.24" stroke="#c4c6f6" stroke-opacity="0.79" stroke-width="1.3"/><ellipse cx="1293.6" cy="2483.9" rx="3.4" ry="3.2" fill="#c4c6f6" fill-opacity="0.49"/><ellipse cx="1480.8" cy="2464.1" rx="5.3" ry="5" fill="#c4c6f6" fill-opacity="0.11" stroke="#c4c6f6" stroke-opacity="0.37" stroke-width="1.6"/><ellipse cx="1467.9" cy="2427.8" rx="4.5" ry="4.3" fill="#c4c6f6" fill-opacity="0.18" stroke="#c4c6f6" stroke-opacity="0.61" stroke-width="1.4"/><ellipse cx="1340.2" cy="2482.9" rx="3.7" ry="3.5" fill="#c4c6f6" fill-opacity="0.66"/><ellipse cx="1575.7" cy="2432.1" rx="5.1" ry="4.8" fill="#c4c6f6" fill-opacity="0.66"/><ellipse cx="1397.2" cy="2445.8" rx="5.7" ry="5.4" fill="#c4c6f6" fill-opacity="0.09" stroke="#c4c6f6" stroke-opacity="0.29" stroke-width="1.7"/><ellipse cx="1294.6" cy="2411.6" rx="3.5" ry="3.3" fill="#c4c6f6" fill-opacity="0.09" stroke="#c4c6f6" stroke-opacity="0.28" stroke-width="1"/><ellipse cx="1308.5" cy="2424" rx="4" ry="3.8" fill="#c4c6f6" fill-opacity="0.22" stroke="#c4c6f6" stroke-opacity="0.75" stroke-width="1.2"/><ellipse cx="1572.2" cy="2470.2" rx="4.2" ry="4" fill="#c4c6f6" fill-opacity="0.11" stroke="#c4c6f6" stroke-opacity="0.37" stroke-width="1.2"/><ellipse cx="1290.2" cy="2354.5" rx="5.4" ry="5.1" fill="#c4c6f6" fill-opacity="0.58"/><ellipse cx="1509.5" cy="2383.5" rx="5.1" ry="4.9" fill="#c4c6f6" fill-opacity="0.55"/><ellipse cx="1526.8" cy="2460.2" rx="5.1" ry="4.9" fill="#c4c6f6" fill-opacity="0.66"/><ellipse cx="1387.4" cy="2455.7" rx="4.6" ry="4.4" fill="#c4c6f6" fill-opacity="0.53"/><ellipse cx="1289.6" cy="2379.4" rx="4.7" ry="4.5" fill="#c4c6f6" fill-opacity="0.61"/><ellipse cx="1307.3" cy="2504.9" rx="3.7" ry="3.5" fill="#c4c6f6" fill-opacity="0.55"/><ellipse cx="1302.2" cy="2521.2" rx="5.4" ry="5.1" fill="#c4c6f6" fill-opacity="0.63"/><ellipse cx="1370" cy="2438.6" rx="4.2" ry="4" fill="#c4c6f6" fill-opacity="0.14" stroke="#c4c6f6" stroke-opacity="0.45" stroke-width="1.3"/><ellipse cx="1323.1" cy="2451.9" rx="5.8" ry="5.5" fill="#c4c6f6" fill-opacity="0.22" stroke="#c4c6f6" stroke-opacity="0.73" stroke-width="1.7"/><ellipse cx="1528.9" cy="2466.5" rx="5.7" ry="5.4" fill="#c4c6f6" fill-opacity="0.63"/><ellipse cx="1369.9" cy="2520.7" rx="5" ry="4.7" fill="#c4c6f6" fill-opacity="0.15" stroke="#c4c6f6" stroke-opacity="0.51" stroke-width="1.5"/><ellipse cx="1421.6" cy="2519" rx="4.3" ry="4.1" fill="#c4c6f6" fill-opacity="0.39"/><ellipse cx="1509.6" cy="2347.2" rx="4.4" ry="4.2" fill="#c4c6f6" fill-opacity="0.17" stroke="#c4c6f6" stroke-opacity="0.58" stroke-width="1.3"/><ellipse cx="1438.4" cy="2461.6" rx="3.6" ry="3.4" fill="#c4c6f6" fill-opacity="0.23" stroke="#c4c6f6" stroke-opacity="0.77" stroke-width="1.1"/></g><g filter="url(#cfs)"><ellipse cx="1414" cy="2361.7" rx="6" ry="6.3" fill="#d42a22" opacity="0.95"/><ellipse cx="1426.6" cy="2363.3" rx="2.4" ry="2.5" fill="#c02020" opacity="0.9"/><ellipse cx="1403.9" cy="2387.5" rx="4" ry="4.2" fill="#e0206a" opacity="1"/><ellipse cx="1367.2" cy="2403.7" rx="3.6" ry="3.8" fill="#ff1f7a" opacity="1"/></g><g filter="url(#cfs)"><circle cx="1379.8" cy="2452" r="4.2" fill="#f0208a"/><circle cx="1393.3" cy="2483.3" r="4.0" fill="#f0208a"/><circle cx="1482.3" cy="2503.3" r="4.4" fill="#f0208a"/><circle cx="1419.6" cy="2361.5" r="4.3" fill="#2fc9a8" opacity="0.55"/><circle cx="1387.1" cy="2360.9" r="2.9" fill="#2fc9a8" opacity="0.55"/><circle cx="1451.5" cy="2366.7" r="2.9" fill="#2fc9a8" opacity="0.55"/><circle cx="1566.2" cy="2377.3" r="2.9" fill="#2fc9a8" opacity="0.55"/><circle cx="1331.2" cy="2390.5" r="3.2" fill="#2fc9a8" opacity="0.55"/><circle cx="1297.6" cy="2399.5" r="2.9" fill="#2fc9a8" opacity="0.55"/><circle cx="1294.8" cy="2406.4" r="2.9" fill="#2fc9a8" opacity="0.55"/><circle cx="1375.9" cy="2410" r="3.9" fill="#2fc9a8" opacity="0.55"/><circle cx="1397.2" cy="2410" r="3.9" fill="#2fc9a8" opacity="0.55"/><circle cx="1425.2" cy="2413.7" r="4.3" fill="#2fc9a8" opacity="0.55"/><circle cx="1542.1" cy="2403.2" r="2.9" fill="#2fc9a8" opacity="0.55"/><circle cx="1346.8" cy="2422.2" r="3.6" fill="#2fc9a8" opacity="0.55"/><circle cx="1389.9" cy="2425.9" r="3.2" fill="#2fc9a8" opacity="0.55"/><circle cx="1402.8" cy="2425.9" r="3.2" fill="#2fc9a8" opacity="0.55"/><circle cx="1443.1" cy="2424.3" r="3.9" fill="#2fc9a8" opacity="0.55"/><circle cx="1458.2" cy="2432.8" r="5.7" fill="#2fc9a8" opacity="0.55"/><circle cx="1314.4" cy="2450.7" r="4.3" fill="#2fc9a8" opacity="0.55"/><circle cx="1336.8" cy="2441.7" r="2.9" fill="#2fc9a8" opacity="0.55"/><circle cx="1361.9" cy="2450.7" r="2.9" fill="#2fc9a8" opacity="0.55"/><circle cx="1409.5" cy="2454.9" r="2.9" fill="#2fc9a8" opacity="0.55"/><circle cx="1339.6" cy="2491.9" r="2.9" fill="#2fc9a8" opacity="0.55"/><circle cx="1308.8" cy="2473.4" r="2.9" fill="#2fc9a8" opacity="0.55"/><circle cx="1504.6" cy="2486.6" r="4.3" fill="#2fc9a8" opacity="0.55"/><circle cx="1546.6" cy="2490.8" r="3.2" fill="#2fc9a8" opacity="0.55"/><circle cx="1367.5" cy="2465.5" r="2.9" fill="#2fc9a8" opacity="0.55"/><circle cx="1426.3" cy="2481.3" r="2.9" fill="#2fc9a8" opacity="0.55"/><circle cx="1465.5" cy="2465.5" r="2.5" fill="#2fc9a8" opacity="0.55"/><circle cx="1303.2" cy="2494.5" r="2.9" fill="#2fc9a8" opacity="0.55"/><circle cx="1343.5" cy="2508.8" r="2.9" fill="#2fc9a8" opacity="0.55"/><circle cx="1323.3" cy="2375.7" r="2.5" fill="#2fc9a8" opacity="0.55"/><circle cx="1356.3" cy="2396.8" r="2.5" fill="#2fc9a8" opacity="0.55"/><circle cx="1437.5" cy="2391.6" r="2.5" fill="#2fc9a8" opacity="0.55"/><circle cx="1482.3" cy="2444.4" r="2.1" fill="#2fc9a8" opacity="0.55"/><ellipse cx="1414.5" cy="2360.5" rx="4.5" ry="3.7" fill="#cfd42a"/></g></g><path d="M1339.1,2337.7V2439.5H1446.1V2337.7" fill="none" stroke="#fff" stroke-width="2.3" stroke-dasharray="8.5 4.5"/>
<path d="M36.7,2311.3L89,2338.6M313.8,2311.3L195.8,2338.6" stroke="#000" stroke-width="2.3" stroke-dasharray="9.5 6.5" fill="none"/>
<path d="M343,2307.5L392.1,2338.6M623.4,2307.5L497.8,2338.6" stroke="#000" stroke-width="2.3" stroke-dasharray="9.5 6.5" fill="none"/>
<path d="M657,2307.5L702.8,2337M937.8,2307.5L809,2337" stroke="#000" stroke-width="2.3" stroke-dasharray="9.5 6.5" fill="none"/>
<path d="M982.5,2305.3L1028.5,2334.7M1259.7,2305.3L1135.4,2334.7" stroke="#000" stroke-width="2.3" stroke-dasharray="9.5 6.5" fill="none"/>
<path d="M1286.8,2304.9L1339.1,2336.7M1574.3,2304.9L1446.1,2336.7" stroke="#000" stroke-width="2.3" stroke-dasharray="9.5 6.5" fill="none"/>
<rect x="1548.7" y="2287.3" width="17.7" height="7.2" fill="#fff"/>
<text x="1521.2" y="2279.5" font-size="19.5" textLength="48" lengthAdjust="spacingAndGlyphs" fill="#fff">5 µm</text>
</svg>
</body></html>
